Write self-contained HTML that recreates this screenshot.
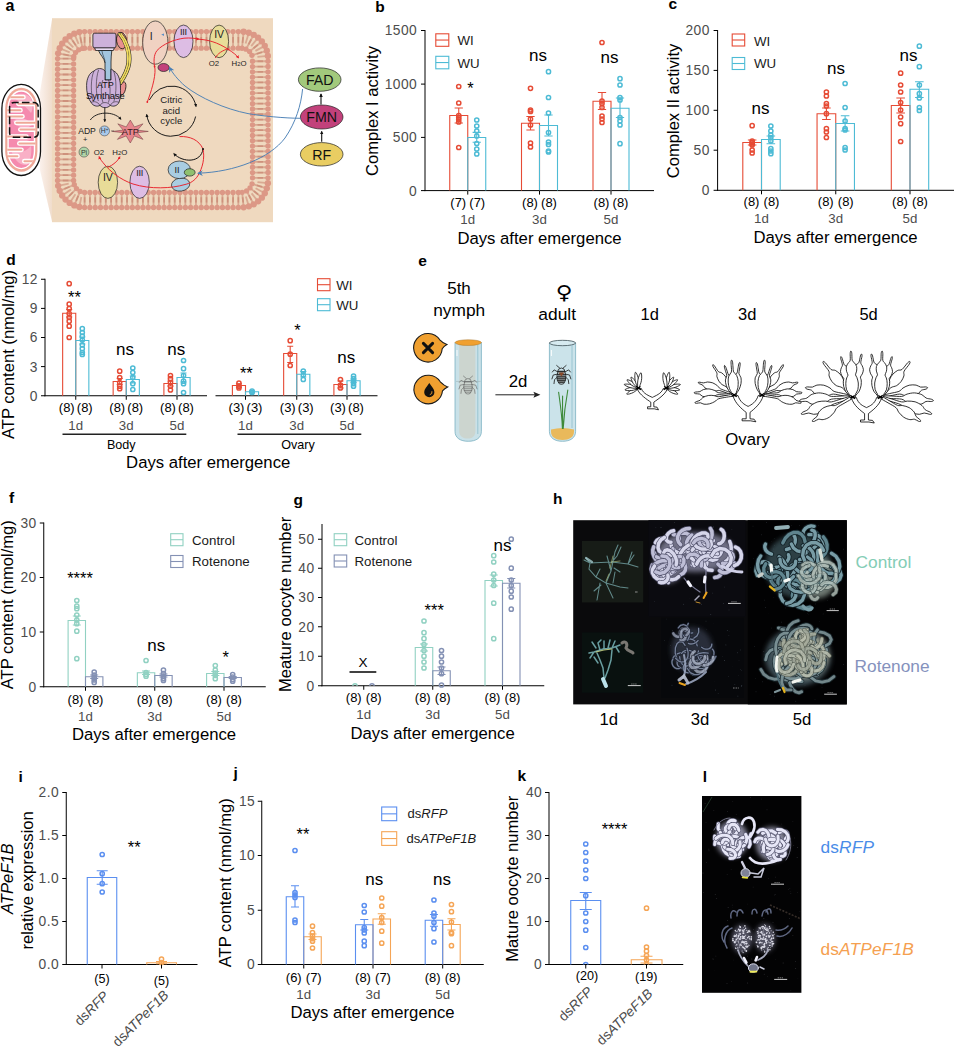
<!DOCTYPE html>
<html lang="en"><head><meta charset="utf-8"><title>Figure</title>
<style>
html,body{margin:0;padding:0;background:#fff;overflow:hidden;}
svg{display:block;font-family:"Liberation Sans",Arial,sans-serif;}
</style></head><body>
<svg width="954" height="1046" viewBox="0 0 954 1046">
<rect width="954" height="1046" fill="#fff"/>
<text x="375.3" y="12" font-size="15.5" text-anchor="start" fill="#000" font-weight="bold">b</text>
<line x1="425" y1="30" x2="425" y2="191.1" stroke="#000" stroke-width="1" />
<line x1="424.5" y1="190.6" x2="654" y2="190.6" stroke="#000" stroke-width="1" />
<line x1="421" y1="30.5" x2="425" y2="30.5" stroke="#000" stroke-width="1" />
<text x="417.2" y="35.47" font-size="13.8" text-anchor="end" fill="#4d4d4d" letter-spacing="0.45">1500</text>
<line x1="421" y1="84.1" x2="425" y2="84.1" stroke="#000" stroke-width="1" />
<text x="417.2" y="89.07" font-size="13.8" text-anchor="end" fill="#4d4d4d" letter-spacing="0.45">1000</text>
<line x1="421" y1="137.4" x2="425" y2="137.4" stroke="#000" stroke-width="1" />
<text x="417.2" y="142.37" font-size="13.8" text-anchor="end" fill="#4d4d4d" letter-spacing="0.45">500</text>
<line x1="421" y1="190.6" x2="425" y2="190.6" stroke="#000" stroke-width="1" />
<text x="417.2" y="195.57" font-size="13.8" text-anchor="end" fill="#4d4d4d" letter-spacing="0.45">0</text>
<text transform="translate(377.5,111) rotate(-90)" font-size="16.6" text-anchor="middle" fill="#000" >Complex I activity</text>
<path d="M449.75 190.6V115.5H467.75V190.6" fill="#fff" fill-opacity="0.0" stroke="#E64B35" stroke-width="1.1"/>
<path d="M467.75 190.6V137.5H485.75V190.6" fill="#fff" fill-opacity="0.0" stroke="#4DBBD5" stroke-width="1.1"/>
<path d="M458.75 108V123M454.61 108H462.89M454.61 123H462.89" fill="none" stroke="#E64B35" stroke-width="1.1"/>
<circle cx="458.75" cy="86.5" r="2.1" fill="none" stroke="#E64B35" stroke-width="1.5"/><circle cx="458.75" cy="103" r="2.1" fill="none" stroke="#E64B35" stroke-width="1.5"/><circle cx="458.75" cy="115.5" r="2.1" fill="none" stroke="#E64B35" stroke-width="1.5"/><circle cx="458.75" cy="117.5" r="2.1" fill="none" stroke="#E64B35" stroke-width="1.5"/><circle cx="458.75" cy="119.5" r="2.1" fill="none" stroke="#E64B35" stroke-width="1.5"/><circle cx="458.75" cy="122" r="2.1" fill="none" stroke="#E64B35" stroke-width="1.5"/><circle cx="458.75" cy="147.5" r="2.1" fill="none" stroke="#E64B35" stroke-width="1.5"/>
<path d="M476.75 132.4V142.2M472.61 132.4H480.89M472.61 142.2H480.89" fill="none" stroke="#4DBBD5" stroke-width="1.1"/>
<circle cx="476.75" cy="120" r="2.1" fill="none" stroke="#4DBBD5" stroke-width="1.5"/><circle cx="476.75" cy="126" r="2.1" fill="none" stroke="#4DBBD5" stroke-width="1.5"/><circle cx="476.75" cy="131" r="2.1" fill="none" stroke="#4DBBD5" stroke-width="1.5"/><circle cx="476.75" cy="136" r="2.1" fill="none" stroke="#4DBBD5" stroke-width="1.5"/><circle cx="476.75" cy="143.5" r="2.1" fill="none" stroke="#4DBBD5" stroke-width="1.5"/><circle cx="476.75" cy="149" r="2.1" fill="none" stroke="#4DBBD5" stroke-width="1.5"/><circle cx="476.75" cy="154" r="2.1" fill="none" stroke="#4DBBD5" stroke-width="1.5"/>
<line x1="467.75" y1="190.6" x2="467.75" y2="194.6" stroke="#000" stroke-width="1" />
<path d="M521.5 190.6V123.2H539.5V190.6" fill="#fff" fill-opacity="0.0" stroke="#E64B35" stroke-width="1.1"/>
<path d="M539.5 190.6V125.5H557.5V190.6" fill="#fff" fill-opacity="0.0" stroke="#4DBBD5" stroke-width="1.1"/>
<path d="M530.5 116.5V130M526.36 116.5H534.64M526.36 130H534.64" fill="none" stroke="#E64B35" stroke-width="1.1"/>
<circle cx="530.5" cy="88.3" r="2.1" fill="none" stroke="#E64B35" stroke-width="1.5"/><circle cx="530.5" cy="110" r="2.1" fill="none" stroke="#E64B35" stroke-width="1.5"/><circle cx="530.5" cy="111.5" r="2.1" fill="none" stroke="#E64B35" stroke-width="1.5"/><circle cx="530.5" cy="119" r="2.1" fill="none" stroke="#E64B35" stroke-width="1.5"/><circle cx="530.5" cy="125" r="2.1" fill="none" stroke="#E64B35" stroke-width="1.5"/><circle cx="530.5" cy="143" r="2.1" fill="none" stroke="#E64B35" stroke-width="1.5"/><circle cx="530.5" cy="147" r="2.1" fill="none" stroke="#E64B35" stroke-width="1.5"/>
<path d="M548.5 115V136M544.36 115H552.64M544.36 136H552.64" fill="none" stroke="#4DBBD5" stroke-width="1.1"/>
<circle cx="548.5" cy="71.7" r="2.1" fill="none" stroke="#4DBBD5" stroke-width="1.5"/><circle cx="548.5" cy="97.5" r="2.1" fill="none" stroke="#4DBBD5" stroke-width="1.5"/><circle cx="548.5" cy="113" r="2.1" fill="none" stroke="#4DBBD5" stroke-width="1.5"/><circle cx="548.5" cy="132.5" r="2.1" fill="none" stroke="#4DBBD5" stroke-width="1.5"/><circle cx="548.5" cy="142" r="2.1" fill="none" stroke="#4DBBD5" stroke-width="1.5"/><circle cx="548.5" cy="144.5" r="2.1" fill="none" stroke="#4DBBD5" stroke-width="1.5"/><circle cx="548.5" cy="151" r="2.1" fill="none" stroke="#4DBBD5" stroke-width="1.5"/><circle cx="548.5" cy="152" r="2.1" fill="none" stroke="#4DBBD5" stroke-width="1.5"/>
<line x1="539.5" y1="190.6" x2="539.5" y2="194.6" stroke="#000" stroke-width="1" />
<path d="M593 190.6V101.3H611V190.6" fill="#fff" fill-opacity="0.0" stroke="#E64B35" stroke-width="1.1"/>
<path d="M611 190.6V108.3H629V190.6" fill="#fff" fill-opacity="0.0" stroke="#4DBBD5" stroke-width="1.1"/>
<path d="M602 92.5V109.5M597.86 92.5H606.14M597.86 109.5H606.14" fill="none" stroke="#E64B35" stroke-width="1.1"/>
<circle cx="602" cy="42.5" r="2.1" fill="none" stroke="#E64B35" stroke-width="1.5"/><circle cx="602" cy="101" r="2.1" fill="none" stroke="#E64B35" stroke-width="1.5"/><circle cx="602" cy="103.5" r="2.1" fill="none" stroke="#E64B35" stroke-width="1.5"/><circle cx="602" cy="107.5" r="2.1" fill="none" stroke="#E64B35" stroke-width="1.5"/><circle cx="602" cy="116" r="2.1" fill="none" stroke="#E64B35" stroke-width="1.5"/><circle cx="602" cy="119" r="2.1" fill="none" stroke="#E64B35" stroke-width="1.5"/><circle cx="602" cy="122.5" r="2.1" fill="none" stroke="#E64B35" stroke-width="1.5"/>
<path d="M620 98V117.5M615.86 98H624.14M615.86 117.5H624.14" fill="none" stroke="#4DBBD5" stroke-width="1.1"/>
<circle cx="620" cy="78.7" r="2.1" fill="none" stroke="#4DBBD5" stroke-width="1.5"/><circle cx="620" cy="85" r="2.1" fill="none" stroke="#4DBBD5" stroke-width="1.5"/><circle cx="620" cy="97.5" r="2.1" fill="none" stroke="#4DBBD5" stroke-width="1.5"/><circle cx="620" cy="100" r="2.1" fill="none" stroke="#4DBBD5" stroke-width="1.5"/><circle cx="620" cy="117.5" r="2.1" fill="none" stroke="#4DBBD5" stroke-width="1.5"/><circle cx="620" cy="121" r="2.1" fill="none" stroke="#4DBBD5" stroke-width="1.5"/><circle cx="620" cy="125" r="2.1" fill="none" stroke="#4DBBD5" stroke-width="1.5"/><circle cx="620" cy="143.7" r="2.1" fill="none" stroke="#4DBBD5" stroke-width="1.5"/>
<line x1="611" y1="190.6" x2="611" y2="194.6" stroke="#000" stroke-width="1" />
<text x="458.25" y="206.8" font-size="13" text-anchor="middle" fill="#000" >(7)</text><text x="477.25" y="206.8" font-size="13" text-anchor="middle" fill="#000" >(7)</text><text x="467.75" y="224" font-size="13.3" text-anchor="middle" fill="#4d4d4d" >1d</text>
<text x="530" y="206.8" font-size="13" text-anchor="middle" fill="#000" >(8)</text><text x="549" y="206.8" font-size="13" text-anchor="middle" fill="#000" >(8)</text><text x="539.5" y="224" font-size="13.3" text-anchor="middle" fill="#4d4d4d" >3d</text>
<text x="601.5" y="206.8" font-size="13" text-anchor="middle" fill="#000" >(8)</text><text x="620.5" y="206.8" font-size="13" text-anchor="middle" fill="#000" >(8)</text><text x="611" y="224" font-size="13.3" text-anchor="middle" fill="#4d4d4d" >5d</text>
<text x="539.5" y="243.6" font-size="16.7" text-anchor="middle" fill="#000" >Days after emergence</text>
<rect x="435.8" y="33.8" width="13" height="12.5" fill="none" stroke="#E64B35" stroke-width="1.1"/><line x1="435.8" y1="40.05" x2="448.8" y2="40.05" stroke="#E64B35" stroke-width="1.1" /><text x="457.5" y="45" font-size="13.3" fill="#1a1a1a" >WI</text>
<rect x="435.8" y="56.3" width="13" height="12.5" fill="none" stroke="#4DBBD5" stroke-width="1.1"/><line x1="435.8" y1="62.55" x2="448.8" y2="62.55" stroke="#4DBBD5" stroke-width="1.1" /><text x="457.5" y="67.5" font-size="13.3" fill="#1a1a1a" >WU</text>
<text x="470.5" y="94.1" font-size="16.5" text-anchor="middle" fill="#000" >*</text>
<text x="538" y="61" font-size="17" text-anchor="middle" fill="#000" >ns</text>
<text x="609.5" y="62.5" font-size="17" text-anchor="middle" fill="#000" >ns</text>
<text x="668.6" y="8.8" font-size="15.5" text-anchor="start" fill="#000" font-weight="bold">c</text>
<line x1="717.6" y1="30" x2="717.6" y2="190.8" stroke="#000" stroke-width="1" />
<line x1="717.1" y1="190.3" x2="954" y2="190.3" stroke="#000" stroke-width="1" />
<line x1="713.6" y1="30.5" x2="717.6" y2="30.5" stroke="#000" stroke-width="1" />
<text x="709.8" y="35.47" font-size="13.8" text-anchor="end" fill="#4d4d4d" letter-spacing="0.45">200</text>
<line x1="713.6" y1="70.4" x2="717.6" y2="70.4" stroke="#000" stroke-width="1" />
<text x="709.8" y="75.37" font-size="13.8" text-anchor="end" fill="#4d4d4d" letter-spacing="0.45">150</text>
<line x1="713.6" y1="110.3" x2="717.6" y2="110.3" stroke="#000" stroke-width="1" />
<text x="709.8" y="115.27" font-size="13.8" text-anchor="end" fill="#4d4d4d" letter-spacing="0.45">100</text>
<line x1="713.6" y1="150.2" x2="717.6" y2="150.2" stroke="#000" stroke-width="1" />
<text x="709.8" y="155.17" font-size="13.8" text-anchor="end" fill="#4d4d4d" letter-spacing="0.45">50</text>
<line x1="713.6" y1="190.3" x2="717.6" y2="190.3" stroke="#000" stroke-width="1" />
<text x="709.8" y="195.27" font-size="13.8" text-anchor="end" fill="#4d4d4d" letter-spacing="0.45">0</text>
<text transform="translate(679,111) rotate(-90)" font-size="16.6" text-anchor="middle" fill="#000" >Complex II activity</text>
<path d="M742.8 190.3V142.5H761.5V190.3" fill="#fff" fill-opacity="0.0" stroke="#E64B35" stroke-width="1.1"/>
<path d="M761.5 190.3V139.5H780.2V190.3" fill="#fff" fill-opacity="0.0" stroke="#4DBBD5" stroke-width="1.1"/>
<path d="M752.15 140V145M747.85 140H756.45M747.85 145H756.45" fill="none" stroke="#E64B35" stroke-width="1.1"/>
<circle cx="752.15" cy="125.7" r="2.1" fill="none" stroke="#E64B35" stroke-width="1.5"/><circle cx="752.15" cy="141" r="2.1" fill="none" stroke="#E64B35" stroke-width="1.5"/><circle cx="752.15" cy="142.5" r="2.1" fill="none" stroke="#E64B35" stroke-width="1.5"/><circle cx="752.15" cy="144" r="2.1" fill="none" stroke="#E64B35" stroke-width="1.5"/><circle cx="752.15" cy="145" r="2.1" fill="none" stroke="#E64B35" stroke-width="1.5"/><circle cx="752.15" cy="150" r="2.1" fill="none" stroke="#E64B35" stroke-width="1.5"/><circle cx="752.15" cy="153" r="2.1" fill="none" stroke="#E64B35" stroke-width="1.5"/>
<path d="M770.85 136V143.7M766.55 136H775.15M766.55 143.7H775.15" fill="none" stroke="#4DBBD5" stroke-width="1.1"/>
<circle cx="770.85" cy="126" r="2.1" fill="none" stroke="#4DBBD5" stroke-width="1.5"/><circle cx="770.85" cy="131" r="2.1" fill="none" stroke="#4DBBD5" stroke-width="1.5"/><circle cx="770.85" cy="135" r="2.1" fill="none" stroke="#4DBBD5" stroke-width="1.5"/><circle cx="770.85" cy="137.5" r="2.1" fill="none" stroke="#4DBBD5" stroke-width="1.5"/><circle cx="770.85" cy="141" r="2.1" fill="none" stroke="#4DBBD5" stroke-width="1.5"/><circle cx="770.85" cy="148.7" r="2.1" fill="none" stroke="#4DBBD5" stroke-width="1.5"/><circle cx="770.85" cy="151" r="2.1" fill="none" stroke="#4DBBD5" stroke-width="1.5"/><circle cx="770.85" cy="153.7" r="2.1" fill="none" stroke="#4DBBD5" stroke-width="1.5"/>
<line x1="761.5" y1="190.3" x2="761.5" y2="194.3" stroke="#000" stroke-width="1" />
<path d="M817.05 190.3V113.7H835.75V190.3" fill="#fff" fill-opacity="0.0" stroke="#E64B35" stroke-width="1.1"/>
<path d="M835.75 190.3V123.5H854.45V190.3" fill="#fff" fill-opacity="0.0" stroke="#4DBBD5" stroke-width="1.1"/>
<path d="M826.4 108V119.5M822.1 108H830.7M822.1 119.5H830.7" fill="none" stroke="#E64B35" stroke-width="1.1"/>
<circle cx="826.4" cy="92" r="2.1" fill="none" stroke="#E64B35" stroke-width="1.5"/><circle cx="826.4" cy="96" r="2.1" fill="none" stroke="#E64B35" stroke-width="1.5"/><circle cx="826.4" cy="103.7" r="2.1" fill="none" stroke="#E64B35" stroke-width="1.5"/><circle cx="826.4" cy="106" r="2.1" fill="none" stroke="#E64B35" stroke-width="1.5"/><circle cx="826.4" cy="113.7" r="2.1" fill="none" stroke="#E64B35" stroke-width="1.5"/><circle cx="826.4" cy="128.7" r="2.1" fill="none" stroke="#E64B35" stroke-width="1.5"/><circle cx="826.4" cy="132" r="2.1" fill="none" stroke="#E64B35" stroke-width="1.5"/><circle cx="826.4" cy="137.5" r="2.1" fill="none" stroke="#E64B35" stroke-width="1.5"/>
<path d="M845.1 115.7V131M840.8 115.7H849.4M840.8 131H849.4" fill="none" stroke="#4DBBD5" stroke-width="1.1"/>
<circle cx="845.1" cy="83.5" r="2.1" fill="none" stroke="#4DBBD5" stroke-width="1.5"/><circle cx="845.1" cy="107.5" r="2.1" fill="none" stroke="#4DBBD5" stroke-width="1.5"/><circle cx="845.1" cy="121" r="2.1" fill="none" stroke="#4DBBD5" stroke-width="1.5"/><circle cx="845.1" cy="128.7" r="2.1" fill="none" stroke="#4DBBD5" stroke-width="1.5"/><circle cx="845.1" cy="130" r="2.1" fill="none" stroke="#4DBBD5" stroke-width="1.5"/><circle cx="845.1" cy="147.5" r="2.1" fill="none" stroke="#4DBBD5" stroke-width="1.5"/><circle cx="845.1" cy="150" r="2.1" fill="none" stroke="#4DBBD5" stroke-width="1.5"/>
<line x1="835.75" y1="190.3" x2="835.75" y2="194.3" stroke="#000" stroke-width="1" />
<path d="M891.3 190.3V105.5H910V190.3" fill="#fff" fill-opacity="0.0" stroke="#E64B35" stroke-width="1.1"/>
<path d="M910 190.3V89.2H928.7V190.3" fill="#fff" fill-opacity="0.0" stroke="#4DBBD5" stroke-width="1.1"/>
<path d="M900.65 98V113M896.35 98H904.95M896.35 113H904.95" fill="none" stroke="#E64B35" stroke-width="1.1"/>
<circle cx="900.65" cy="73.2" r="2.1" fill="none" stroke="#E64B35" stroke-width="1.5"/><circle cx="900.65" cy="85" r="2.1" fill="none" stroke="#E64B35" stroke-width="1.5"/><circle cx="900.65" cy="92" r="2.1" fill="none" stroke="#E64B35" stroke-width="1.5"/><circle cx="900.65" cy="102.5" r="2.1" fill="none" stroke="#E64B35" stroke-width="1.5"/><circle cx="900.65" cy="110" r="2.1" fill="none" stroke="#E64B35" stroke-width="1.5"/><circle cx="900.65" cy="117" r="2.1" fill="none" stroke="#E64B35" stroke-width="1.5"/><circle cx="900.65" cy="123.7" r="2.1" fill="none" stroke="#E64B35" stroke-width="1.5"/><circle cx="900.65" cy="141.5" r="2.1" fill="none" stroke="#E64B35" stroke-width="1.5"/>
<path d="M919.35 81.7V97.5M915.05 81.7H923.65M915.05 97.5H923.65" fill="none" stroke="#4DBBD5" stroke-width="1.1"/>
<circle cx="919.35" cy="46.2" r="2.1" fill="none" stroke="#4DBBD5" stroke-width="1.5"/><circle cx="919.35" cy="66.7" r="2.1" fill="none" stroke="#4DBBD5" stroke-width="1.5"/><circle cx="919.35" cy="85" r="2.1" fill="none" stroke="#4DBBD5" stroke-width="1.5"/><circle cx="919.35" cy="93.7" r="2.1" fill="none" stroke="#4DBBD5" stroke-width="1.5"/><circle cx="919.35" cy="98" r="2.1" fill="none" stroke="#4DBBD5" stroke-width="1.5"/><circle cx="919.35" cy="107.5" r="2.1" fill="none" stroke="#4DBBD5" stroke-width="1.5"/><circle cx="919.35" cy="110.5" r="2.1" fill="none" stroke="#4DBBD5" stroke-width="1.5"/>
<line x1="910" y1="190.3" x2="910" y2="194.3" stroke="#000" stroke-width="1" />
<text x="751.5" y="205.6" font-size="13" text-anchor="middle" fill="#000" >(8)</text><text x="771.5" y="205.6" font-size="13" text-anchor="middle" fill="#000" >(8)</text><text x="761.5" y="223.2" font-size="13.3" text-anchor="middle" fill="#4d4d4d" >1d</text>
<text x="825.75" y="205.6" font-size="13" text-anchor="middle" fill="#000" >(8)</text><text x="845.75" y="205.6" font-size="13" text-anchor="middle" fill="#000" >(8)</text><text x="835.75" y="223.2" font-size="13.3" text-anchor="middle" fill="#4d4d4d" >3d</text>
<text x="900" y="205.6" font-size="13" text-anchor="middle" fill="#000" >(8)</text><text x="920" y="205.6" font-size="13" text-anchor="middle" fill="#000" >(8)</text><text x="910" y="223.2" font-size="13.3" text-anchor="middle" fill="#4d4d4d" >5d</text>
<text x="835.5" y="242.6" font-size="16.7" text-anchor="middle" fill="#000" >Days after emergence</text>
<rect x="732.2" y="34" width="12.5" height="12" fill="none" stroke="#E64B35" stroke-width="1.1"/><line x1="732.2" y1="40" x2="744.7" y2="40" stroke="#E64B35" stroke-width="1.1" /><text x="754" y="45.5" font-size="13.3" fill="#1a1a1a" >WI</text>
<rect x="732.2" y="57.5" width="12.5" height="12" fill="none" stroke="#4DBBD5" stroke-width="1.1"/><line x1="732.2" y1="63.5" x2="744.7" y2="63.5" stroke="#4DBBD5" stroke-width="1.1" /><text x="754" y="68" font-size="13.3" fill="#1a1a1a" >WU</text>
<text x="760.5" y="113.7" font-size="17" text-anchor="middle" fill="#000" >ns</text>
<text x="836" y="74" font-size="17" text-anchor="middle" fill="#000" >ns</text>
<text x="908.5" y="61" font-size="17" text-anchor="middle" fill="#000" >ns</text>
<text x="6.2" y="264.5" font-size="15.5" text-anchor="start" fill="#000" font-weight="bold">d</text>
<line x1="45" y1="278.75" x2="45" y2="396.25" stroke="#000" stroke-width="1" />
<line x1="44.5" y1="395.75" x2="207" y2="395.75" stroke="#000" stroke-width="1" />
<line x1="41" y1="279.25" x2="45" y2="279.25" stroke="#000" stroke-width="1" />
<text x="37.9" y="284.22" font-size="13.8" text-anchor="end" fill="#4d4d4d" letter-spacing="0.45">12</text>
<line x1="41" y1="308.4" x2="45" y2="308.4" stroke="#000" stroke-width="1" />
<text x="37.9" y="313.37" font-size="13.8" text-anchor="end" fill="#4d4d4d" letter-spacing="0.45">9</text>
<line x1="41" y1="337.5" x2="45" y2="337.5" stroke="#000" stroke-width="1" />
<text x="37.9" y="342.47" font-size="13.8" text-anchor="end" fill="#4d4d4d" letter-spacing="0.45">6</text>
<line x1="41" y1="366.6" x2="45" y2="366.6" stroke="#000" stroke-width="1" />
<text x="37.9" y="371.57" font-size="13.8" text-anchor="end" fill="#4d4d4d" letter-spacing="0.45">3</text>
<line x1="41" y1="395.75" x2="45" y2="395.75" stroke="#000" stroke-width="1" />
<text x="37.9" y="400.72" font-size="13.8" text-anchor="end" fill="#4d4d4d" letter-spacing="0.45">0</text>
<line x1="215.5" y1="395.75" x2="377.5" y2="395.75" stroke="#000" stroke-width="1" />
<text transform="translate(14.3,354.5) rotate(-90)" font-size="16.6" text-anchor="middle" fill="#000" >ATP content (nmol/mg)</text>
<path d="M62.65 395.75V313.2H75.75V395.75" fill="#fff" fill-opacity="0.0" stroke="#E64B35" stroke-width="1.1"/>
<path d="M75.75 395.75V340.5H88.85V395.75" fill="#fff" fill-opacity="0.0" stroke="#4DBBD5" stroke-width="1.1"/>
<path d="M69.2 309.5V317M66.19 309.5H72.21M66.19 317H72.21" fill="none" stroke="#E64B35" stroke-width="1.1"/>
<circle cx="69.2" cy="283.7" r="2.1" fill="none" stroke="#E64B35" stroke-width="1.5"/><circle cx="69.2" cy="304.2" r="2.1" fill="none" stroke="#E64B35" stroke-width="1.5"/><circle cx="69.2" cy="308.7" r="2.1" fill="none" stroke="#E64B35" stroke-width="1.5"/><circle cx="69.2" cy="313.7" r="2.1" fill="none" stroke="#E64B35" stroke-width="1.5"/><circle cx="69.2" cy="317.5" r="2.1" fill="none" stroke="#E64B35" stroke-width="1.5"/><circle cx="69.2" cy="321.2" r="2.1" fill="none" stroke="#E64B35" stroke-width="1.5"/><circle cx="69.2" cy="326.2" r="2.1" fill="none" stroke="#E64B35" stroke-width="1.5"/><circle cx="69.2" cy="337.5" r="2.1" fill="none" stroke="#E64B35" stroke-width="1.5"/>
<path d="M82.3 337V344M79.29 337H85.31M79.29 344H85.31" fill="none" stroke="#4DBBD5" stroke-width="1.1"/>
<circle cx="82.3" cy="328.7" r="2.1" fill="none" stroke="#4DBBD5" stroke-width="1.5"/><circle cx="82.3" cy="332.5" r="2.1" fill="none" stroke="#4DBBD5" stroke-width="1.5"/><circle cx="82.3" cy="336.2" r="2.1" fill="none" stroke="#4DBBD5" stroke-width="1.5"/><circle cx="82.3" cy="340" r="2.1" fill="none" stroke="#4DBBD5" stroke-width="1.5"/><circle cx="82.3" cy="345" r="2.1" fill="none" stroke="#4DBBD5" stroke-width="1.5"/><circle cx="82.3" cy="348.7" r="2.1" fill="none" stroke="#4DBBD5" stroke-width="1.5"/><circle cx="82.3" cy="352.5" r="2.1" fill="none" stroke="#4DBBD5" stroke-width="1.5"/><circle cx="82.3" cy="354.5" r="2.1" fill="none" stroke="#4DBBD5" stroke-width="1.5"/>
<line x1="75.75" y1="395.75" x2="75.75" y2="399.75" stroke="#000" stroke-width="1" />
<path d="M113.15 395.75V381.5H126.25V395.75" fill="#fff" fill-opacity="0.0" stroke="#E64B35" stroke-width="1.1"/>
<path d="M126.25 395.75V379.5H139.35V395.75" fill="#fff" fill-opacity="0.0" stroke="#4DBBD5" stroke-width="1.1"/>
<path d="M119.7 378.5V384.5M116.69 378.5H122.71M116.69 384.5H122.71" fill="none" stroke="#E64B35" stroke-width="1.1"/>
<circle cx="119.7" cy="371.2" r="2.1" fill="none" stroke="#E64B35" stroke-width="1.5"/><circle cx="119.7" cy="377.5" r="2.1" fill="none" stroke="#E64B35" stroke-width="1.5"/><circle cx="119.7" cy="382.5" r="2.1" fill="none" stroke="#E64B35" stroke-width="1.5"/><circle cx="119.7" cy="386.2" r="2.1" fill="none" stroke="#E64B35" stroke-width="1.5"/><circle cx="119.7" cy="388.7" r="2.1" fill="none" stroke="#E64B35" stroke-width="1.5"/>
<path d="M132.8 376V383M129.79 376H135.81M129.79 383H135.81" fill="none" stroke="#4DBBD5" stroke-width="1.1"/>
<circle cx="132.8" cy="368" r="2.1" fill="none" stroke="#4DBBD5" stroke-width="1.5"/><circle cx="132.8" cy="372.5" r="2.1" fill="none" stroke="#4DBBD5" stroke-width="1.5"/><circle cx="132.8" cy="377.5" r="2.1" fill="none" stroke="#4DBBD5" stroke-width="1.5"/><circle cx="132.8" cy="383.7" r="2.1" fill="none" stroke="#4DBBD5" stroke-width="1.5"/><circle cx="132.8" cy="389.5" r="2.1" fill="none" stroke="#4DBBD5" stroke-width="1.5"/>
<line x1="126.25" y1="395.75" x2="126.25" y2="399.75" stroke="#000" stroke-width="1" />
<path d="M163.9 395.75V383.5H177V395.75" fill="#fff" fill-opacity="0.0" stroke="#E64B35" stroke-width="1.1"/>
<path d="M177 395.75V377.5H190.1V395.75" fill="#fff" fill-opacity="0.0" stroke="#4DBBD5" stroke-width="1.1"/>
<path d="M170.45 381V386M167.44 381H173.46M167.44 386H173.46" fill="none" stroke="#E64B35" stroke-width="1.1"/>
<circle cx="170.45" cy="375.7" r="2.1" fill="none" stroke="#E64B35" stroke-width="1.5"/><circle cx="170.45" cy="378.7" r="2.1" fill="none" stroke="#E64B35" stroke-width="1.5"/><circle cx="170.45" cy="382.5" r="2.1" fill="none" stroke="#E64B35" stroke-width="1.5"/><circle cx="170.45" cy="386.2" r="2.1" fill="none" stroke="#E64B35" stroke-width="1.5"/><circle cx="170.45" cy="390" r="2.1" fill="none" stroke="#E64B35" stroke-width="1.5"/>
<path d="M183.55 373V382M180.54 373H186.56M180.54 382H186.56" fill="none" stroke="#4DBBD5" stroke-width="1.1"/>
<circle cx="183.55" cy="360.5" r="2.1" fill="none" stroke="#4DBBD5" stroke-width="1.5"/><circle cx="183.55" cy="368.7" r="2.1" fill="none" stroke="#4DBBD5" stroke-width="1.5"/><circle cx="183.55" cy="375.5" r="2.1" fill="none" stroke="#4DBBD5" stroke-width="1.5"/><circle cx="183.55" cy="381.2" r="2.1" fill="none" stroke="#4DBBD5" stroke-width="1.5"/><circle cx="183.55" cy="383.7" r="2.1" fill="none" stroke="#4DBBD5" stroke-width="1.5"/><circle cx="183.55" cy="392.5" r="2.1" fill="none" stroke="#4DBBD5" stroke-width="1.5"/>
<line x1="177" y1="395.75" x2="177" y2="399.75" stroke="#000" stroke-width="1" />
<path d="M232.4 395.75V385.5H245.5V395.75" fill="#fff" fill-opacity="0.0" stroke="#E64B35" stroke-width="1.1"/>
<path d="M245.5 395.75V391.7H258.6V395.75" fill="#fff" fill-opacity="0.0" stroke="#4DBBD5" stroke-width="1.1"/>
<path d="M238.95 383.7V387.2M235.94 383.7H241.96M235.94 387.2H241.96" fill="none" stroke="#E64B35" stroke-width="1.1"/>
<circle cx="238.95" cy="383.2" r="2.1" fill="none" stroke="#E64B35" stroke-width="1.5"/><circle cx="238.95" cy="386.2" r="2.1" fill="none" stroke="#E64B35" stroke-width="1.5"/><circle cx="238.95" cy="388" r="2.1" fill="none" stroke="#E64B35" stroke-width="1.5"/>
<path d="M252.05 390.7V392.7M249.04 390.7H255.06M249.04 392.7H255.06" fill="none" stroke="#4DBBD5" stroke-width="1.1"/>
<circle cx="252.05" cy="391.2" r="2.1" fill="none" stroke="#4DBBD5" stroke-width="1.5"/><circle cx="252.05" cy="392.5" r="2.1" fill="none" stroke="#4DBBD5" stroke-width="1.5"/>
<line x1="245.5" y1="395.75" x2="245.5" y2="399.75" stroke="#000" stroke-width="1" />
<path d="M283.65 395.75V353.5H296.75V395.75" fill="#fff" fill-opacity="0.0" stroke="#E64B35" stroke-width="1.1"/>
<path d="M296.75 395.75V374.2H309.85V395.75" fill="#fff" fill-opacity="0.0" stroke="#4DBBD5" stroke-width="1.1"/>
<path d="M290.2 346.2V362.5M287.19 346.2H293.21M287.19 362.5H293.21" fill="none" stroke="#E64B35" stroke-width="1.1"/>
<circle cx="290.2" cy="340.7" r="2.1" fill="none" stroke="#E64B35" stroke-width="1.5"/><circle cx="290.2" cy="354.2" r="2.1" fill="none" stroke="#E64B35" stroke-width="1.5"/><circle cx="290.2" cy="365.5" r="2.1" fill="none" stroke="#E64B35" stroke-width="1.5"/>
<path d="M303.3 371.5V377M300.29 371.5H306.31M300.29 377H306.31" fill="none" stroke="#4DBBD5" stroke-width="1.1"/>
<circle cx="303.3" cy="371.2" r="2.1" fill="none" stroke="#4DBBD5" stroke-width="1.5"/><circle cx="303.3" cy="375" r="2.1" fill="none" stroke="#4DBBD5" stroke-width="1.5"/><circle cx="303.3" cy="379.5" r="2.1" fill="none" stroke="#4DBBD5" stroke-width="1.5"/>
<line x1="296.75" y1="395.75" x2="296.75" y2="399.75" stroke="#000" stroke-width="1" />
<path d="M333.9 395.75V384.5H347V395.75" fill="#fff" fill-opacity="0.0" stroke="#E64B35" stroke-width="1.1"/>
<path d="M347 395.75V380.7H360.1V395.75" fill="#fff" fill-opacity="0.0" stroke="#4DBBD5" stroke-width="1.1"/>
<path d="M340.45 381V388M337.44 381H343.46M337.44 388H343.46" fill="none" stroke="#E64B35" stroke-width="1.1"/>
<circle cx="340.45" cy="379.5" r="2.1" fill="none" stroke="#E64B35" stroke-width="1.5"/><circle cx="340.45" cy="385" r="2.1" fill="none" stroke="#E64B35" stroke-width="1.5"/><circle cx="340.45" cy="388" r="2.1" fill="none" stroke="#E64B35" stroke-width="1.5"/>
<path d="M353.55 379V382.5M350.54 379H356.56M350.54 382.5H356.56" fill="none" stroke="#4DBBD5" stroke-width="1.1"/>
<circle cx="353.55" cy="376.2" r="2.1" fill="none" stroke="#4DBBD5" stroke-width="1.5"/><circle cx="353.55" cy="378.7" r="2.1" fill="none" stroke="#4DBBD5" stroke-width="1.5"/><circle cx="353.55" cy="381.2" r="2.1" fill="none" stroke="#4DBBD5" stroke-width="1.5"/><circle cx="353.55" cy="383.7" r="2.1" fill="none" stroke="#4DBBD5" stroke-width="1.5"/><circle cx="353.55" cy="386.2" r="2.1" fill="none" stroke="#4DBBD5" stroke-width="1.5"/>
<line x1="347" y1="395.75" x2="347" y2="399.75" stroke="#000" stroke-width="1" />
<text x="66.75" y="412.3" font-size="13" text-anchor="middle" fill="#000" >(8)</text><text x="84.75" y="412.3" font-size="13" text-anchor="middle" fill="#000" >(8)</text><text x="75.75" y="430" font-size="13.3" text-anchor="middle" fill="#4d4d4d" >1d</text>
<text x="117.25" y="412.3" font-size="13" text-anchor="middle" fill="#000" >(8)</text><text x="135.25" y="412.3" font-size="13" text-anchor="middle" fill="#000" >(8)</text><text x="126.25" y="430" font-size="13.3" text-anchor="middle" fill="#4d4d4d" >3d</text>
<text x="168" y="412.3" font-size="13" text-anchor="middle" fill="#000" >(8)</text><text x="186" y="412.3" font-size="13" text-anchor="middle" fill="#000" >(8)</text><text x="177" y="430" font-size="13.3" text-anchor="middle" fill="#4d4d4d" >5d</text>
<text x="236.5" y="412.3" font-size="13" text-anchor="middle" fill="#000" >(3)</text><text x="254.5" y="412.3" font-size="13" text-anchor="middle" fill="#000" >(3)</text><text x="245.5" y="430" font-size="13.3" text-anchor="middle" fill="#4d4d4d" >1d</text>
<text x="287.75" y="412.3" font-size="13" text-anchor="middle" fill="#000" >(3)</text><text x="305.75" y="412.3" font-size="13" text-anchor="middle" fill="#000" >(3)</text><text x="296.75" y="430" font-size="13.3" text-anchor="middle" fill="#4d4d4d" >3d</text>
<text x="338" y="412.3" font-size="13" text-anchor="middle" fill="#000" >(3)</text><text x="356" y="412.3" font-size="13" text-anchor="middle" fill="#000" >(8)</text><text x="347" y="430" font-size="13.3" text-anchor="middle" fill="#4d4d4d" >5d</text>
<line x1="62.5" y1="434.3" x2="186.3" y2="434.3" stroke="#222" stroke-width="1.6" />
<line x1="237.5" y1="434.3" x2="361.3" y2="434.3" stroke="#222" stroke-width="1.6" />
<text x="121.3" y="449.3" font-size="12.6" text-anchor="middle" fill="#000" >Body</text>
<text x="298" y="449.3" font-size="12.6" text-anchor="middle" fill="#000" >Ovary</text>
<text x="208.2" y="467.5" font-size="16.7" text-anchor="middle" fill="#000" >Days after emergence</text>
<rect x="317.5" y="278.7" width="12.5" height="12" fill="none" stroke="#E64B35" stroke-width="1.1"/><line x1="317.5" y1="284.7" x2="330" y2="284.7" stroke="#E64B35" stroke-width="1.1" /><text x="336.2" y="290" font-size="13.3" fill="#1a1a1a" >WI</text>
<rect x="317.5" y="298.7" width="12.5" height="12" fill="none" stroke="#4DBBD5" stroke-width="1.1"/><line x1="317.5" y1="304.7" x2="330" y2="304.7" stroke="#4DBBD5" stroke-width="1.1" /><text x="336.2" y="309.6" font-size="13.3" fill="#1a1a1a" >WU</text>
<text x="74.5" y="302.9" font-size="16.5" text-anchor="middle" fill="#000" >**</text>
<text x="125" y="355" font-size="17" text-anchor="middle" fill="#000" >ns</text>
<text x="176.3" y="355" font-size="17" text-anchor="middle" fill="#000" >ns</text>
<text x="246.3" y="378.9" font-size="16.5" text-anchor="middle" fill="#000" >**</text>
<text x="297.5" y="335.9" font-size="16.5" text-anchor="middle" fill="#000" >*</text>
<text x="346.3" y="362.5" font-size="17" text-anchor="middle" fill="#000" >ns</text>
<text x="9" y="503.3" font-size="15.5" text-anchor="start" fill="#000" font-weight="bold">f</text>
<line x1="43.75" y1="522.5" x2="43.75" y2="687.25" stroke="#000" stroke-width="1" />
<line x1="43.25" y1="686.75" x2="265.75" y2="686.75" stroke="#000" stroke-width="1" />
<line x1="39.75" y1="523" x2="43.75" y2="523" stroke="#000" stroke-width="1" />
<text x="36.65" y="527.97" font-size="13.8" text-anchor="end" fill="#4d4d4d" letter-spacing="0.45">30</text>
<line x1="39.75" y1="577.5" x2="43.75" y2="577.5" stroke="#000" stroke-width="1" />
<text x="36.65" y="582.47" font-size="13.8" text-anchor="end" fill="#4d4d4d" letter-spacing="0.45">20</text>
<line x1="39.75" y1="632" x2="43.75" y2="632" stroke="#000" stroke-width="1" />
<text x="36.65" y="636.97" font-size="13.8" text-anchor="end" fill="#4d4d4d" letter-spacing="0.45">10</text>
<line x1="39.75" y1="686.75" x2="43.75" y2="686.75" stroke="#000" stroke-width="1" />
<text x="36.65" y="691.72" font-size="13.8" text-anchor="end" fill="#4d4d4d" letter-spacing="0.45">0</text>
<text transform="translate(13.4,604.7) rotate(-90)" font-size="16.6" text-anchor="middle" fill="#000" >ATP content (nmol/mg)</text>
<path d="M68.1 686.75V620.5H85.5V686.75" fill="#fff" fill-opacity="0.0" stroke="#91D1C2" stroke-width="1.1"/>
<path d="M85.5 686.75V676.7H102.9V686.75" fill="#fff" fill-opacity="0.0" stroke="#8491B4" stroke-width="1.1"/>
<path d="M76.8 616V625M72.8 616H80.8M72.8 625H80.8" fill="none" stroke="#91D1C2" stroke-width="1.1"/>
<circle cx="76.8" cy="600.5" r="2.1" fill="none" stroke="#91D1C2" stroke-width="1.5"/><circle cx="76.8" cy="606.2" r="2.1" fill="none" stroke="#91D1C2" stroke-width="1.5"/><circle cx="76.8" cy="608.7" r="2.1" fill="none" stroke="#91D1C2" stroke-width="1.5"/><circle cx="76.8" cy="615" r="2.1" fill="none" stroke="#91D1C2" stroke-width="1.5"/><circle cx="76.8" cy="620" r="2.1" fill="none" stroke="#91D1C2" stroke-width="1.5"/><circle cx="76.8" cy="623.7" r="2.1" fill="none" stroke="#91D1C2" stroke-width="1.5"/><circle cx="76.8" cy="631.2" r="2.1" fill="none" stroke="#91D1C2" stroke-width="1.5"/><circle cx="76.8" cy="658.7" r="2.1" fill="none" stroke="#91D1C2" stroke-width="1.5"/>
<path d="M94.2 675V678.5M90.2 675H98.2M90.2 678.5H98.2" fill="none" stroke="#8491B4" stroke-width="1.1"/>
<circle cx="94.2" cy="672" r="2.1" fill="none" stroke="#8491B4" stroke-width="1.5"/><circle cx="94.2" cy="675" r="2.1" fill="none" stroke="#8491B4" stroke-width="1.5"/><circle cx="94.2" cy="677.5" r="2.1" fill="none" stroke="#8491B4" stroke-width="1.5"/><circle cx="94.2" cy="680" r="2.1" fill="none" stroke="#8491B4" stroke-width="1.5"/><circle cx="94.2" cy="682.5" r="2.1" fill="none" stroke="#8491B4" stroke-width="1.5"/>
<line x1="85.5" y1="686.75" x2="85.5" y2="690.75" stroke="#000" stroke-width="1" />
<path d="M137.35 686.75V672.7H154.75V686.75" fill="#fff" fill-opacity="0.0" stroke="#91D1C2" stroke-width="1.1"/>
<path d="M154.75 686.75V675.5H172.15V686.75" fill="#fff" fill-opacity="0.0" stroke="#8491B4" stroke-width="1.1"/>
<path d="M146.05 671V674.5M142.05 671H150.05M142.05 674.5H150.05" fill="none" stroke="#91D1C2" stroke-width="1.1"/>
<circle cx="146.05" cy="660.5" r="2.1" fill="none" stroke="#91D1C2" stroke-width="1.5"/><circle cx="146.05" cy="672.5" r="2.1" fill="none" stroke="#91D1C2" stroke-width="1.5"/><circle cx="146.05" cy="674.5" r="2.1" fill="none" stroke="#91D1C2" stroke-width="1.5"/><circle cx="146.05" cy="676.2" r="2.1" fill="none" stroke="#91D1C2" stroke-width="1.5"/>
<path d="M163.45 674V677M159.45 674H167.45M159.45 677H167.45" fill="none" stroke="#8491B4" stroke-width="1.1"/>
<circle cx="163.45" cy="670" r="2.1" fill="none" stroke="#8491B4" stroke-width="1.5"/><circle cx="163.45" cy="673.7" r="2.1" fill="none" stroke="#8491B4" stroke-width="1.5"/><circle cx="163.45" cy="676.2" r="2.1" fill="none" stroke="#8491B4" stroke-width="1.5"/><circle cx="163.45" cy="678.7" r="2.1" fill="none" stroke="#8491B4" stroke-width="1.5"/><circle cx="163.45" cy="680.5" r="2.1" fill="none" stroke="#8491B4" stroke-width="1.5"/>
<line x1="154.75" y1="686.75" x2="154.75" y2="690.75" stroke="#000" stroke-width="1" />
<path d="M206.6 686.75V673.5H224V686.75" fill="#fff" fill-opacity="0.0" stroke="#91D1C2" stroke-width="1.1"/>
<path d="M224 686.75V677.5H241.4V686.75" fill="#fff" fill-opacity="0.0" stroke="#8491B4" stroke-width="1.1"/>
<path d="M215.3 671.5V675.5M211.3 671.5H219.3M211.3 675.5H219.3" fill="none" stroke="#91D1C2" stroke-width="1.1"/>
<circle cx="215.3" cy="665.5" r="2.1" fill="none" stroke="#91D1C2" stroke-width="1.5"/><circle cx="215.3" cy="670" r="2.1" fill="none" stroke="#91D1C2" stroke-width="1.5"/><circle cx="215.3" cy="673" r="2.1" fill="none" stroke="#91D1C2" stroke-width="1.5"/><circle cx="215.3" cy="675.5" r="2.1" fill="none" stroke="#91D1C2" stroke-width="1.5"/><circle cx="215.3" cy="678.7" r="2.1" fill="none" stroke="#91D1C2" stroke-width="1.5"/>
<path d="M232.7 676.5V678.5M228.7 676.5H236.7M228.7 678.5H236.7" fill="none" stroke="#8491B4" stroke-width="1.1"/>
<circle cx="232.7" cy="674.5" r="2.1" fill="none" stroke="#8491B4" stroke-width="1.5"/><circle cx="232.7" cy="677" r="2.1" fill="none" stroke="#8491B4" stroke-width="1.5"/><circle cx="232.7" cy="679.5" r="2.1" fill="none" stroke="#8491B4" stroke-width="1.5"/><circle cx="232.7" cy="681.2" r="2.1" fill="none" stroke="#8491B4" stroke-width="1.5"/>
<line x1="224" y1="686.75" x2="224" y2="690.75" stroke="#000" stroke-width="1" />
<text x="75.5" y="703.7" font-size="13" text-anchor="middle" fill="#000" >(8)</text><text x="95.5" y="703.7" font-size="13" text-anchor="middle" fill="#000" >(8)</text><text x="85.5" y="720.8" font-size="13.3" text-anchor="middle" fill="#4d4d4d" >1d</text>
<text x="144.75" y="703.7" font-size="13" text-anchor="middle" fill="#000" >(8)</text><text x="164.75" y="703.7" font-size="13" text-anchor="middle" fill="#000" >(8)</text><text x="154.75" y="720.8" font-size="13.3" text-anchor="middle" fill="#4d4d4d" >3d</text>
<text x="214" y="703.7" font-size="13" text-anchor="middle" fill="#000" >(8)</text><text x="234" y="703.7" font-size="13" text-anchor="middle" fill="#000" >(8)</text><text x="224" y="720.8" font-size="13.3" text-anchor="middle" fill="#4d4d4d" >5d</text>
<text x="154" y="739.5" font-size="16.7" text-anchor="middle" fill="#000" >Days after emergence</text>
<rect x="170.7" y="533.7" width="12.3" height="12" fill="none" stroke="#91D1C2" stroke-width="1.1"/><line x1="170.7" y1="539.7" x2="183" y2="539.7" stroke="#91D1C2" stroke-width="1.1" /><text x="192" y="544.5" font-size="13.3" fill="#1a1a1a" >Control</text>
<rect x="170.7" y="555.5" width="12.3" height="12" fill="none" stroke="#8491B4" stroke-width="1.1"/><line x1="170.7" y1="561.5" x2="183" y2="561.5" stroke="#8491B4" stroke-width="1.1" /><text x="192" y="565.8" font-size="13.3" fill="#1a1a1a" >Rotenone</text>
<text x="80" y="583.9" font-size="16.5" text-anchor="middle" fill="#000" >****</text>
<text x="156.3" y="651.3" font-size="17" text-anchor="middle" fill="#000" >ns</text>
<text x="225.7" y="662.6" font-size="16.5" text-anchor="middle" fill="#000" >*</text>
<text x="293.5" y="504.5" font-size="15.5" text-anchor="start" fill="#000" font-weight="bold">g</text>
<line x1="322" y1="524" x2="322" y2="686.25" stroke="#000" stroke-width="1" />
<line x1="321.5" y1="685.75" x2="544.25" y2="685.75" stroke="#000" stroke-width="1" />
<line x1="318" y1="539.25" x2="322" y2="539.25" stroke="#000" stroke-width="1" />
<text x="314.6" y="544.22" font-size="13.8" text-anchor="end" fill="#4d4d4d" letter-spacing="0.45">50</text>
<line x1="318" y1="568.25" x2="322" y2="568.25" stroke="#000" stroke-width="1" />
<text x="314.6" y="573.22" font-size="13.8" text-anchor="end" fill="#4d4d4d" letter-spacing="0.45">40</text>
<line x1="318" y1="597.5" x2="322" y2="597.5" stroke="#000" stroke-width="1" />
<text x="314.6" y="602.47" font-size="13.8" text-anchor="end" fill="#4d4d4d" letter-spacing="0.45">30</text>
<line x1="318" y1="626.75" x2="322" y2="626.75" stroke="#000" stroke-width="1" />
<text x="314.6" y="631.72" font-size="13.8" text-anchor="end" fill="#4d4d4d" letter-spacing="0.45">20</text>
<line x1="318" y1="656.25" x2="322" y2="656.25" stroke="#000" stroke-width="1" />
<text x="314.6" y="661.22" font-size="13.8" text-anchor="end" fill="#4d4d4d" letter-spacing="0.45">10</text>
<line x1="318" y1="685.75" x2="322" y2="685.75" stroke="#000" stroke-width="1" />
<text x="314.6" y="690.72" font-size="13.8" text-anchor="end" fill="#4d4d4d" letter-spacing="0.45">0</text>
<text transform="translate(291,604.4) rotate(-90)" font-size="16.6" text-anchor="middle" fill="#000" >Meature oocyte number</text>
<clipPath id="cg"><rect x="322" y="500" width="230" height="185.75"/></clipPath>
<g clip-path="url(#cg)"><circle cx="355" cy="685.75" r="2.1" fill="none" stroke="#91D1C2" stroke-width="1.5"/><circle cx="372" cy="685.75" r="2.1" fill="none" stroke="#8491B4" stroke-width="1.5"/></g>
<line x1="363.75" y1="685.75" x2="363.75" y2="689.75" stroke="#000" stroke-width="1" />
<path d="M415.25 685.75V647.5H432.75V685.75" fill="#fff" fill-opacity="0.0" stroke="#91D1C2" stroke-width="1.1"/>
<path d="M432.75 685.75V670.7H450.25V685.75" fill="#fff" fill-opacity="0.0" stroke="#8491B4" stroke-width="1.1"/>
<path d="M424 644V651M419.98 644H428.02M419.98 651H428.02" fill="none" stroke="#91D1C2" stroke-width="1.1"/>
<circle cx="424" cy="621" r="2.1" fill="none" stroke="#91D1C2" stroke-width="1.5"/><circle cx="424" cy="632.7" r="2.1" fill="none" stroke="#91D1C2" stroke-width="1.5"/><circle cx="424" cy="638.7" r="2.1" fill="none" stroke="#91D1C2" stroke-width="1.5"/><circle cx="424" cy="644.5" r="2.1" fill="none" stroke="#91D1C2" stroke-width="1.5"/><circle cx="424" cy="650.5" r="2.1" fill="none" stroke="#91D1C2" stroke-width="1.5"/><circle cx="424" cy="656.2" r="2.1" fill="none" stroke="#91D1C2" stroke-width="1.5"/><circle cx="424" cy="662" r="2.1" fill="none" stroke="#91D1C2" stroke-width="1.5"/><circle cx="424" cy="668" r="2.1" fill="none" stroke="#91D1C2" stroke-width="1.5"/>
<path d="M441.5 667V674.5M437.48 667H445.52M437.48 674.5H445.52" fill="none" stroke="#8491B4" stroke-width="1.1"/>
<circle cx="441.5" cy="650.5" r="2.1" fill="none" stroke="#8491B4" stroke-width="1.5"/><circle cx="441.5" cy="656.2" r="2.1" fill="none" stroke="#8491B4" stroke-width="1.5"/><circle cx="441.5" cy="662" r="2.1" fill="none" stroke="#8491B4" stroke-width="1.5"/><circle cx="441.5" cy="668" r="2.1" fill="none" stroke="#8491B4" stroke-width="1.5"/><circle cx="441.5" cy="673.7" r="2.1" fill="none" stroke="#8491B4" stroke-width="1.5"/><circle cx="441.5" cy="685" r="2.1" fill="none" stroke="#8491B4" stroke-width="1.5"/>
<line x1="432.75" y1="685.75" x2="432.75" y2="689.75" stroke="#000" stroke-width="1" />
<path d="M485 685.75V580.5H502.5V685.75" fill="#fff" fill-opacity="0.0" stroke="#91D1C2" stroke-width="1.1"/>
<path d="M502.5 685.75V583.2H520V685.75" fill="#fff" fill-opacity="0.0" stroke="#8491B4" stroke-width="1.1"/>
<path d="M493.75 575V586M489.73 575H497.77M489.73 586H497.77" fill="none" stroke="#91D1C2" stroke-width="1.1"/>
<circle cx="493.75" cy="555.7" r="2.1" fill="none" stroke="#91D1C2" stroke-width="1.5"/><circle cx="493.75" cy="562" r="2.1" fill="none" stroke="#91D1C2" stroke-width="1.5"/><circle cx="493.75" cy="574.2" r="2.1" fill="none" stroke="#91D1C2" stroke-width="1.5"/><circle cx="493.75" cy="580" r="2.1" fill="none" stroke="#91D1C2" stroke-width="1.5"/><circle cx="493.75" cy="585.5" r="2.1" fill="none" stroke="#91D1C2" stroke-width="1.5"/><circle cx="493.75" cy="603.2" r="2.1" fill="none" stroke="#91D1C2" stroke-width="1.5"/><circle cx="493.75" cy="638.7" r="2.1" fill="none" stroke="#91D1C2" stroke-width="1.5"/>
<path d="M511.25 578.5V588M507.23 578.5H515.27M507.23 588H515.27" fill="none" stroke="#8491B4" stroke-width="1.1"/>
<circle cx="511.25" cy="539.2" r="2.1" fill="none" stroke="#8491B4" stroke-width="1.5"/><circle cx="511.25" cy="568.2" r="2.1" fill="none" stroke="#8491B4" stroke-width="1.5"/><circle cx="511.25" cy="580" r="2.1" fill="none" stroke="#8491B4" stroke-width="1.5"/><circle cx="511.25" cy="585.5" r="2.1" fill="none" stroke="#8491B4" stroke-width="1.5"/><circle cx="511.25" cy="591.2" r="2.1" fill="none" stroke="#8491B4" stroke-width="1.5"/><circle cx="511.25" cy="597" r="2.1" fill="none" stroke="#8491B4" stroke-width="1.5"/><circle cx="511.25" cy="609.2" r="2.1" fill="none" stroke="#8491B4" stroke-width="1.5"/>
<line x1="502.5" y1="685.75" x2="502.5" y2="689.75" stroke="#000" stroke-width="1" />
<text x="353.75" y="702" font-size="13" text-anchor="middle" fill="#000" >(8)</text><text x="373.75" y="702" font-size="13" text-anchor="middle" fill="#000" >(8)</text><text x="363.75" y="719.3" font-size="13.3" text-anchor="middle" fill="#4d4d4d" >1d</text>
<text x="422.75" y="702" font-size="13" text-anchor="middle" fill="#000" >(8)</text><text x="442.75" y="702" font-size="13" text-anchor="middle" fill="#000" >(8)</text><text x="432.75" y="719.3" font-size="13.3" text-anchor="middle" fill="#4d4d4d" >3d</text>
<text x="492.5" y="702" font-size="13" text-anchor="middle" fill="#000" >(8)</text><text x="512.5" y="702" font-size="13" text-anchor="middle" fill="#000" >(8)</text><text x="502.5" y="719.3" font-size="13.3" text-anchor="middle" fill="#4d4d4d" >5d</text>
<text x="432.6" y="738.8" font-size="16.7" text-anchor="middle" fill="#000" >Days after emergence</text>
<rect x="334.2" y="533.7" width="12.5" height="12" fill="none" stroke="#91D1C2" stroke-width="1.1"/><line x1="334.2" y1="539.7" x2="346.7" y2="539.7" stroke="#91D1C2" stroke-width="1.1" /><text x="354.5" y="544.5" font-size="13.3" fill="#1a1a1a" >Control</text>
<rect x="334.2" y="555" width="12.5" height="12" fill="none" stroke="#8491B4" stroke-width="1.1"/><line x1="334.2" y1="561" x2="346.7" y2="561" stroke="#8491B4" stroke-width="1.1" /><text x="354.5" y="565.8" font-size="13.3" fill="#1a1a1a" >Rotenone</text>
<text x="363" y="666.7" font-size="13.5" text-anchor="middle" fill="#000" >X</text>
<line x1="349.5" y1="672" x2="376.3" y2="672" stroke="#111" stroke-width="1.6" />
<text x="434.2" y="616.4" font-size="16.5" text-anchor="middle" fill="#000" >***</text>
<text x="502.5" y="550.5" font-size="17" text-anchor="middle" fill="#000" >ns</text>
<text x="18.6" y="781.8" font-size="15.5" text-anchor="start" fill="#000" font-weight="bold">i</text>
<line x1="66.25" y1="792" x2="66.25" y2="965" stroke="#000" stroke-width="1" />
<line x1="65.75" y1="964.5" x2="197.5" y2="964.5" stroke="#000" stroke-width="1" />
<line x1="62.25" y1="792.5" x2="66.25" y2="792.5" stroke="#000" stroke-width="1" />
<text x="59.15" y="797.47" font-size="13.8" text-anchor="end" fill="#4d4d4d" letter-spacing="0.45">2.0</text>
<line x1="62.25" y1="835.5" x2="66.25" y2="835.5" stroke="#000" stroke-width="1" />
<text x="59.15" y="840.47" font-size="13.8" text-anchor="end" fill="#4d4d4d" letter-spacing="0.45">1.5</text>
<line x1="62.25" y1="878.5" x2="66.25" y2="878.5" stroke="#000" stroke-width="1" />
<text x="59.15" y="883.47" font-size="13.8" text-anchor="end" fill="#4d4d4d" letter-spacing="0.45">1.0</text>
<line x1="62.25" y1="921.5" x2="66.25" y2="921.5" stroke="#000" stroke-width="1" />
<text x="59.15" y="926.47" font-size="13.8" text-anchor="end" fill="#4d4d4d" letter-spacing="0.45">0.5</text>
<line x1="62.25" y1="964.5" x2="66.25" y2="964.5" stroke="#000" stroke-width="1" />
<text x="59.15" y="969.47" font-size="13.8" text-anchor="end" fill="#4d4d4d" letter-spacing="0.45">0.0</text>
<text transform="translate(12.5,878.7) rotate(-90)" font-size="16.6" text-anchor="middle" fill="#000" font-style="italic">ATPeF1B</text>
<text transform="translate(33.4,880.4) rotate(-90)" font-size="16.6" text-anchor="middle" fill="#000" >relative expression</text>
<path d="M87.25 964.5V877.5H116.75V964.5" fill="#fff" fill-opacity="0.0" stroke="#5B8FF0" stroke-width="1.1"/>
<path d="M102.2 870.7V884.2M96.7 870.7H107.7M96.7 884.2H107.7" fill="none" stroke="#5B8FF0" stroke-width="1.1"/>
<circle cx="102.2" cy="854.5" r="2.1" fill="none" stroke="#5B8FF0" stroke-width="1.5"/><circle cx="102.2" cy="873.7" r="2.1" fill="none" stroke="#5B8FF0" stroke-width="1.5"/><circle cx="102.2" cy="883.7" r="2.1" fill="none" stroke="#5B8FF0" stroke-width="1.5"/><circle cx="102.2" cy="892" r="2.1" fill="none" stroke="#5B8FF0" stroke-width="1.5"/>
<path d="M146.75 964.5V962.7H176.5V964.5" fill="#fff" fill-opacity="0.0" stroke="#F5A556" stroke-width="1.1"/>
<path d="M161.5 961.5V963.7M156 961.5H167M156 963.7H167" fill="none" stroke="#F5A556" stroke-width="1.1"/>
<circle cx="161.5" cy="959.2" r="2.1" fill="none" stroke="#F5A556" stroke-width="1.5"/><circle cx="161.5" cy="962.5" r="2.1" fill="none" stroke="#F5A556" stroke-width="1.5"/>
<line x1="102" y1="964.5" x2="102" y2="968.5" stroke="#000" stroke-width="1" />
<line x1="161.5" y1="964.5" x2="161.5" y2="968.5" stroke="#000" stroke-width="1" />
<text x="102" y="982.5" font-size="12.6" text-anchor="middle" fill="#000" >(5)</text>
<text x="161.5" y="985" font-size="12.6" text-anchor="middle" fill="#000" >(5)</text>
<text transform="translate(109.5,997) rotate(-45)" font-size="13.7" text-anchor="end" fill="#4d4d4d">ds<tspan font-style="italic">RFP</tspan></text>
<text transform="translate(169.5,996) rotate(-45)" font-size="13.7" text-anchor="end" fill="#4d4d4d">ds<tspan font-style="italic">ATPeF1B</tspan></text>
<text x="134.2" y="852.6" font-size="16.5" text-anchor="middle" fill="#000" >**</text>
<text x="233.5" y="777.5" font-size="15.5" text-anchor="start" fill="#000" font-weight="bold">j</text>
<line x1="261.75" y1="800.75" x2="261.75" y2="965" stroke="#000" stroke-width="1" />
<line x1="261.25" y1="964.5" x2="483.75" y2="964.5" stroke="#000" stroke-width="1" />
<line x1="257.75" y1="801.25" x2="261.75" y2="801.25" stroke="#000" stroke-width="1" />
<text x="255.15" y="806.22" font-size="13.8" text-anchor="end" fill="#4d4d4d" letter-spacing="0.45">15</text>
<line x1="257.75" y1="855.5" x2="261.75" y2="855.5" stroke="#000" stroke-width="1" />
<text x="255.15" y="860.47" font-size="13.8" text-anchor="end" fill="#4d4d4d" letter-spacing="0.45">10</text>
<line x1="257.75" y1="910.25" x2="261.75" y2="910.25" stroke="#000" stroke-width="1" />
<text x="255.15" y="915.22" font-size="13.8" text-anchor="end" fill="#4d4d4d" letter-spacing="0.45">5</text>
<line x1="257.75" y1="964.5" x2="261.75" y2="964.5" stroke="#000" stroke-width="1" />
<text x="255.15" y="969.47" font-size="13.8" text-anchor="end" fill="#4d4d4d" letter-spacing="0.45">0</text>
<text transform="translate(230.8,882.7) rotate(-90)" font-size="16.6" text-anchor="middle" fill="#000" >ATP content (nmol/mg)</text>
<path d="M303.75 964.5V936.7H321.25V964.5" fill="#fff" fill-opacity="0.0" stroke="#F5A556" stroke-width="1.1"/>
<path d="M286.25 964.5V896.7H303.75V964.5" fill="#fff" fill-opacity="0.0" stroke="#5B8FF0" stroke-width="1.1"/>
<path d="M295 885.7V907M290.98 885.7H299.02M290.98 907H299.02" fill="none" stroke="#5B8FF0" stroke-width="1.1"/>
<circle cx="295" cy="850.5" r="2.1" fill="none" stroke="#5B8FF0" stroke-width="1.5"/><circle cx="295" cy="892.5" r="2.1" fill="none" stroke="#5B8FF0" stroke-width="1.5"/><circle cx="295" cy="895" r="2.1" fill="none" stroke="#5B8FF0" stroke-width="1.5"/><circle cx="295" cy="897.5" r="2.1" fill="none" stroke="#5B8FF0" stroke-width="1.5"/><circle cx="295" cy="920" r="2.1" fill="none" stroke="#5B8FF0" stroke-width="1.5"/><circle cx="295" cy="922.5" r="2.1" fill="none" stroke="#5B8FF0" stroke-width="1.5"/>
<path d="M312.5 934V939.5M308.48 934H316.52M308.48 939.5H316.52" fill="none" stroke="#F5A556" stroke-width="1.1"/>
<circle cx="312.5" cy="926.2" r="2.1" fill="none" stroke="#F5A556" stroke-width="1.5"/><circle cx="312.5" cy="932.5" r="2.1" fill="none" stroke="#F5A556" stroke-width="1.5"/><circle cx="312.5" cy="936.2" r="2.1" fill="none" stroke="#F5A556" stroke-width="1.5"/><circle cx="312.5" cy="938.7" r="2.1" fill="none" stroke="#F5A556" stroke-width="1.5"/><circle cx="312.5" cy="941.2" r="2.1" fill="none" stroke="#F5A556" stroke-width="1.5"/><circle cx="312.5" cy="948" r="2.1" fill="none" stroke="#F5A556" stroke-width="1.5"/>
<line x1="303.75" y1="964.5" x2="303.75" y2="968.5" stroke="#000" stroke-width="1" />
<path d="M373 964.5V919H390.5V964.5" fill="#fff" fill-opacity="0.0" stroke="#F5A556" stroke-width="1.1"/>
<path d="M355.5 964.5V924.7H373V964.5" fill="#fff" fill-opacity="0.0" stroke="#5B8FF0" stroke-width="1.1"/>
<path d="M364.25 919.5V930M360.23 919.5H368.27M360.23 930H368.27" fill="none" stroke="#5B8FF0" stroke-width="1.1"/>
<circle cx="364.25" cy="905.5" r="2.1" fill="none" stroke="#5B8FF0" stroke-width="1.5"/><circle cx="364.25" cy="912" r="2.1" fill="none" stroke="#5B8FF0" stroke-width="1.5"/><circle cx="364.25" cy="927.5" r="2.1" fill="none" stroke="#5B8FF0" stroke-width="1.5"/><circle cx="364.25" cy="930" r="2.1" fill="none" stroke="#5B8FF0" stroke-width="1.5"/><circle cx="364.25" cy="933" r="2.1" fill="none" stroke="#5B8FF0" stroke-width="1.5"/><circle cx="364.25" cy="941.2" r="2.1" fill="none" stroke="#5B8FF0" stroke-width="1.5"/><circle cx="364.25" cy="945.7" r="2.1" fill="none" stroke="#5B8FF0" stroke-width="1.5"/>
<path d="M381.75 913.7V924.2M377.73 913.7H385.77M377.73 924.2H385.77" fill="none" stroke="#F5A556" stroke-width="1.1"/>
<circle cx="381.75" cy="898" r="2.1" fill="none" stroke="#F5A556" stroke-width="1.5"/><circle cx="381.75" cy="906.2" r="2.1" fill="none" stroke="#F5A556" stroke-width="1.5"/><circle cx="381.75" cy="917.5" r="2.1" fill="none" stroke="#F5A556" stroke-width="1.5"/><circle cx="381.75" cy="922.5" r="2.1" fill="none" stroke="#F5A556" stroke-width="1.5"/><circle cx="381.75" cy="931.2" r="2.1" fill="none" stroke="#F5A556" stroke-width="1.5"/><circle cx="381.75" cy="943.2" r="2.1" fill="none" stroke="#F5A556" stroke-width="1.5"/>
<line x1="373" y1="964.5" x2="373" y2="968.5" stroke="#000" stroke-width="1" />
<path d="M442.7 964.5V924.5H460.2V964.5" fill="#fff" fill-opacity="0.0" stroke="#F5A556" stroke-width="1.1"/>
<path d="M425.2 964.5V920.2H442.7V964.5" fill="#fff" fill-opacity="0.0" stroke="#5B8FF0" stroke-width="1.1"/>
<path d="M433.95 914.5V926.2M429.93 914.5H437.97M429.93 926.2H437.97" fill="none" stroke="#5B8FF0" stroke-width="1.1"/>
<circle cx="433.95" cy="900" r="2.1" fill="none" stroke="#5B8FF0" stroke-width="1.5"/><circle cx="433.95" cy="913" r="2.1" fill="none" stroke="#5B8FF0" stroke-width="1.5"/><circle cx="433.95" cy="916.2" r="2.1" fill="none" stroke="#5B8FF0" stroke-width="1.5"/><circle cx="433.95" cy="922.5" r="2.1" fill="none" stroke="#5B8FF0" stroke-width="1.5"/><circle cx="433.95" cy="928.7" r="2.1" fill="none" stroke="#5B8FF0" stroke-width="1.5"/><circle cx="433.95" cy="942" r="2.1" fill="none" stroke="#5B8FF0" stroke-width="1.5"/>
<path d="M451.45 918.7V930M447.43 918.7H455.47M447.43 930H455.47" fill="none" stroke="#F5A556" stroke-width="1.1"/>
<circle cx="451.45" cy="904.5" r="2.1" fill="none" stroke="#F5A556" stroke-width="1.5"/><circle cx="451.45" cy="911.7" r="2.1" fill="none" stroke="#F5A556" stroke-width="1.5"/><circle cx="451.45" cy="922" r="2.1" fill="none" stroke="#F5A556" stroke-width="1.5"/><circle cx="451.45" cy="932.5" r="2.1" fill="none" stroke="#F5A556" stroke-width="1.5"/><circle cx="451.45" cy="933.7" r="2.1" fill="none" stroke="#F5A556" stroke-width="1.5"/><circle cx="451.45" cy="945.7" r="2.1" fill="none" stroke="#F5A556" stroke-width="1.5"/>
<line x1="442.7" y1="964.5" x2="442.7" y2="968.5" stroke="#000" stroke-width="1" />
<text x="293.75" y="981.7" font-size="13" text-anchor="middle" fill="#000" >(6)</text><text x="313.75" y="981.7" font-size="13" text-anchor="middle" fill="#000" >(7)</text><text x="303.75" y="998.8" font-size="13.3" text-anchor="middle" fill="#4d4d4d" >1d</text>
<text x="363" y="981.7" font-size="13" text-anchor="middle" fill="#000" >(8)</text><text x="383" y="981.7" font-size="13" text-anchor="middle" fill="#000" >(7)</text><text x="373" y="998.8" font-size="13.3" text-anchor="middle" fill="#4d4d4d" >3d</text>
<text x="432.7" y="981.7" font-size="13" text-anchor="middle" fill="#000" >(8)</text><text x="452.7" y="981.7" font-size="13" text-anchor="middle" fill="#000" >(8)</text><text x="442.7" y="998.8" font-size="13.3" text-anchor="middle" fill="#4d4d4d" >5d</text>
<text x="372.5" y="1017.5" font-size="16.7" text-anchor="middle" fill="#000" >Days after emergence</text>
<rect x="381.7" y="807" width="15" height="13.7" fill="none" stroke="#5B8FF0" stroke-width="1.1"/><line x1="381.7" y1="813.85" x2="396.7" y2="813.85" stroke="#5B8FF0" stroke-width="1.1" /><text x="407.4" y="818.2" font-size="13" fill="#1a1a1a" letter-spacing="0.05">ds<tspan font-style="italic">RFP</tspan></text>
<rect x="381.7" y="831.7" width="15" height="13.7" fill="none" stroke="#F5A556" stroke-width="1.1"/><line x1="381.7" y1="838.55" x2="396.7" y2="838.55" stroke="#F5A556" stroke-width="1.1" /><text x="406.6" y="843.2" font-size="13" fill="#1a1a1a" letter-spacing="0.05">ds<tspan font-style="italic">ATPeF1B</tspan></text>
<text x="303" y="839.6" font-size="16.5" text-anchor="middle" fill="#000" >**</text>
<text x="374.2" y="885" font-size="17" text-anchor="middle" fill="#000" >ns</text>
<text x="442" y="885" font-size="17" text-anchor="middle" fill="#000" >ns</text>
<text x="517.5" y="781.2" font-size="15.5" text-anchor="start" fill="#000" font-weight="bold">k</text>
<line x1="549" y1="792" x2="549" y2="965" stroke="#000" stroke-width="1" />
<line x1="548.5" y1="964.5" x2="683.25" y2="964.5" stroke="#000" stroke-width="1" />
<line x1="545" y1="792.5" x2="549" y2="792.5" stroke="#000" stroke-width="1" />
<text x="542.2" y="797.47" font-size="13.8" text-anchor="end" fill="#4d4d4d" letter-spacing="0.45">40</text>
<line x1="545" y1="835.5" x2="549" y2="835.5" stroke="#000" stroke-width="1" />
<text x="542.2" y="840.47" font-size="13.8" text-anchor="end" fill="#4d4d4d" letter-spacing="0.45">30</text>
<line x1="545" y1="878.5" x2="549" y2="878.5" stroke="#000" stroke-width="1" />
<text x="542.2" y="883.47" font-size="13.8" text-anchor="end" fill="#4d4d4d" letter-spacing="0.45">20</text>
<line x1="545" y1="921.5" x2="549" y2="921.5" stroke="#000" stroke-width="1" />
<text x="542.2" y="926.47" font-size="13.8" text-anchor="end" fill="#4d4d4d" letter-spacing="0.45">10</text>
<line x1="545" y1="964.5" x2="549" y2="964.5" stroke="#000" stroke-width="1" />
<text x="542.2" y="969.47" font-size="13.8" text-anchor="end" fill="#4d4d4d" letter-spacing="0.45">0</text>
<text transform="translate(518.3,878.7) rotate(-90)" font-size="16.6" text-anchor="middle" fill="#000" >Mature oocyte number</text>
<path d="M570.75 964.5V900.5H600.75V964.5" fill="#fff" fill-opacity="0.0" stroke="#5B8FF0" stroke-width="1.1"/>
<path d="M585.75 892.5V909.5M579.75 892.5H591.75M579.75 909.5H591.75" fill="none" stroke="#5B8FF0" stroke-width="1.1"/>
<clipPath id="ck"><rect x="549" y="780" width="140" height="184.5"/></clipPath>
<g clip-path="url(#ck)"><circle cx="585.75" cy="844" r="2.1" fill="none" stroke="#5B8FF0" stroke-width="1.5"/><circle cx="585.75" cy="852.5" r="2.1" fill="none" stroke="#5B8FF0" stroke-width="1.5"/><circle cx="585.75" cy="861.2" r="2.1" fill="none" stroke="#5B8FF0" stroke-width="1.5"/><circle cx="585.75" cy="870" r="2.1" fill="none" stroke="#5B8FF0" stroke-width="1.5"/><circle cx="585.75" cy="878.5" r="2.1" fill="none" stroke="#5B8FF0" stroke-width="1.5"/><circle cx="585.75" cy="895.7" r="2.1" fill="none" stroke="#5B8FF0" stroke-width="1.5"/><circle cx="585.75" cy="913" r="2.1" fill="none" stroke="#5B8FF0" stroke-width="1.5"/><circle cx="585.75" cy="921.5" r="2.1" fill="none" stroke="#5B8FF0" stroke-width="1.5"/><circle cx="585.75" cy="930.2" r="2.1" fill="none" stroke="#5B8FF0" stroke-width="1.5"/><circle cx="585.75" cy="947.5" r="2.1" fill="none" stroke="#5B8FF0" stroke-width="1.5"/><circle cx="585.75" cy="964.5" r="2.1" fill="none" stroke="#5B8FF0" stroke-width="1.5"/></g>
<path d="M631.25 964.5V959.7H662V964.5" fill="#fff" fill-opacity="0.0" stroke="#F5A556" stroke-width="1.1"/>
<path d="M646.5 956.2V963M640.5 956.2H652.5M640.5 963H652.5" fill="none" stroke="#F5A556" stroke-width="1.1"/>
<g clip-path="url(#ck)"><circle cx="646.5" cy="908.2" r="2.1" fill="none" stroke="#F5A556" stroke-width="1.5"/><circle cx="646.5" cy="947" r="2.1" fill="none" stroke="#F5A556" stroke-width="1.5"/><circle cx="646.5" cy="951.2" r="2.1" fill="none" stroke="#F5A556" stroke-width="1.5"/><circle cx="646.5" cy="955.5" r="2.1" fill="none" stroke="#F5A556" stroke-width="1.5"/><circle cx="646.5" cy="960" r="2.1" fill="none" stroke="#F5A556" stroke-width="1.5"/><circle cx="646.5" cy="964.5" r="2.1" fill="none" stroke="#F5A556" stroke-width="1.5"/></g>
<line x1="585.75" y1="964.5" x2="585.75" y2="968.5" stroke="#000" stroke-width="1" />
<line x1="646.5" y1="964.5" x2="646.5" y2="968.5" stroke="#000" stroke-width="1" />
<text x="587" y="979.5" font-size="12.6" text-anchor="middle" fill="#000" >(20)</text>
<text x="646.3" y="981.3" font-size="12.6" text-anchor="middle" fill="#000" >(19)</text>
<text transform="translate(593.5,992.5) rotate(-45)" font-size="13.7" text-anchor="end" fill="#4d4d4d">ds<tspan font-style="italic">RFP</tspan></text>
<text transform="translate(653.5,994.5) rotate(-45)" font-size="13.7" text-anchor="end" fill="#4d4d4d">ds<tspan font-style="italic">ATPeF1B</tspan></text>
<text x="614.5" y="835.1" font-size="16.5" text-anchor="middle" fill="#000" >****</text>
<defs><linearGradient id="trap" x1="0" x2="1"><stop offset="0" stop-color="#FBF1EC"/><stop offset="1" stop-color="#F0DCCB"/></linearGradient><marker id="ahk" viewBox="0 0 10 10" refX="8" refY="5" markerWidth="3.3" markerHeight="3.3" orient="auto-start-reverse"><path d="M0 0L10 5L0 10Z" fill="#111"/></marker><marker id="ahr" viewBox="0 0 10 10" refX="8" refY="5" markerWidth="3.4" markerHeight="3.4" orient="auto-start-reverse"><path d="M0 0L10 5L0 10Z" fill="#E8202A"/></marker><marker id="ahb" viewBox="0 0 10 10" refX="8" refY="5" markerWidth="6" markerHeight="6" orient="auto-start-reverse"><path d="M0 0L10 5L0 10L3 5Z" fill="#4A7FB5"/></marker></defs>
<text x="5.5" y="10.5" font-size="16" text-anchor="start" fill="#000" font-weight="bold">a</text>
<polygon points="40,92 52.2,18.2 52.2,222.2 40,170" fill="url(#trap)"/>
<rect x="52" y="18.2" width="221" height="204" fill="#EFD9BF"/>
<path d="M84.6 31.6L84.6 42.81M89.9 31.6L89.9 42.81M95.2 31.6L95.2 42.81M100.5 31.6L100.5 42.81M105.8 31.6L105.8 42.81M111.11 31.6L111.11 42.81M116.41 31.6L116.41 42.81M121.71 31.6L121.71 42.81M127.01 31.6L127.01 42.81M132.31 31.6L132.31 42.81M137.61 31.6L137.61 42.81M142.91 31.6L142.91 42.81M148.21 31.6L148.21 42.81M153.51 31.6L153.51 42.81M158.81 31.6L158.81 42.81M164.12 31.6L164.12 42.81M169.42 31.6L169.42 42.81M174.72 31.6L174.72 42.81M180.02 31.6L180.02 42.81M185.32 31.6L185.32 42.81M190.62 31.6L190.62 42.81M195.92 31.6L195.92 42.81M201.22 31.6L201.22 42.81M206.52 31.6L206.52 42.81M211.83 31.6L211.83 42.81M217.13 31.6L217.13 42.81M222.43 31.6L222.43 42.81M227.73 31.6L227.73 42.81M233.03 31.6L233.03 42.81M238.33 31.6L238.33 42.81M243.63 31.73L242.54 42.87M248.82 32.76L245.59 43.42M253.71 34.78L248.51 44.52M258.11 37.72L251.2 46.15M261.86 41.46L253.54 48.29M264.8 45.85L255.43 50.87M266.83 50.74L256.76 53.81M267.87 55.93L257.45 56.97M268 61.23L257.54 61.23M268 66.53L257.54 66.53M268 71.83L257.54 71.83M268 77.13L257.54 77.13M268 82.43L257.54 82.43M268 87.73L257.54 87.73M268 93.04L257.54 93.04M268 98.34L257.54 98.34M268 103.64L257.54 103.64M268 108.94L257.54 108.94M268 114.24L257.54 114.24M268 119.54L257.54 119.54M268 124.84L257.54 124.84M268 130.14L257.54 130.14M268 135.44L257.54 135.44M268 140.74L257.54 140.74M268 146.05L257.54 146.05M268 151.35L257.54 151.35M268 156.65L257.54 156.65M268 161.95L257.54 161.95M268 167.25L257.54 167.25M268 172.55L257.54 172.55M268 177.85L257.54 177.85M267.87 183.15L257.46 182.12M266.84 188.34L256.85 185.31M264.81 193.23L255.64 188.33M261.87 197.63L253.87 191.06M258.13 201.37L251.59 193.41M253.73 204.31L248.89 195.27M248.84 206.34L245.87 196.56M243.65 207.37L242.65 197.22M238.35 207.5L238.35 197.31M233.05 207.5L233.05 197.31M227.75 207.5L227.75 197.31M222.45 207.5L222.45 197.31M217.15 207.5L217.15 197.31M211.84 207.5L211.84 197.31M206.54 207.5L206.54 197.31M201.24 207.5L201.24 197.31M195.94 207.5L195.94 197.31M190.64 207.5L190.64 197.31M185.34 207.5L185.34 197.31M180.04 207.5L180.04 197.31M174.74 207.5L174.74 197.31M169.44 207.5L169.44 197.31M164.13 207.5L164.13 197.31M158.83 207.5L158.83 197.31M153.53 207.5L153.53 197.31M148.23 207.5L148.23 197.31M142.93 207.5L142.93 197.31M137.63 207.5L137.63 197.31M132.33 207.5L132.33 197.31M127.03 207.5L127.03 197.31M121.73 207.5L121.73 197.31M116.42 207.5L116.42 197.31M111.12 207.5L111.12 197.31M105.82 207.5L105.82 197.31M100.52 207.5L100.52 197.31M95.22 207.5L95.22 197.31M89.92 207.5L89.92 197.31M84.62 207.5L84.62 197.31M79.35 206.98L81.34 196.96M74.29 205.45L78.21 195.95M69.62 202.96L75.38 194.33M65.52 199.61L72.94 192.18M62.16 195.52L70.98 189.61M59.66 190.85L69.56 186.75M58.12 185.79L68.69 183.68M57.6 180.52L68.4 180.51M57.6 175.22L68.4 175.22M57.6 169.92L68.4 169.92M57.6 164.62L68.4 164.62M57.6 159.32L68.4 159.32M57.6 154.02L68.4 154.02M57.6 148.72L68.4 148.72M57.6 143.41L68.4 143.41M57.6 138.11L68.4 138.11M57.6 132.81L68.4 132.81M57.6 127.51L68.4 127.51M57.6 122.21L68.4 122.21M57.6 116.91L68.4 116.91M57.6 111.61L68.4 111.61M57.6 106.31L68.4 106.31M57.6 101.01L68.4 101.01M57.6 95.7L68.4 95.7M57.6 90.4L68.4 90.4M57.6 85.1L68.4 85.1M57.6 79.8L68.4 79.8M57.6 74.5L68.4 74.5M57.6 69.2L68.4 69.2M57.6 63.9L68.4 63.9M57.6 58.6L68.4 58.6M58.12 53.33L68.73 55.44M59.66 48.27L69.69 52.42M62.15 43.6L71.23 49.67M65.51 39.51L73.29 47.29M69.6 36.15L75.76 45.36M74.27 33.65L78.53 43.95M79.33 32.12L81.52 43.09" stroke="#C47966" stroke-opacity="0.5" stroke-width="1.8" fill="none"/>
<path d="M84.6 48.2L84.6 37M89.9 48.2L89.9 37M95.2 48.2L95.2 37M100.5 48.2L100.5 37M105.8 48.2L105.8 37M111.11 48.2L111.11 37M116.41 48.2L116.41 37M121.71 48.2L121.71 37M127.01 48.2L127.01 37M132.31 48.2L132.31 37M137.61 48.2L137.61 37M142.91 48.2L142.91 37M148.21 48.2L148.21 37M153.51 48.2L153.51 37M158.81 48.2L158.81 37M164.12 48.2L164.12 37M169.42 48.2L169.42 37M174.72 48.2L174.72 37M180.02 48.2L180.02 37M185.32 48.2L185.32 37M190.62 48.2L190.62 37M195.92 48.2L195.92 37M201.22 48.2L201.22 37M206.52 48.2L206.52 37M211.83 48.2L211.83 37M217.13 48.2L217.13 37M222.43 48.2L222.43 37M227.73 48.2L227.73 37M233.03 48.2L233.03 37M238.33 48.2L238.33 37M242.01 48.24L243.1 37.09M246.01 49.21L251.21 39.47M249.54 51.58L257.86 44.75M251.91 55.28L261.98 52.22M252.5 61.23L262.96 61.23M252.5 66.53L262.96 66.53M252.5 71.83L262.96 71.83M252.5 77.13L262.96 77.13M252.5 82.43L262.96 82.43M252.5 87.73L262.96 87.73M252.5 93.04L262.96 93.04M252.5 98.34L262.96 98.34M252.5 103.64L262.96 103.64M252.5 108.94L262.96 108.94M252.5 114.24L262.96 114.24M252.5 119.54L262.96 119.54M252.5 124.84L262.96 124.84M252.5 130.14L262.96 130.14M252.5 135.44L262.96 135.44M252.5 140.74L262.96 140.74M252.5 146.05L262.96 146.05M252.5 151.35L262.96 151.35M252.5 156.65L262.96 156.65M252.5 161.95L262.96 161.95M252.5 167.25L262.96 167.25M252.5 172.55L262.96 172.55M252.5 177.85L262.96 177.85M252.04 183.85L262.03 186.88M250.01 187.9L258.02 194.47M246.57 190.92L251.4 199.96M242.17 192.34L243.17 202.48M238.35 192.4L238.35 202.59M233.05 192.4L233.05 202.59M227.75 192.4L227.75 202.59M222.45 192.4L222.45 202.59M217.15 192.4L217.15 202.59M211.84 192.4L211.84 202.59M206.54 192.4L206.54 202.59M201.24 192.4L201.24 202.59M195.94 192.4L195.94 202.59M190.64 192.4L190.64 202.59M185.34 192.4L185.34 202.59M180.04 192.4L180.04 202.59M174.74 192.4L174.74 202.59M169.44 192.4L169.44 202.59M164.13 192.4L164.13 202.59M158.83 192.4L158.83 202.59M153.53 192.4L153.53 202.59M148.23 192.4L148.23 202.59M142.93 192.4L142.93 202.59M137.63 192.4L137.63 202.59M132.33 192.4L132.33 202.59M127.03 192.4L127.03 202.59M121.73 192.4L121.73 202.59M116.42 192.4L116.42 202.59M111.12 192.4L111.12 202.59M105.82 192.4L105.82 202.59M100.52 192.4L100.52 202.59M95.22 192.4L95.22 202.59M89.92 192.4L89.92 202.59M84.62 192.4L84.62 202.59M80.1 191.38L76.18 200.88M76.51 188.6L69.09 196.03M74.32 184.77L64.43 188.87M73.6 180.51L62.8 180.52M73.6 175.22L62.8 175.22M73.6 169.92L62.8 169.92M73.6 164.62L62.8 164.62M73.6 159.32L62.8 159.32M73.6 154.02L62.8 154.02M73.6 148.72L62.8 148.72M73.6 143.41L62.8 143.41M73.6 138.11L62.8 138.11M73.6 132.81L62.8 132.81M73.6 127.51L62.8 127.51M73.6 122.21L62.8 122.21M73.6 116.91L62.8 116.91M73.6 111.61L62.8 111.61M73.6 106.31L62.8 106.31M73.6 101.01L62.8 101.01M73.6 95.7L62.8 95.7M73.6 90.4L62.8 90.4M73.6 85.1L62.8 85.1M73.6 79.8L62.8 79.8M73.6 74.5L62.8 74.5M73.6 69.2L62.8 69.2M73.6 63.9L62.8 63.9M73.6 58.6L62.8 58.6M73.83 56.46L63.23 54.35M75.61 52.59L66.52 46.52M78.72 49.8L72.56 40.59M82.57 48.38L80.38 37.4" stroke="#C47966" stroke-opacity="0.5" stroke-width="1.8" fill="none"/>
<g fill="#DC9886"><circle cx="84.6" cy="31.6" r="2.7"/><circle cx="89.9" cy="31.6" r="2.7"/><circle cx="95.2" cy="31.6" r="2.7"/><circle cx="100.5" cy="31.6" r="2.7"/><circle cx="105.8" cy="31.6" r="2.7"/><circle cx="111.11" cy="31.6" r="2.7"/><circle cx="116.41" cy="31.6" r="2.7"/><circle cx="121.71" cy="31.6" r="2.7"/><circle cx="127.01" cy="31.6" r="2.7"/><circle cx="132.31" cy="31.6" r="2.7"/><circle cx="137.61" cy="31.6" r="2.7"/><circle cx="142.91" cy="31.6" r="2.7"/><circle cx="148.21" cy="31.6" r="2.7"/><circle cx="153.51" cy="31.6" r="2.7"/><circle cx="158.81" cy="31.6" r="2.7"/><circle cx="164.12" cy="31.6" r="2.7"/><circle cx="169.42" cy="31.6" r="2.7"/><circle cx="174.72" cy="31.6" r="2.7"/><circle cx="180.02" cy="31.6" r="2.7"/><circle cx="185.32" cy="31.6" r="2.7"/><circle cx="190.62" cy="31.6" r="2.7"/><circle cx="195.92" cy="31.6" r="2.7"/><circle cx="201.22" cy="31.6" r="2.7"/><circle cx="206.52" cy="31.6" r="2.7"/><circle cx="211.83" cy="31.6" r="2.7"/><circle cx="217.13" cy="31.6" r="2.7"/><circle cx="222.43" cy="31.6" r="2.7"/><circle cx="227.73" cy="31.6" r="2.7"/><circle cx="233.03" cy="31.6" r="2.7"/><circle cx="238.33" cy="31.6" r="2.7"/><circle cx="243.63" cy="31.73" r="3.15"/><circle cx="248.82" cy="32.76" r="3.15"/><circle cx="253.71" cy="34.78" r="3.15"/><circle cx="258.11" cy="37.72" r="3.15"/><circle cx="261.86" cy="41.46" r="3.15"/><circle cx="264.8" cy="45.85" r="3.15"/><circle cx="266.83" cy="50.74" r="3.15"/><circle cx="267.87" cy="55.93" r="3.15"/><circle cx="268" cy="61.23" r="2.7"/><circle cx="268" cy="66.53" r="2.7"/><circle cx="268" cy="71.83" r="2.7"/><circle cx="268" cy="77.13" r="2.7"/><circle cx="268" cy="82.43" r="2.7"/><circle cx="268" cy="87.73" r="2.7"/><circle cx="268" cy="93.04" r="2.7"/><circle cx="268" cy="98.34" r="2.7"/><circle cx="268" cy="103.64" r="2.7"/><circle cx="268" cy="108.94" r="2.7"/><circle cx="268" cy="114.24" r="2.7"/><circle cx="268" cy="119.54" r="2.7"/><circle cx="268" cy="124.84" r="2.7"/><circle cx="268" cy="130.14" r="2.7"/><circle cx="268" cy="135.44" r="2.7"/><circle cx="268" cy="140.74" r="2.7"/><circle cx="268" cy="146.05" r="2.7"/><circle cx="268" cy="151.35" r="2.7"/><circle cx="268" cy="156.65" r="2.7"/><circle cx="268" cy="161.95" r="2.7"/><circle cx="268" cy="167.25" r="2.7"/><circle cx="268" cy="172.55" r="2.7"/><circle cx="268" cy="177.85" r="2.7"/><circle cx="267.87" cy="183.15" r="3.15"/><circle cx="266.84" cy="188.34" r="3.15"/><circle cx="264.81" cy="193.23" r="3.15"/><circle cx="261.87" cy="197.63" r="3.15"/><circle cx="258.13" cy="201.37" r="3.15"/><circle cx="253.73" cy="204.31" r="3.15"/><circle cx="248.84" cy="206.34" r="3.15"/><circle cx="243.65" cy="207.37" r="3.15"/><circle cx="238.35" cy="207.5" r="2.7"/><circle cx="233.05" cy="207.5" r="2.7"/><circle cx="227.75" cy="207.5" r="2.7"/><circle cx="222.45" cy="207.5" r="2.7"/><circle cx="217.15" cy="207.5" r="2.7"/><circle cx="211.84" cy="207.5" r="2.7"/><circle cx="206.54" cy="207.5" r="2.7"/><circle cx="201.24" cy="207.5" r="2.7"/><circle cx="195.94" cy="207.5" r="2.7"/><circle cx="190.64" cy="207.5" r="2.7"/><circle cx="185.34" cy="207.5" r="2.7"/><circle cx="180.04" cy="207.5" r="2.7"/><circle cx="174.74" cy="207.5" r="2.7"/><circle cx="169.44" cy="207.5" r="2.7"/><circle cx="164.13" cy="207.5" r="2.7"/><circle cx="158.83" cy="207.5" r="2.7"/><circle cx="153.53" cy="207.5" r="2.7"/><circle cx="148.23" cy="207.5" r="2.7"/><circle cx="142.93" cy="207.5" r="2.7"/><circle cx="137.63" cy="207.5" r="2.7"/><circle cx="132.33" cy="207.5" r="2.7"/><circle cx="127.03" cy="207.5" r="2.7"/><circle cx="121.73" cy="207.5" r="2.7"/><circle cx="116.42" cy="207.5" r="2.7"/><circle cx="111.12" cy="207.5" r="2.7"/><circle cx="105.82" cy="207.5" r="2.7"/><circle cx="100.52" cy="207.5" r="2.7"/><circle cx="95.22" cy="207.5" r="2.7"/><circle cx="89.92" cy="207.5" r="2.7"/><circle cx="84.62" cy="207.5" r="2.7"/><circle cx="79.35" cy="206.98" r="3.15"/><circle cx="74.29" cy="205.45" r="3.15"/><circle cx="69.62" cy="202.96" r="3.15"/><circle cx="65.52" cy="199.61" r="3.15"/><circle cx="62.16" cy="195.52" r="3.15"/><circle cx="59.66" cy="190.85" r="3.15"/><circle cx="58.12" cy="185.79" r="3.15"/><circle cx="57.6" cy="180.52" r="2.7"/><circle cx="57.6" cy="175.22" r="2.7"/><circle cx="57.6" cy="169.92" r="2.7"/><circle cx="57.6" cy="164.62" r="2.7"/><circle cx="57.6" cy="159.32" r="2.7"/><circle cx="57.6" cy="154.02" r="2.7"/><circle cx="57.6" cy="148.72" r="2.7"/><circle cx="57.6" cy="143.41" r="2.7"/><circle cx="57.6" cy="138.11" r="2.7"/><circle cx="57.6" cy="132.81" r="2.7"/><circle cx="57.6" cy="127.51" r="2.7"/><circle cx="57.6" cy="122.21" r="2.7"/><circle cx="57.6" cy="116.91" r="2.7"/><circle cx="57.6" cy="111.61" r="2.7"/><circle cx="57.6" cy="106.31" r="2.7"/><circle cx="57.6" cy="101.01" r="2.7"/><circle cx="57.6" cy="95.7" r="2.7"/><circle cx="57.6" cy="90.4" r="2.7"/><circle cx="57.6" cy="85.1" r="2.7"/><circle cx="57.6" cy="79.8" r="2.7"/><circle cx="57.6" cy="74.5" r="2.7"/><circle cx="57.6" cy="69.2" r="2.7"/><circle cx="57.6" cy="63.9" r="2.7"/><circle cx="57.6" cy="58.6" r="2.7"/><circle cx="58.12" cy="53.33" r="3.15"/><circle cx="59.66" cy="48.27" r="3.15"/><circle cx="62.15" cy="43.6" r="3.15"/><circle cx="65.51" cy="39.51" r="3.15"/><circle cx="69.6" cy="36.15" r="3.15"/><circle cx="74.27" cy="33.65" r="3.15"/><circle cx="79.33" cy="32.12" r="3.15"/><circle cx="84.6" cy="48.2" r="2.65"/><circle cx="89.9" cy="48.2" r="2.65"/><circle cx="95.2" cy="48.2" r="2.65"/><circle cx="100.5" cy="48.2" r="2.65"/><circle cx="105.8" cy="48.2" r="2.65"/><circle cx="111.11" cy="48.2" r="2.65"/><circle cx="116.41" cy="48.2" r="2.65"/><circle cx="121.71" cy="48.2" r="2.65"/><circle cx="127.01" cy="48.2" r="2.65"/><circle cx="132.31" cy="48.2" r="2.65"/><circle cx="137.61" cy="48.2" r="2.65"/><circle cx="142.91" cy="48.2" r="2.65"/><circle cx="148.21" cy="48.2" r="2.65"/><circle cx="153.51" cy="48.2" r="2.65"/><circle cx="158.81" cy="48.2" r="2.65"/><circle cx="164.12" cy="48.2" r="2.65"/><circle cx="169.42" cy="48.2" r="2.65"/><circle cx="174.72" cy="48.2" r="2.65"/><circle cx="180.02" cy="48.2" r="2.65"/><circle cx="185.32" cy="48.2" r="2.65"/><circle cx="190.62" cy="48.2" r="2.65"/><circle cx="195.92" cy="48.2" r="2.65"/><circle cx="201.22" cy="48.2" r="2.65"/><circle cx="206.52" cy="48.2" r="2.65"/><circle cx="211.83" cy="48.2" r="2.65"/><circle cx="217.13" cy="48.2" r="2.65"/><circle cx="222.43" cy="48.2" r="2.65"/><circle cx="227.73" cy="48.2" r="2.65"/><circle cx="233.03" cy="48.2" r="2.65"/><circle cx="238.33" cy="48.2" r="2.65"/><circle cx="242.01" cy="48.24" r="2.65"/><circle cx="246.01" cy="49.21" r="2.65"/><circle cx="249.54" cy="51.58" r="2.65"/><circle cx="251.91" cy="55.28" r="2.65"/><circle cx="252.5" cy="61.23" r="2.65"/><circle cx="252.5" cy="66.53" r="2.65"/><circle cx="252.5" cy="71.83" r="2.65"/><circle cx="252.5" cy="77.13" r="2.65"/><circle cx="252.5" cy="82.43" r="2.65"/><circle cx="252.5" cy="87.73" r="2.65"/><circle cx="252.5" cy="93.04" r="2.65"/><circle cx="252.5" cy="98.34" r="2.65"/><circle cx="252.5" cy="103.64" r="2.65"/><circle cx="252.5" cy="108.94" r="2.65"/><circle cx="252.5" cy="114.24" r="2.65"/><circle cx="252.5" cy="119.54" r="2.65"/><circle cx="252.5" cy="124.84" r="2.65"/><circle cx="252.5" cy="130.14" r="2.65"/><circle cx="252.5" cy="135.44" r="2.65"/><circle cx="252.5" cy="140.74" r="2.65"/><circle cx="252.5" cy="146.05" r="2.65"/><circle cx="252.5" cy="151.35" r="2.65"/><circle cx="252.5" cy="156.65" r="2.65"/><circle cx="252.5" cy="161.95" r="2.65"/><circle cx="252.5" cy="167.25" r="2.65"/><circle cx="252.5" cy="172.55" r="2.65"/><circle cx="252.5" cy="177.85" r="2.65"/><circle cx="252.04" cy="183.85" r="2.65"/><circle cx="250.01" cy="187.9" r="2.65"/><circle cx="246.57" cy="190.92" r="2.65"/><circle cx="242.17" cy="192.34" r="2.65"/><circle cx="238.35" cy="192.4" r="2.65"/><circle cx="233.05" cy="192.4" r="2.65"/><circle cx="227.75" cy="192.4" r="2.65"/><circle cx="222.45" cy="192.4" r="2.65"/><circle cx="217.15" cy="192.4" r="2.65"/><circle cx="211.84" cy="192.4" r="2.65"/><circle cx="206.54" cy="192.4" r="2.65"/><circle cx="201.24" cy="192.4" r="2.65"/><circle cx="195.94" cy="192.4" r="2.65"/><circle cx="190.64" cy="192.4" r="2.65"/><circle cx="185.34" cy="192.4" r="2.65"/><circle cx="180.04" cy="192.4" r="2.65"/><circle cx="174.74" cy="192.4" r="2.65"/><circle cx="169.44" cy="192.4" r="2.65"/><circle cx="164.13" cy="192.4" r="2.65"/><circle cx="158.83" cy="192.4" r="2.65"/><circle cx="153.53" cy="192.4" r="2.65"/><circle cx="148.23" cy="192.4" r="2.65"/><circle cx="142.93" cy="192.4" r="2.65"/><circle cx="137.63" cy="192.4" r="2.65"/><circle cx="132.33" cy="192.4" r="2.65"/><circle cx="127.03" cy="192.4" r="2.65"/><circle cx="121.73" cy="192.4" r="2.65"/><circle cx="116.42" cy="192.4" r="2.65"/><circle cx="111.12" cy="192.4" r="2.65"/><circle cx="105.82" cy="192.4" r="2.65"/><circle cx="100.52" cy="192.4" r="2.65"/><circle cx="95.22" cy="192.4" r="2.65"/><circle cx="89.92" cy="192.4" r="2.65"/><circle cx="84.62" cy="192.4" r="2.65"/><circle cx="80.1" cy="191.38" r="2.65"/><circle cx="76.51" cy="188.6" r="2.65"/><circle cx="74.32" cy="184.77" r="2.65"/><circle cx="73.6" cy="180.51" r="2.65"/><circle cx="73.6" cy="175.22" r="2.65"/><circle cx="73.6" cy="169.92" r="2.65"/><circle cx="73.6" cy="164.62" r="2.65"/><circle cx="73.6" cy="159.32" r="2.65"/><circle cx="73.6" cy="154.02" r="2.65"/><circle cx="73.6" cy="148.72" r="2.65"/><circle cx="73.6" cy="143.41" r="2.65"/><circle cx="73.6" cy="138.11" r="2.65"/><circle cx="73.6" cy="132.81" r="2.65"/><circle cx="73.6" cy="127.51" r="2.65"/><circle cx="73.6" cy="122.21" r="2.65"/><circle cx="73.6" cy="116.91" r="2.65"/><circle cx="73.6" cy="111.61" r="2.65"/><circle cx="73.6" cy="106.31" r="2.65"/><circle cx="73.6" cy="101.01" r="2.65"/><circle cx="73.6" cy="95.7" r="2.65"/><circle cx="73.6" cy="90.4" r="2.65"/><circle cx="73.6" cy="85.1" r="2.65"/><circle cx="73.6" cy="79.8" r="2.65"/><circle cx="73.6" cy="74.5" r="2.65"/><circle cx="73.6" cy="69.2" r="2.65"/><circle cx="73.6" cy="63.9" r="2.65"/><circle cx="73.6" cy="58.6" r="2.65"/><circle cx="73.83" cy="56.46" r="2.65"/><circle cx="75.61" cy="52.59" r="2.65"/><circle cx="78.72" cy="49.8" r="2.65"/><circle cx="82.57" cy="48.38" r="2.65"/></g>
<rect x="1.9" y="84.3" width="38.6" height="91.2" rx="19.3" ry="24" fill="#fff" stroke="#111" stroke-width="1.3"/>
<rect x="5.2" y="87.8" width="32.2" height="84" rx="16.1" ry="20.5" fill="#EFA898"/>
<rect x="8.1" y="91" width="26.4" height="77.6" rx="13.2" ry="17.6" fill="#F58AAE" stroke="#fff" stroke-width="1.4"/>
<path d="M12 97C16 92.5 27 92.5 31 98C33 103 33 110 31 113C27 108 20 101 12 97ZM11 150C14 160 20 166 27 165C31 160 32 152 31 146C26 152 18 154 11 150ZM13 121C19 116 28 118 32 125C28 129 18 129 13 121ZM12 136C18 133 27 134 31 139C26 143 17 142 12 136Z" fill="#F9B0C6"/>
<clipPath id="mclip"><rect x="7.4" y="90.3" width="27.8" height="79" rx="13.9" ry="18.3"/></clipPath>
<g clip-path="url(#mclip)" fill="#EFA898" stroke="#fff" stroke-width="1.4"><path d="M5 95.5H23.4A1.7 1.7 0 0 1 23.4 98.9H5" /><path d="M38 102.1H18.4A1.7 1.7 0 0 0 18.4 105.5H38" /><path d="M5 108.5H20.4A1.7 1.7 0 0 1 20.4 111.9H5" /><path d="M5 114.7H22.4A1.7 1.7 0 0 1 22.4 118.10000000000001H5" /><path d="M38 121.1H16.4A1.7 1.7 0 0 0 16.4 124.5H38" /><path d="M38 127.89999999999999H20.4A1.7 1.7 0 0 0 20.4 131.29999999999998H38" /><path d="M5 134.9H26.4A1.7 1.7 0 0 1 26.4 138.29999999999998H5" /><path d="M38 141.70000000000002H19.4A1.7 1.7 0 0 0 19.4 145.1H38" /><path d="M5 148.10000000000002H21.4A1.7 1.7 0 0 1 21.4 151.5H5" /><path d="M5 154.5H17.4A1.7 1.7 0 0 1 17.4 157.89999999999998H5" /><path d="M38 159.5H24.4A1.7 1.7 0 0 0 24.4 162.89999999999998H38" /></g>
<rect x="9.6" y="102.4" width="28.6" height="34.8" rx="4.5" fill="none" stroke="#111" stroke-width="1.5" stroke-dasharray="7.6 3.2" stroke-dashoffset="3"/>
<g stroke="#111" stroke-width="0.75" stroke-linejoin="round">
<ellipse cx="121.6" cy="40.6" rx="5" ry="8.2" fill="#E8908F" transform="rotate(-8 121.6 40.6)"/>
<ellipse cx="122.6" cy="88.6" rx="3" ry="6.9" fill="#E8908F" transform="rotate(14 122.6 88.6)"/>
<path d="M118.95 33.8C124.95 41 129.14999999999998 52 127.75000000000001 63C126.55 72 122.35000000000001 78 118.55 83.6" fill="none" stroke="#1a1a1a" stroke-width="2.7" stroke-linecap="round"/>
<path d="M121.05 33.8C127.05 41 131.25 52 129.85000000000002 63C128.65 72 124.45 78 120.64999999999999 83.6" fill="none" stroke="#1a1a1a" stroke-width="2.7" stroke-linecap="round"/>
<path d="M118.95 33.8C124.95 41 129.14999999999998 52 127.75000000000001 63C126.55 72 122.35000000000001 78 118.55 83.6" fill="none" stroke="#F1DC60" stroke-width="1.7" stroke-linecap="round"/>
<path d="M121.05 33.8C127.05 41 131.25 52 129.85000000000002 63C128.65 72 124.45 78 120.64999999999999 83.6" fill="none" stroke="#F1DC60" stroke-width="1.7" stroke-linecap="round"/>
<path d="M94.6 47.6H114.4L113.4 50.5H95.6Z" fill="#EBDDF3"/>
<rect x="92.9" y="33.2" width="23.1" height="14.6" rx="1.8" fill="#CDB1DA"/>
<path d="M98.5 50.5H111.8C111.4 54 111 58 111 62V80H105V63C104.4 58 100 55 98.5 50.5Z" fill="#A2C5DE"/>
<path d="M101.8 50.6C102.8 56 105.2 59 105.2 63" fill="none" stroke-width="0.5"/>
<path d="M105 71C102 67.5 97 68 94 71C89.5 72.5 86.6 78.6 86.6 85.4C86.4 92 88 98.6 91 102.4C93 106 97 107 100 105.4C102.6 108.4 107.6 108.4 110.2 105.4C113.4 107 117.2 106 119 102.4C120.8 98.6 120.6 92 120.4 85.4C120.2 78.6 117.6 72.5 113.6 71C112.6 69.6 111.6 69 111 69.2V80H105Z" fill="#CDB1DA"/>
<path d="M94 71C90.6 78 90.4 94 93.6 101.6M113.6 71C116.6 78 116.8 94 113.8 101.6M98.6 70C95.6 78 95.6 94 98.4 101M102.8 80C100.8 86 100.8 96 103 102.6M108.6 80C110.6 86 110.6 96 108.4 102.6M91 102.4C94 101 97.6 101.6 100 105.4M100 105.4C102 101.6 108 101.6 110.2 105.4M110.2 105.4C112.4 101.6 116 101 119 102.4" fill="none" stroke-width="0.5"/>
</g>
<text x="105.4" y="87.8" font-size="9" text-anchor="middle" fill="#111" >ATP</text>
<text x="105.4" y="99" font-size="9.3" text-anchor="middle" fill="#111" >Synthase</text>
<path d="M90.3 120C96 111.5 113 110.5 121 119.2" fill="none" stroke="#111" stroke-width="0.9" marker-end="url(#ahk)"/>
<path d="M104.8 107.5V121.6" fill="none" stroke="#111" stroke-width="0.9" marker-end="url(#ahk)"/>
<text x="87" y="133.6" font-size="8.6" text-anchor="middle" fill="#222" >ADP</text>
<text x="85.3" y="142.2" font-size="7.5" text-anchor="middle" fill="#222" >+</text>
<circle cx="104.5" cy="130.9" r="5" fill="#A9C9EA" stroke="#333" stroke-width="0.5"/>
<text x="104.5" y="133.4" font-size="6.8" text-anchor="middle" fill="#333" >H<tspan font-size="4.5" dy="-2.2">+</tspan></text>
<path d="M111 131H114" stroke="#333" stroke-width="0.6"/>
<polygon points="148.3,131.4 137.48,130.1 143,123.8 134.43,126.92 130.3,120.1 126.22,126.9 117.8,123.8 123.12,130.09 112.3,131.4 123.14,132.75 117.4,139.4 126.23,135.91 130.3,143 134.32,135.93 143,139.4 137.46,132.76" fill="#E6858C" stroke="#5a2a30" stroke-width="0.45"/>
<text x="130.3" y="134.8" font-size="9.2" text-anchor="middle" fill="#3a1a1e" >ATP</text>
<circle cx="84" cy="152.1" r="5" fill="#B1D5A9" stroke="#333" stroke-width="0.5"/>
<text x="84" y="154.6" font-size="7" text-anchor="middle" fill="#333" >Pi</text>
<text x="98.9" y="155.2" font-size="7.8" text-anchor="middle" fill="#222" >O2</text>
<text x="119.8" y="155.2" font-size="7.8" text-anchor="middle" fill="#222" >H<tspan font-size="5.8">2</tspan>O</text>
<g stroke="#222" stroke-width="0.7">
<ellipse cx="155.3" cy="42.6" rx="12.6" ry="21.6" fill="#F0D2C2"/>
<ellipse cx="183.5" cy="41.3" rx="9.5" ry="16.3" fill="#DDBDE4"/>
<ellipse cx="219.1" cy="41.4" rx="9.5" ry="16.3" fill="#E8DC98"/>
<ellipse cx="107.9" cy="182.3" rx="9.7" ry="16.1" fill="#E8DC98"/>
<ellipse cx="139.6" cy="182.3" rx="9.7" ry="16.1" fill="#DDBDE4"/>
<ellipse cx="180.6" cy="184.6" rx="9.2" ry="6.5" fill="#A9CDE2" transform="rotate(-8 180.6 184.6)"/>
<ellipse cx="179.3" cy="169.8" rx="11.2" ry="8.8" fill="#A9CDE2"/>
<ellipse cx="189.7" cy="172.4" rx="5.4" ry="3.7" fill="#8FC06F"/>
<ellipse cx="163.6" cy="67.5" rx="5.6" ry="4" fill="#C2417B"/>
</g>
<text x="151.3" y="40.3" font-size="10.5" text-anchor="middle" fill="#222" >I</text>
<text x="183.5" y="35.4" font-size="9.2" text-anchor="middle" fill="#222" letter-spacing="-0.3">III</text>
<text x="219.1" y="38.4" font-size="10.5" text-anchor="middle" fill="#222" >IV</text>
<text x="107.9" y="180.6" font-size="10.5" text-anchor="middle" fill="#222" >IV</text>
<text x="139.6" y="176.2" font-size="9.2" text-anchor="middle" fill="#222" letter-spacing="-0.3">III</text>
<text x="177" y="173" font-size="9.2" text-anchor="middle" fill="#222" >II</text>
<text x="213.9" y="66.4" font-size="7.8" text-anchor="middle" fill="#222" >O2</text>
<text x="239" y="66.4" font-size="7.8" text-anchor="middle" fill="#222" >H<tspan font-size="5.8">2</tspan>O</text>
<path d="M161.2 34.5L164 33.4V36Z" fill="#5B8FC8"/>
<path d="M149.3 100A24.8 24.8 0 0 1 196 106.5" fill="none" stroke="#111" stroke-width="0.95" marker-end="url(#ahk)"/>
<path d="M195.6 116.5A24.8 24.8 0 0 1 146.7 114.5" fill="none" stroke="#111" stroke-width="0.95" marker-end="url(#ahk)"/>
<text x="171.3" y="103.4" font-size="9.6" text-anchor="middle" fill="#222" >Citric</text>
<text x="171.3" y="113.8" font-size="9.6" text-anchor="middle" fill="#222" >acid</text>
<text x="171.3" y="124.2" font-size="9.6" text-anchor="middle" fill="#222" >cycle</text>
<path d="M203 149C201 163 183 163 173.8 153.6" fill="none" stroke="#111" stroke-width="1" marker-end="url(#ahk)"/>
<path d="M147.3 102C151 92 155.5 78 155 69C153.5 62 153.5 55 157 50.5C163 44 174 39.5 184 38.2C190 37.6 196 38.4 200 39.3C208 40 217 42 228 49.2C233 52.5 236.5 55 238.6 58" fill="none" stroke="#E8202A" stroke-width="0.95" marker-end="url(#ahr)"/>
<path d="M215.3 58C217.5 53.5 222.5 50.4 228.6 48.6" fill="none" stroke="#E8202A" stroke-width="0.95"/>
<circle cx="147.3" cy="102" r="0.9" fill="#E8202A"/><circle cx="154.6" cy="66.5" r="0.9" fill="#E8202A"/><path d="M196.5 37.2L199.6 39.2L196.2 40.6Z" fill="#E8202A"/>
<path d="M179.5 136.6C190 136 199 140 203 149C205 158 202.5 168 198 175.5C195 180.5 190 183.5 185 184.5C172 188.5 150 189.5 133 184C120 179.6 110 171 105 165C102 161.5 100 159 99.1 156.6" fill="none" stroke="#E8202A" stroke-width="0.95" marker-end="url(#ahr)"/>
<path d="M108 167.2C113 165 117.5 161.5 119.9 156.8" fill="none" stroke="#E8202A" stroke-width="0.95" marker-end="url(#ahr)"/>
<circle cx="203" cy="149" r="1" fill="#111"/>
<g stroke="#222" stroke-width="0.7">
<ellipse cx="319.7" cy="79.6" rx="21.3" ry="11.7" fill="#A2C97C"/>
<ellipse cx="321.7" cy="117" rx="21.3" ry="12" fill="#C2417B"/>
<ellipse cx="321.7" cy="154.3" rx="21.3" ry="11.7" fill="#E9CD62"/>
</g>
<text x="319.7" y="84.8" font-size="14.2" text-anchor="middle" fill="#111" >FAD</text>
<text x="321.7" y="122.3" font-size="14.2" text-anchor="middle" fill="#111" >FMN</text>
<text x="321.7" y="159.5" font-size="14.2" text-anchor="middle" fill="#111" >RF</text>
<path d="M321 104.6V94" stroke="#111" stroke-width="1.1" marker-end="url(#ahk)"/>
<path d="M321.7 141.8V131.5" stroke="#111" stroke-width="1.1" marker-end="url(#ahk)"/>
<path d="M301 118.3C285 118.3 262 116 248 113.6C225 109 200 98 185 86C178 80 172.5 73 169.6 67.6" fill="none" stroke="#4A7FB5" stroke-width="0.95" marker-end="url(#ahb)"/>
<path d="M302.6 89C301 105 296 122 285 138C270 158 235 172 198.2 173.2" fill="none" stroke="#4A7FB5" stroke-width="0.95" marker-end="url(#ahb)"/>
<text x="418.3" y="265.6" font-size="15.5" text-anchor="start" fill="#000" font-weight="bold">e</text>
<text x="459" y="294.4" font-size="17" text-anchor="middle" fill="#000" >5th</text>
<text x="459.2" y="315.8" font-size="17.3" text-anchor="middle" fill="#000" >nymph</text>
<text transform="translate(564.2,298.9) scale(1.22,1)" font-size="19" text-anchor="middle" font-weight="bold" font-family="DejaVu Sans, sans-serif">♀</text>
<text x="557.2" y="319.6" font-size="17.4" text-anchor="middle" fill="#000" >adult</text>
<g fill="#F0A030" stroke="#1a1a1a" stroke-width="1.1">
<path d="M439.8 339.8A14.3 14.3 0 1 0 442.2 348.8Q443.9 346.3 446.9 344.6Q443.1 343.2 439.8 339.8Z"/>
<path d="M440.3 381.8A14.3 14.3 0 1 0 442.5 390.8Q444.5 388.5 447.7 386.9Q443.8 385.4 440.3 381.8Z"/>
</g>
<path d="M423.4 343.4L432.6 352.6M432.6 343.4L423.4 352.6" stroke="#111" stroke-width="3" stroke-linecap="round"/>
<path d="M429.3 383C432 386.8 434.4 389.4 434.4 392.2A5.1 5.1 0 0 1 424.2 392.2C424.2 389.4 426.6 386.8 429.3 383Z" fill="#111"/>
<path d="M432 391.6A2.4 2.4 0 0 1 430.2 394.6" fill="none" stroke="#F0A030" stroke-width="0.9" stroke-linecap="round"/>
<path d="M455 342.6V431.4C455 438 460.5 441.3 468.2 441.3C475.9 441.3 481.4 438 481.4 431.4V342.6Z" fill="#C9E1E8" stroke="#6FA9BC" stroke-width="0.7"/>
<path d="M459.2 344.5V432C459.6 436.6 463.4 438.6 467.6 438.6C471.8 438.6 475 436.6 475.4 432V344.5Z" fill="#CCD5CF"/>
<path d="M477.8 344.5V434" stroke="#8DBCCB" stroke-width="0.8"/><path d="M457 350V356" stroke="#fff" stroke-width="0.9"/>
<ellipse cx="468.2" cy="342.6" rx="13.2" ry="2.9" fill="#F0A030" stroke="#9a6a20" stroke-width="0.4"/>
<path d="M456 381.4H480.6" stroke="#9aa" stroke-width="0.5"/>
<g transform="translate(468,384.8) scale(0.82)" fill="none" stroke="#5a5a5a" stroke-width="0.7" stroke-linecap="round" stroke-linejoin="round"><path d="M-3 -6.5Q0 -9 3 -6.5L4 -3.5H-4Z"/><path d="M-4 -3.5L-5.2 1.5Q-5.6 7 -2.6 10.6Q0 12 2.6 10.6Q5.6 7 5.2 1.5L4 -3.5Z"/><path d="M-4.8 2.5H4.8M-4.9 4.8H4.9M-4.4 7H4.4M-3.2 9H3.2M-4.6 0H4.6"/><path d="M-4 -3L-8.5 -5.5L-10.5 -3M4 -3L8.5 -5.5L10.5 -3M-4.8 -0.5L-9.5 0.5L-11 5M4.8 -0.5L9.5 0.5L11 5M-5 3L-8 6L-8.6 10.5M5 3L8 6L8.6 10.5"/><path d="M-2 -7.6L-5.5 -10.6M2 -7.6L5.5 -10.6"/></g>
<text x="518" y="386.6" font-size="16.8" text-anchor="middle" fill="#000" >2d</text>
<path d="M495.4 394.8H536" stroke="#222" stroke-width="1"/><path d="M540.4 394.8L533.4 391.8L534.8 394.8L533.4 397.8Z" fill="#222"/>
<path d="M549.4 343V431.4C549.4 438 554.9 441.3 562.5 441.3C570.1 441.3 575.6 438 575.6 431.4V343Z" fill="#CBE3EA" stroke="#6FA9BC" stroke-width="0.7"/>
<path d="M551 429.6Q562.5 426.6 574 429.6V431.4C574 437 569.4 439.9 562.5 439.9C555.6 439.9 551 437 551 431.4Z" fill="#E9B95B"/>
<ellipse cx="562.5" cy="343" rx="13.1" ry="2.7" fill="#D6EAF0" stroke="#3d4f55" stroke-width="0.8"/>
<path d="M572 345V428" stroke="#8DBCCB" stroke-width="0.8"/><path d="M551.4 350V356" stroke="#fff" stroke-width="0.9"/>
<path d="M562.4 428.4C562 415 560 402 558.6 392.2M562.8 428.4C562.6 415 562.4 405 562.6 396M563.2 428.4C564 414 566 400 567.8 390" fill="none" stroke="#3E8A3A" stroke-width="1.1" stroke-linecap="round"/>
<ellipse cx="561.4" cy="377.4" rx="3.9" ry="6" fill="#8a8f8f"/>
<g transform="translate(561.4,374.6) scale(0.86)" fill="none" stroke="#1a1a1a" stroke-width="0.95" stroke-linecap="round" stroke-linejoin="round"><path d="M-3 -6.5Q0 -9 3 -6.5L4 -3.5H-4Z"/><path d="M-4 -3.5L-5.2 1.5Q-5.6 7 -2.6 10.6Q0 12 2.6 10.6Q5.6 7 5.2 1.5L4 -3.5Z"/><path d="M-4.8 2.5H4.8M-4.9 4.8H4.9M-4.4 7H4.4M-3.2 9H3.2M-4.6 0H4.6"/><path d="M-4 -3L-8.5 -5.5L-10.5 -3M4 -3L8.5 -5.5L10.5 -3M-4.8 -0.5L-9.5 0.5L-11 5M4.8 -0.5L9.5 0.5L11 5M-5 3L-8 6L-8.6 10.5M5 3L8 6L8.6 10.5"/><path d="M-2 -7.6L-5.5 -10.6M2 -7.6L5.5 -10.6"/></g>
<path d="M558.6 372.5L561.4 376.4L564.2 372.5Z" fill="#8a4a2a" stroke="none"/>
<text x="649.7" y="319.7" font-size="16.5" text-anchor="middle" fill="#000" >1d</text>
<text x="747.3" y="319.7" font-size="16.5" text-anchor="middle" fill="#000" >3d</text>
<text x="868.6" y="319.7" font-size="16.5" text-anchor="middle" fill="#000" >5d</text>
<text x="747.6" y="444.9" font-size="16.7" text-anchor="middle" fill="#000" >Ovary</text>
<g fill="#fff" stroke="#000" stroke-width="0.8" stroke-linejoin="round"><path d="M666.5 387.6C667.1 387.6 668.7 388.1 669.7 388.5C670.8 388.8 671.7 389.1 672.8 389.6C673.8 390.2 675.2 391.1 676 391.9C676.8 392.6 678 393.8 677.8 394.1C677.6 394.4 676 394.1 675 393.9C673.9 393.6 672.3 393 671.3 392.5C670.2 391.9 669.5 391.3 668.6 390.6C667.7 389.9 666.4 388.9 666.1 388.4C665.7 387.9 665.9 387.6 666.5 387.6Z"/><path d="M638.5 388.4C638.2 388.9 636.9 389.9 636 390.6C635.1 391.3 634.4 391.9 633.3 392.5C632.3 393 630.7 393.6 629.6 393.9C628.6 394.1 627 394.4 626.8 394.1C626.6 393.8 627.8 392.6 628.6 391.9C629.4 391.1 630.8 390.2 631.8 389.6C632.9 389.1 633.8 388.8 634.9 388.5C635.9 388.1 637.5 387.6 638.1 387.6C638.7 387.6 638.9 387.9 638.5 388.4Z"/><path d="M666.4 387.5C667 387.3 668.7 387.3 669.8 387.3C670.9 387.3 672 387.2 673.2 387.4C674.4 387.5 676.1 388 677.2 388.4C678.2 388.8 679.7 389.5 679.7 389.9C679.6 390.2 678 390.5 676.8 390.6C675.7 390.7 674 390.7 672.8 390.5C671.5 390.4 670.6 390 669.5 389.7C668.4 389.3 666.8 388.8 666.2 388.5C665.7 388.1 665.8 387.7 666.4 387.5Z"/><path d="M638.4 388.5C637.8 388.8 636.2 389.3 635.1 389.7C634 390 633.1 390.4 631.8 390.5C630.6 390.7 628.9 390.7 627.8 390.6C626.6 390.5 625 390.2 624.9 389.9C624.9 389.5 626.4 388.8 627.4 388.4C628.5 388 630.2 387.5 631.4 387.4C632.6 387.2 633.7 387.3 634.8 387.3C635.9 387.3 637.6 387.3 638.2 387.5C638.8 387.7 638.9 388.1 638.4 388.5Z"/><path d="M666.2 387.5C666.7 387.1 668.4 386.4 669.5 386C670.7 385.5 671.7 385 672.9 384.7C674.2 384.4 676 384.1 677.3 384.1C678.5 384.1 680.3 384.1 680.4 384.5C680.5 384.9 678.9 385.7 677.8 386.3C676.7 386.8 675 387.5 673.7 387.8C672.4 388.1 671.3 388.2 670.1 388.3C668.9 388.4 667.1 388.6 666.4 388.5C665.8 388.3 665.7 388 666.2 387.5Z"/><path d="M638.2 388.5C637.5 388.6 635.7 388.4 634.5 388.3C633.3 388.2 632.2 388.1 630.9 387.8C629.6 387.5 627.9 386.8 626.8 386.3C625.7 385.7 624.1 384.9 624.2 384.5C624.3 384.1 626.1 384.1 627.3 384.1C628.6 384.1 630.4 384.4 631.7 384.7C632.9 385 633.9 385.5 635.1 386C636.2 386.4 637.9 387.1 638.4 387.5C638.9 388 638.8 388.3 638.2 388.5Z"/><path d="M666 387.6C666.3 387 667.6 385.8 668.4 385C669.3 384.1 670 383.3 671 382.6C672.1 381.8 673.6 381 674.7 380.5C675.8 380 677.4 379.5 677.6 379.8C677.8 380.1 676.8 381.4 676 382.3C675.2 383.2 673.9 384.4 672.9 385.2C671.9 385.9 670.9 386.4 669.8 386.9C668.8 387.4 667.2 388.3 666.6 388.4C665.9 388.5 665.7 388.2 666 387.6Z"/><path d="M638 388.4C637.4 388.3 635.8 387.4 634.8 386.9C633.7 386.4 632.7 385.9 631.7 385.2C630.7 384.4 629.4 383.2 628.6 382.3C627.8 381.4 626.8 380.1 627 379.8C627.2 379.5 628.8 380 629.9 380.5C631 381 632.5 381.8 633.6 382.6C634.6 383.3 635.3 384.1 636.2 385C637 385.8 638.3 387 638.6 387.6C638.9 388.2 638.7 388.5 638 388.4Z"/><path d="M665.9 387.7C666 387.1 666.7 385.6 667.1 384.6C667.6 383.6 667.9 382.7 668.6 381.7C669.3 380.7 670.4 379.5 671.2 378.8C672 378 673.3 377 673.6 377.2C673.9 377.4 673.4 379 673 380C672.7 381.1 671.9 382.5 671.3 383.5C670.6 384.5 669.9 385.2 669.1 386C668.4 386.8 667.2 388 666.7 388.3C666.2 388.6 665.8 388.3 665.9 387.7Z"/><path d="M637.9 388.3C637.4 388 636.2 386.8 635.5 386C634.7 385.2 634 384.5 633.3 383.5C632.7 382.5 631.9 381.1 631.6 380C631.2 379 630.7 377.4 631 377.2C631.3 377 632.6 378 633.4 378.8C634.2 379.5 635.3 380.7 636 381.7C636.7 382.7 637 383.6 637.5 384.6C637.9 385.6 638.6 387.1 638.7 387.7C638.8 388.3 638.4 388.6 637.9 388.3Z"/><path d="M665.8 387.9C665.6 387.2 665.6 385.2 665.7 383.8C665.7 382.5 665.6 381.3 665.9 379.8C666.2 378.4 666.8 376.4 667.3 375.2C667.8 373.9 668.7 372.2 669.1 372.2C669.5 372.3 669.7 374.2 669.8 375.6C669.8 377 669.7 379 669.5 380.4C669.2 381.9 668.8 383 668.3 384.3C667.9 385.6 667.3 387.5 666.8 388.1C666.4 388.7 666 388.6 665.8 387.9Z"/><path d="M637.8 388.1C637.3 387.5 636.7 385.6 636.3 384.3C635.8 383 635.4 381.9 635.1 380.4C634.9 379 634.8 377 634.8 375.6C634.9 374.2 635.1 372.3 635.5 372.2C635.9 372.2 636.8 373.9 637.3 375.2C637.8 376.4 638.4 378.4 638.7 379.8C639 381.3 638.9 382.5 638.9 383.8C639 385.2 639 387.2 638.8 387.9C638.6 388.6 638.2 388.7 637.8 388.1Z"/><path d="M665.8 388.1C665.3 387.5 664.7 385.7 664.3 384.4C663.9 383.2 663.4 382.1 663.2 380.7C662.9 379.3 662.8 377.3 662.9 376C663 374.7 663.2 372.8 663.6 372.7C664 372.7 664.9 374.3 665.4 375.6C665.9 376.8 666.5 378.7 666.7 380.1C667 381.5 666.9 382.6 667 383.9C667 385.3 667 387.2 666.8 387.9C666.6 388.6 666.2 388.7 665.8 388.1Z"/><path d="M637.8 387.9C637.6 387.2 637.6 385.3 637.6 383.9C637.7 382.6 637.6 381.5 637.9 380.1C638.1 378.7 638.7 376.8 639.2 375.6C639.7 374.3 640.6 372.7 641 372.7C641.4 372.8 641.6 374.7 641.7 376C641.8 377.3 641.7 379.3 641.4 380.7C641.2 382.1 640.7 383.2 640.3 384.4C639.9 385.7 639.3 387.5 638.8 388.1C638.4 388.7 638 388.6 637.8 387.9Z"/></g>
<path d="M637.3 389C639.3 394.65 647.55 399.82 650.78 402.15V406.8H647.55V408.8H654.2L658.47 409.8L657.05 407.2L653.82 406.8V402.15C657.05 399.82 665.3 394.65 667.3 389L663.26 388.5C661.55 393.7 655.15 395.97 652.3 397.4C649.45 395.97 643.05 393.7 641.34 388.5Z" fill="#fff" stroke="#000" stroke-width="0.8" stroke-linejoin="round"/>
<path d="M636.1 386.2L640.9 389.8M635.9 389.2L640.5 386.6M663.7 389.8L668.5 386.2M664.1 386.6L668.7 389.2" stroke="#000" stroke-width="1.2" fill="none"/>
<g fill="#fff" stroke="#000" stroke-width="0.8" stroke-linejoin="round"><path d="M761.3 394.4C761.6 393.4 763.6 391.5 764.7 390C765.8 388.5 767.2 387 767.9 385.4C768.5 383.8 768.2 382 768.7 380.5C769.3 378.9 770.1 377.4 771 376.2C772 374.9 773.4 373.6 774.6 372.8C775.7 372 776.6 372.7 777.8 371.6C779 370.4 780.9 366.9 781.8 365.8C782.7 364.6 783.2 364.5 783.4 364.7C783.6 364.9 783.7 365.4 783.1 366.8C782.4 368.1 780 371.2 779.4 372.8C778.7 374.4 779.6 375.1 779.3 376.5C778.9 377.9 778.2 379.7 777.3 381.1C776.5 382.4 775.4 383.7 774.1 384.6C772.8 385.6 771.1 385.8 769.7 386.9C768.4 388 767.4 389.8 766.3 391.2C765.1 392.7 763.7 395.1 762.9 395.6C762.1 396.1 761 395.3 761.3 394.4Z"/><path d="M733.3 395.6C732.5 395.1 731.1 392.7 729.9 391.2C728.8 389.8 727.8 388 726.5 386.9C725.1 385.8 723.4 385.6 722.1 384.6C720.8 383.7 719.7 382.4 718.9 381.1C718 379.7 717.3 377.9 716.9 376.5C716.6 375.1 717.5 374.4 716.8 372.8C716.2 371.2 713.8 368.1 713.1 366.8C712.5 365.4 712.6 364.9 712.8 364.7C713 364.5 713.5 364.6 714.4 365.8C715.3 366.9 717.2 370.4 718.4 371.6C719.6 372.7 720.5 372 721.6 372.8C722.8 373.6 724.2 374.9 725.2 376.2C726.1 377.4 726.9 378.9 727.5 380.5C728 382 727.7 383.8 728.3 385.4C729 387 730.4 388.5 731.5 390C732.6 391.5 734.6 393.4 734.9 394.4C735.2 395.3 734.1 396.1 733.3 395.6Z"/><path d="M761.8 394.3C762.9 393.5 766.5 392.3 768.8 391.4C771.2 390.5 774.3 389.6 775.9 388.7C777.6 387.7 777.6 386.7 778.8 385.7C780.1 384.8 781.8 383.5 783.4 382.9C785.1 382.3 787.3 382 788.8 382C790.3 382 791.2 382.9 792.5 382.9C793.7 383 795.4 382.3 796.3 382.2C797.2 382.1 797.9 382.3 798 382.5C798.1 382.8 797.7 383.3 796.9 383.7C796.1 384.1 794.3 384.5 793.4 385.2C792.4 385.9 792.4 387.1 791.2 387.9C790.1 388.8 788.2 389.8 786.4 390.3C784.7 390.8 782.6 390.9 780.9 390.9C779.3 391 778.6 390.2 776.7 390.5C774.8 390.9 771.9 392.2 769.5 393C767.1 393.9 763.7 395.5 762.4 395.7C761.1 395.9 760.7 395 761.8 394.3Z"/><path d="M733.8 395.7C732.5 395.5 729.1 393.9 726.7 393C724.3 392.2 721.4 390.9 719.5 390.5C717.6 390.2 716.9 391 715.3 390.9C713.6 390.9 711.5 390.8 709.8 390.3C708 389.8 706.1 388.8 705 387.9C703.8 387.1 703.8 385.9 702.8 385.2C701.9 384.5 700.1 384.1 699.3 383.7C698.5 383.3 698.1 382.8 698.2 382.5C698.3 382.3 699 382.1 699.9 382.2C700.8 382.3 702.5 383 703.7 382.9C705 382.9 705.9 382 707.4 382C708.9 382 711.1 382.3 712.8 382.9C714.4 383.5 716.1 384.8 717.4 385.7C718.6 386.7 718.6 387.7 720.3 388.7C721.9 389.6 725 390.5 727.4 391.4C729.7 392.3 733.3 393.5 734.4 394.3C735.5 395 735.1 395.9 733.8 395.7Z"/><path d="M762 394.2C763.3 393.7 767.3 393.6 770 393.3C772.6 393.1 776 393.1 777.9 392.6C779.9 392.1 780.2 391.1 781.7 390.4C783.3 389.8 785.3 389.1 787.2 388.9C789.1 388.8 791.4 389.1 792.9 389.6C794.4 390 795.1 391.2 796.3 391.6C797.6 392 799.4 391.8 800.4 392C801.4 392.2 802.1 392.5 802.1 392.8C802.1 393.1 801.5 393.4 800.6 393.7C799.7 393.9 797.8 393.7 796.6 394.1C795.4 394.6 795 395.8 793.6 396.3C792.2 396.9 790 397.4 788.1 397.4C786.2 397.4 784 396.8 782.4 396.4C780.7 395.9 780.2 394.9 778.2 394.7C776.1 394.5 772.8 395 770.2 395.2C767.5 395.4 763.5 396 762.2 395.8C760.8 395.7 760.7 394.6 762 394.2Z"/><path d="M734 395.8C732.7 396 728.7 395.4 726 395.2C723.4 395 720.1 394.5 718 394.7C716 394.9 715.5 395.9 713.8 396.4C712.2 396.8 710 397.4 708.1 397.4C706.2 397.4 704 396.9 702.6 396.3C701.2 395.8 700.8 394.6 699.6 394.1C698.4 393.7 696.5 393.9 695.6 393.7C694.7 393.4 694.1 393.1 694.1 392.8C694.1 392.5 694.8 392.2 695.8 392C696.8 391.8 698.6 392 699.9 391.6C701.1 391.2 701.8 390 703.3 389.6C704.8 389.1 707.1 388.8 709 388.9C710.9 389.1 712.9 389.8 714.5 390.4C716 391.1 716.3 392.1 718.3 392.6C720.2 393.1 723.6 393.1 726.2 393.3C728.9 393.6 732.9 393.7 734.2 394.2C735.5 394.6 735.4 395.7 734 395.8Z"/><path d="M762.2 394.2C763.6 394.1 767.5 395 770.1 395.4C772.8 395.8 776 396.7 778 396.7C780 396.7 780.6 395.8 782.3 395.6C783.9 395.4 786.1 395.1 787.9 395.5C789.8 395.8 791.9 396.7 793.3 397.5C794.7 398.3 795 399.6 796.1 400.3C797.2 401 799.1 401.2 799.9 401.6C800.8 402 801.4 402.6 801.4 402.8C801.3 403.1 800.6 403.3 799.7 403.3C798.7 403.3 796.9 402.7 795.7 402.8C794.5 403 793.7 404 792.2 404.2C790.7 404.4 788.4 404.3 786.6 403.8C784.8 403.4 782.8 402.3 781.3 401.5C779.8 400.6 779.6 399.5 777.7 398.8C775.8 398.1 772.5 397.7 769.8 397.2C767.2 396.7 763.2 396.4 762 395.8C760.7 395.3 760.9 394.2 762.2 394.2Z"/><path d="M734.2 395.8C733 396.4 729 396.7 726.4 397.2C723.7 397.7 720.4 398.1 718.5 398.8C716.6 399.5 716.4 400.6 714.9 401.5C713.4 402.3 711.4 403.4 709.6 403.8C707.8 404.3 705.5 404.4 704 404.2C702.5 404 701.7 403 700.5 402.8C699.3 402.7 697.5 403.3 696.5 403.3C695.6 403.3 694.9 403.1 694.8 402.8C694.8 402.6 695.4 402 696.3 401.6C697.1 401.2 699 401 700.1 400.3C701.2 399.6 701.5 398.3 702.9 397.5C704.3 396.7 706.4 395.8 708.3 395.5C710.1 395.1 712.3 395.4 713.9 395.6C715.6 395.8 716.2 396.7 718.2 396.7C720.2 396.7 723.4 395.8 726.1 395.4C728.7 395 732.6 394.1 734 394.2C735.3 394.2 735.5 395.3 734.2 395.8Z"/><path d="M760.6 394.5C760.1 393.9 760.8 393 760.7 391.9C760.7 390.8 760.3 389.5 760.4 387.9C760.5 386.3 760.9 384.1 761.5 382.4C762.1 380.7 762.9 378.9 763.9 377.7C764.9 376.5 766.6 376.3 767.5 375.2C768.3 374.2 768.5 372.6 769 371.2C769.5 369.8 770.1 367.7 770.6 366.8C771 365.8 771.5 365.4 771.7 365.5C771.9 365.6 772 366.2 771.8 367.2C771.6 368.2 770.9 370.2 770.5 371.7C770.1 373.1 769.3 374.5 769.4 375.8C769.4 377.2 770.7 378.3 770.8 379.9C770.9 381.5 770.5 383.5 770 385.2C769.5 386.9 768.5 388.9 767.7 390.3C766.8 391.6 765.7 392.5 765 393.3C764.3 394.2 764.3 395.3 763.6 395.5C762.9 395.7 761.1 395.1 760.6 394.5Z"/><path d="M732.6 395.5C731.9 395.3 731.9 394.2 731.2 393.3C730.5 392.5 729.4 391.6 728.5 390.3C727.7 388.9 726.7 386.9 726.2 385.2C725.7 383.5 725.3 381.5 725.4 379.9C725.5 378.3 726.8 377.2 726.8 375.8C726.9 374.5 726.1 373.1 725.7 371.7C725.3 370.2 724.6 368.2 724.4 367.2C724.2 366.2 724.3 365.6 724.5 365.5C724.7 365.4 725.2 365.8 725.6 366.8C726.1 367.7 726.7 369.8 727.2 371.2C727.7 372.6 727.9 374.2 728.7 375.2C729.6 376.3 731.3 376.5 732.3 377.7C733.3 378.9 734.1 380.7 734.7 382.4C735.3 384.1 735.7 386.3 735.8 387.9C735.9 389.5 735.5 390.8 735.5 391.9C735.4 393 736.1 393.9 735.6 394.5C735.1 395.1 733.3 395.7 732.6 395.5Z"/><path d="M760.5 395.3C759.7 395 759.9 393.8 759.3 392.8C758.7 391.8 757.7 390.8 757 389.2C756.3 387.6 755.5 385.4 755.2 383.5C754.9 381.6 754.9 379.4 755.2 377.8C755.5 376.2 757 375.2 757.3 373.7C757.5 372.3 756.9 370.7 756.7 369.1C756.5 367.6 756 365.4 756 364.3C755.9 363.1 756.1 362.5 756.4 362.5C756.6 362.5 757 362.9 757.4 364C757.7 365.1 758 367.3 758.3 368.9C758.6 370.4 758.6 372.1 759.3 373.4C760.1 374.6 761.8 375.1 762.7 376.5C763.6 377.9 764.2 379.9 764.6 381.8C765 383.7 765 386.1 764.9 387.8C764.8 389.5 764.2 390.8 764 392C763.8 393.1 764.3 394.2 763.7 394.7C763.2 395.3 761.2 395.6 760.5 395.3Z"/><path d="M732.5 394.7C731.9 394.2 732.4 393.1 732.2 392C732 390.8 731.4 389.5 731.3 387.8C731.2 386.1 731.2 383.7 731.6 381.8C732 379.9 732.6 377.9 733.5 376.5C734.4 375.1 736.1 374.6 736.9 373.4C737.6 372.1 737.6 370.4 737.9 368.9C738.2 367.3 738.5 365.1 738.8 364C739.2 362.9 739.6 362.5 739.8 362.5C740.1 362.5 740.3 363.1 740.2 364.3C740.2 365.4 739.7 367.6 739.5 369.1C739.3 370.7 738.7 372.3 738.9 373.7C739.2 375.2 740.7 376.2 741 377.8C741.3 379.4 741.3 381.6 741 383.5C740.7 385.4 739.9 387.6 739.2 389.2C738.5 390.8 737.5 391.8 736.9 392.8C736.3 393.8 736.5 395 735.7 395.3C735 395.6 733 395.3 732.5 394.7Z"/><path d="M760.4 394.9C759.7 394.4 760.1 393.2 759.8 392C759.5 390.8 758.6 389.5 758.3 387.7C758.1 385.9 757.9 383.4 758 381.4C758.2 379.3 758.7 377.1 759.5 375.5C760.2 373.9 762 373.3 762.6 371.9C763.2 370.5 763 368.7 763.2 367C763.4 365.3 763.4 362.9 763.7 361.8C763.9 360.6 764.3 360.1 764.5 360.1C764.8 360.1 765.1 360.7 765.2 361.9C765.2 363.1 765 365.4 764.9 367.1C764.8 368.8 764.4 370.5 764.8 372C765.2 373.5 766.9 374.4 767.4 376.1C768 377.8 768.1 380 768 382.1C767.9 384.1 767.4 386.6 766.8 388.3C766.3 390 765.3 391.2 764.8 392.4C764.3 393.5 764.6 394.7 763.8 395.1C763.1 395.5 761 395.4 760.4 394.9Z"/><path d="M732.4 395.1C731.6 394.7 731.9 393.5 731.4 392.4C730.9 391.2 729.9 390 729.4 388.3C728.8 386.6 728.3 384.1 728.2 382.1C728.1 380 728.2 377.8 728.8 376.1C729.3 374.4 731 373.5 731.4 372C731.8 370.5 731.4 368.8 731.3 367.1C731.2 365.4 731 363.1 731 361.9C731.1 360.7 731.4 360.1 731.7 360.1C731.9 360.1 732.3 360.6 732.5 361.8C732.8 362.9 732.8 365.3 733 367C733.2 368.7 733 370.5 733.6 371.9C734.2 373.3 736 373.9 736.7 375.5C737.5 377.1 738 379.3 738.2 381.4C738.3 383.4 738.1 385.9 737.9 387.7C737.6 389.5 736.7 390.8 736.4 392C736.1 393.2 736.5 394.4 735.8 394.9C735.2 395.4 733.1 395.5 732.4 395.1Z"/></g>
<path d="M733.1 396C735.1 403.4 742.1 409.2 746.18 412.4V418.8H742.1V420.8H750.5L755.9 421.8L754.1 419.2L750.02 418.8V412.4C754.1 409.2 761.1 403.4 763.1 396L758.26 395.5C756.1 402.2 751.7 404.6 748.1 406.4C744.5 404.6 740.1 402.2 737.94 395.5Z" fill="#fff" stroke="#000" stroke-width="0.8" stroke-linejoin="round"/>
<path d="M731.9 393.2L736.7 396.8M731.7 396.2L736.3 393.6M759.5 396.8L764.3 393.2M759.9 393.6L764.5 396.2" stroke="#000" stroke-width="1.2" fill="none"/>
<g fill="#fff" stroke="#000" stroke-width="0.8" stroke-linejoin="round"><path d="M879.5 396.1C879.9 394.9 882.6 392.7 884.1 390.9C885.5 389.2 887.4 387.5 888.4 385.5C889.3 383.6 889 381.2 889.7 379.3C890.5 377.4 891.6 375.6 892.9 374.1C894.3 372.7 896.2 371.2 897.7 370.4C899.3 369.6 900.4 370.7 902.1 369.4C903.7 368.1 906.4 364 907.7 362.7C909 361.4 909.6 361.3 909.9 361.6C910.2 361.8 910.3 362.5 909.3 364.1C908.4 365.8 905 369.3 904.1 371.2C903.2 373.2 904.4 374.2 903.9 375.9C903.4 377.7 902.3 379.9 901.1 381.5C899.9 383.1 898.4 384.5 896.7 385.6C894.9 386.6 892.6 386.5 890.8 387.7C889.1 388.9 887.7 391.1 886.1 392.8C884.6 394.5 882.6 397.4 881.5 397.9C880.4 398.5 879.1 397.2 879.5 396.1Z"/><path d="M851.5 397.9C850.4 397.4 848.4 394.5 846.9 392.8C845.3 391.1 843.9 388.9 842.2 387.7C840.4 386.5 838.1 386.6 836.3 385.6C834.6 384.5 833.1 383.1 831.9 381.5C830.7 379.9 829.6 377.7 829.1 375.9C828.6 374.2 829.8 373.2 828.9 371.2C828 369.3 824.6 365.8 823.7 364.1C822.7 362.5 822.8 361.8 823.1 361.6C823.4 361.3 824 361.4 825.3 362.7C826.6 364 829.3 368.1 830.9 369.4C832.6 370.7 833.7 369.6 835.3 370.4C836.8 371.2 838.7 372.7 840.1 374.1C841.4 375.6 842.5 377.4 843.3 379.3C844 381.2 843.7 383.6 844.6 385.5C845.6 387.5 847.5 389.2 848.9 390.9C850.4 392.7 853.1 394.9 853.5 396.1C853.9 397.2 852.6 398.5 851.5 397.9Z"/><path d="M880.2 395.9C881.7 395.2 886.4 394.4 889.5 393.6C892.7 392.8 896.6 392.3 898.9 391.4C901.1 390.5 901.3 389.1 903 388C904.7 387 907 385.7 909.2 385.2C911.4 384.7 914.2 384.8 916.1 385.1C918 385.4 919 386.8 920.6 387.1C922.1 387.4 924.3 386.8 925.5 386.9C926.7 387 927.6 387.4 927.7 387.7C927.7 388.1 927.1 388.6 926 389.1C925 389.5 922.7 389.6 921.4 390.3C920.1 391.1 919.8 392.7 918.2 393.6C916.7 394.5 914.1 395.5 911.9 395.9C909.6 396.2 906.9 395.8 904.9 395.5C902.8 395.2 902 394 899.6 394.1C897.1 394.1 893.3 395.3 890.1 395.9C887 396.6 882.4 398.1 880.8 398.1C879.1 398.1 878.8 396.7 880.2 395.9Z"/><path d="M852.2 398.1C850.6 398.1 846 396.6 842.9 395.9C839.7 395.3 835.9 394.1 833.4 394.1C831 394 830.2 395.2 828.1 395.5C826.1 395.8 823.4 396.2 821.1 395.9C818.9 395.5 816.3 394.5 814.8 393.6C813.2 392.7 812.9 391.1 811.6 390.3C810.3 389.6 808 389.5 807 389.1C805.9 388.6 805.3 388.1 805.3 387.7C805.4 387.4 806.3 387 807.5 386.9C808.7 386.8 810.9 387.4 812.4 387.1C814 386.8 815 385.4 816.9 385.1C818.8 384.8 821.6 384.7 823.8 385.2C826 385.7 828.3 387 830 388C831.7 389.1 831.9 390.5 834.1 391.4C836.4 392.3 840.3 392.8 843.5 393.6C846.6 394.4 851.3 395.2 852.8 395.9C854.2 396.7 853.9 398.1 852.2 398.1Z"/><path d="M880.5 395.9C882.3 395.5 887.6 395.9 891.1 396C894.7 396.1 899.1 396.7 901.7 396.4C904.4 396 904.9 394.7 907.1 394.1C909.2 393.5 912 392.8 914.5 392.9C917 393 920 393.9 921.9 394.7C923.8 395.6 924.5 397.3 926.1 398C927.6 398.8 930.1 398.8 931.3 399.2C932.6 399.6 933.5 400.2 933.4 400.6C933.4 401 932.5 401.3 931.3 401.5C930.1 401.6 927.6 401.1 926 401.5C924.4 401.9 923.7 403.4 921.7 403.9C919.8 404.4 916.8 404.7 914.3 404.4C911.8 404.1 909 403 906.9 402.1C904.8 401.3 904.3 399.8 901.7 399.2C899 398.6 894.6 398.7 891.1 398.6C887.5 398.4 882.2 398.6 880.5 398.1C878.7 397.7 878.7 396.2 880.5 395.9Z"/><path d="M852.5 398.1C850.8 398.6 845.5 398.4 841.9 398.6C838.4 398.7 834 398.6 831.3 399.2C828.7 399.8 828.2 401.3 826.1 402.1C824 403 821.2 404.1 818.7 404.4C816.2 404.7 813.2 404.4 811.3 403.9C809.3 403.4 808.6 401.9 807 401.5C805.4 401.1 802.9 401.6 801.7 401.5C800.5 401.3 799.6 401 799.6 400.6C799.5 400.2 800.4 399.6 801.7 399.2C802.9 398.8 805.4 398.8 806.9 398C808.5 397.3 809.2 395.6 811.1 394.7C813 393.9 816 393 818.5 392.9C821 392.8 823.8 393.5 825.9 394.1C828.1 394.7 828.6 396 831.3 396.4C833.9 396.7 838.3 396.1 841.9 396C845.4 395.9 850.7 395.5 852.5 395.9C854.3 396.2 854.3 397.7 852.5 398.1Z"/><path d="M880.8 395.9C882.7 396 887.7 397.8 891.2 398.8C894.7 399.8 898.9 401.5 901.6 401.9C904.3 402.3 905.2 401.1 907.4 401.1C909.7 401.1 912.6 401.1 915.1 401.8C917.5 402.6 920.2 404.1 921.9 405.5C923.6 406.8 923.8 408.6 925.2 409.7C926.5 410.8 929 411.4 930.1 412.1C931.2 412.8 931.9 413.6 931.8 414C931.7 414.3 930.7 414.5 929.5 414.3C928.2 414.1 925.9 413 924.2 413C922.5 413 921.4 414.3 919.4 414.3C917.3 414.3 914.3 413.8 911.9 412.9C909.5 412 907 410.2 905.2 408.8C903.3 407.5 903.2 405.9 900.8 404.7C898.3 403.4 893.9 402.4 890.5 401.3C887.1 400.2 881.8 399 880.2 398.1C878.6 397.2 879 395.8 880.8 395.9Z"/><path d="M852.8 398.1C851.2 399 845.9 400.2 842.5 401.3C839.1 402.4 834.7 403.4 832.2 404.7C829.8 405.9 829.7 407.5 827.8 408.8C826 410.2 823.5 412 821.1 412.9C818.7 413.8 815.7 414.3 813.6 414.3C811.6 414.3 810.5 413 808.8 413C807.1 413 804.8 414.1 803.5 414.3C802.3 414.5 801.3 414.3 801.2 414C801.1 413.6 801.8 412.8 802.9 412.1C804 411.4 806.5 410.8 807.8 409.7C809.2 408.6 809.4 406.8 811.1 405.5C812.8 404.1 815.5 402.6 817.9 401.8C820.4 401.1 823.3 401.1 825.6 401.1C827.8 401.1 828.7 402.3 831.4 401.9C834.1 401.5 838.3 399.8 841.8 398.8C845.3 397.8 850.3 396 852.2 395.9C854 395.8 854.4 397.2 852.8 398.1Z"/><path d="M881 396C882.6 396.5 886.5 399.1 889.2 400.7C892 402.2 895.2 404.5 897.4 405.3C899.6 406.2 900.7 405.2 902.7 405.6C904.6 406 907.2 406.5 909.1 407.6C911 408.7 913 410.6 914.2 412C915.3 413.5 915.1 415.2 916 416.4C916.9 417.6 918.9 418.5 919.7 419.4C920.5 420.2 920.9 421 920.7 421.3C920.5 421.6 919.7 421.6 918.6 421.3C917.5 420.9 915.8 419.5 914.3 419.2C912.9 419 911.5 420 909.8 419.6C908 419.3 905.4 418.4 903.6 417.1C901.8 415.9 900.1 413.9 898.8 412.3C897.5 410.7 897.8 409.3 896 407.7C894.2 406.1 890.7 404.4 888 402.8C885.3 401.2 881.1 399.1 880 398C878.8 396.8 879.5 395.6 881 396Z"/><path d="M853 398C851.9 399.1 847.7 401.2 845 402.8C842.3 404.4 838.8 406.1 837 407.7C835.2 409.3 835.5 410.7 834.2 412.3C832.9 413.9 831.2 415.9 829.4 417.1C827.6 418.4 825 419.3 823.2 419.6C821.5 420 820.1 419 818.7 419.2C817.2 419.5 815.5 420.9 814.4 421.3C813.3 421.6 812.5 421.6 812.3 421.3C812.1 421 812.5 420.2 813.3 419.4C814.1 418.5 816.1 417.6 817 416.4C817.9 415.2 817.7 413.5 818.8 412C820 410.6 822 408.7 823.9 407.6C825.8 406.5 828.4 406 830.3 405.6C832.3 405.2 833.4 406.2 835.6 405.3C837.8 404.5 841 402.2 843.8 400.7C846.5 399.1 850.4 396.5 852 396C853.5 395.6 854.2 396.8 853 398Z"/><path d="M878.6 396.5C878 395.9 878.7 395 878.6 393.8C878.4 392.6 877.6 390.9 877.6 389.2C877.6 387.4 878.1 385.1 878.7 383.4C879.3 381.6 880.3 379.9 881 378.8C881.7 377.7 882.6 377.6 882.9 376.7C883.2 375.8 882.6 374.4 882.8 373.2C882.9 371.9 883.2 370.2 883.8 369.1C884.4 368 885.6 367.1 886.4 366.4C887.3 365.6 888.2 365.8 888.9 364.5C889.6 363.1 890.3 359.8 890.8 358.4C891.3 357.1 891.8 356.6 892.1 356.6C892.3 356.7 892.4 357.5 892.2 358.8C891.9 360.2 890.7 363.4 890.6 364.9C890.5 366.5 891.4 366.8 891.7 367.9C892 369 892.6 370.3 892.5 371.6C892.4 372.9 891.8 374.4 891.2 375.6C890.7 376.8 889.5 377.6 889.2 378.5C889 379.5 889.7 380 889.7 381.3C889.7 382.6 889.7 384.6 889.3 386.4C888.8 388.2 888 390.4 887.1 391.9C886.2 393.4 884.6 394.4 883.8 395.3C883 396.3 883.2 397.3 882.4 397.5C881.5 397.7 879.3 397.1 878.6 396.5Z"/><path d="M850.6 397.5C849.8 397.3 850 396.3 849.2 395.3C848.4 394.4 846.8 393.4 845.9 391.9C845 390.4 844.2 388.2 843.7 386.4C843.3 384.6 843.3 382.6 843.3 381.3C843.3 380 844 379.5 843.8 378.5C843.5 377.6 842.3 376.8 841.8 375.6C841.2 374.4 840.6 372.9 840.5 371.6C840.4 370.3 841 369 841.3 367.9C841.6 366.8 842.5 366.5 842.4 364.9C842.3 363.4 841.1 360.2 840.8 358.8C840.6 357.5 840.7 356.7 840.9 356.6C841.2 356.6 841.7 357.1 842.2 358.4C842.7 359.8 843.4 363.1 844.1 364.5C844.8 365.8 845.7 365.6 846.6 366.4C847.4 367.1 848.6 368 849.2 369.1C849.8 370.2 850.1 371.9 850.2 373.2C850.4 374.4 849.8 375.8 850.1 376.7C850.4 377.6 851.3 377.7 852 378.8C852.7 379.9 853.7 381.6 854.3 383.4C854.9 385.1 855.4 387.4 855.4 389.2C855.4 390.9 854.6 392.6 854.4 393.8C854.3 395 855 395.9 854.4 396.5C853.7 397.1 851.5 397.7 850.6 397.5Z"/><path d="M878.4 397.4C877.5 397.2 877.8 396.1 877 395C876.2 394 874.6 392.9 873.8 391.2C872.9 389.6 872.2 387.2 871.9 385.3C871.6 383.5 871.7 381.3 871.8 379.9C872 378.6 872.8 378.1 872.6 377.1C872.4 376.1 871.2 375.1 870.7 373.9C870.2 372.7 869.6 371 869.6 369.6C869.7 368.3 870.4 366.9 870.8 365.8C871.2 364.6 872.2 364.4 872.2 362.8C872.3 361.2 871.2 357.7 871 356.3C870.9 354.8 871.1 354 871.4 354C871.6 353.9 872.1 354.5 872.6 356C873 357.4 873.4 360.9 874.1 362.4C874.8 363.8 875.8 363.7 876.7 364.5C877.5 365.4 878.7 366.3 879.3 367.6C879.8 368.8 880 370.6 880.1 371.9C880.1 373.2 879.4 374.6 879.6 375.6C879.9 376.6 880.8 376.7 881.5 377.9C882.1 379.1 883.1 381 883.6 382.8C884.1 384.7 884.4 387.2 884.3 389C884.2 390.8 883.2 392.5 882.9 393.8C882.6 395.1 883.3 396 882.6 396.6C881.8 397.2 879.4 397.7 878.4 397.4Z"/><path d="M850.4 396.6C849.7 396 850.4 395.1 850.1 393.8C849.8 392.5 848.8 390.8 848.7 389C848.6 387.2 848.9 384.7 849.4 382.8C849.9 381 850.9 379.1 851.5 377.9C852.2 376.7 853.1 376.6 853.4 375.6C853.6 374.6 852.9 373.2 852.9 371.9C853 370.6 853.2 368.8 853.7 367.6C854.3 366.3 855.5 365.4 856.3 364.5C857.2 363.7 858.2 363.8 858.9 362.4C859.6 360.9 860 357.4 860.4 356C860.9 354.5 861.4 353.9 861.6 354C861.9 354 862.1 354.8 862 356.3C861.8 357.7 860.7 361.2 860.8 362.8C860.8 364.4 861.8 364.6 862.2 365.8C862.6 366.9 863.3 368.3 863.4 369.6C863.4 371 862.8 372.7 862.3 373.9C861.8 375.1 860.6 376.1 860.4 377.1C860.2 378.1 861 378.6 861.2 379.9C861.3 381.3 861.4 383.5 861.1 385.3C860.8 387.2 860.1 389.6 859.2 391.2C858.4 392.9 856.8 394 856 395C855.2 396.1 855.5 397.2 854.6 397.4C853.6 397.7 851.2 397.2 850.4 396.6Z"/><path d="M878.3 396.9C877.4 396.4 878 395.4 877.5 394.1C876.9 392.9 875.6 391.3 875.1 389.4C874.7 387.6 874.6 385 874.7 383C874.9 381 875.6 378.9 876.1 377.5C876.5 376.1 877.5 375.9 877.5 374.8C877.6 373.7 876.6 372.5 876.4 371.1C876.2 369.7 876.1 367.8 876.4 366.5C876.8 365.1 877.8 363.9 878.6 362.9C879.3 361.8 880.3 361.8 880.8 360.2C881.2 358.6 881 354.8 881.2 353.3C881.4 351.8 881.8 351 882.1 351C882.4 351 882.7 351.8 882.8 353.4C883 354.9 882.5 358.6 882.8 360.3C883.1 361.9 884.2 362 884.8 363.1C885.5 364.2 886.4 365.4 886.7 366.8C886.9 368.2 886.7 370.1 886.4 371.4C886.1 372.8 885 374 885 375.1C885 376.1 885.9 376.5 886.3 377.9C886.7 379.3 887.2 381.4 887.2 383.4C887.2 385.4 887 388 886.4 389.8C885.8 391.7 884.3 393.1 883.7 394.4C883.1 395.6 883.6 396.6 882.7 397.1C881.8 397.5 879.2 397.4 878.3 396.9Z"/><path d="M850.3 397.1C849.4 396.6 849.9 395.6 849.3 394.4C848.7 393.1 847.2 391.7 846.6 389.8C846 388 845.8 385.4 845.8 383.4C845.8 381.4 846.3 379.3 846.7 377.9C847.1 376.5 848 376.1 848 375.1C848 374 846.9 372.8 846.6 371.4C846.3 370.1 846.1 368.2 846.3 366.8C846.6 365.4 847.5 364.2 848.2 363.1C848.8 362 849.9 361.9 850.2 360.3C850.5 358.6 850 354.9 850.2 353.4C850.3 351.8 850.6 351 850.9 351C851.2 351 851.6 351.8 851.8 353.3C852 354.8 851.8 358.6 852.2 360.2C852.7 361.8 853.7 361.8 854.4 362.9C855.2 363.9 856.2 365.1 856.6 366.5C856.9 367.8 856.8 369.7 856.6 371.1C856.4 372.5 855.4 373.7 855.5 374.8C855.5 375.9 856.5 376.1 856.9 377.5C857.4 378.9 858.1 381 858.3 383C858.4 385 858.3 387.6 857.9 389.4C857.4 391.3 856.1 392.9 855.5 394.1C855 395.4 855.6 396.4 854.7 396.9C853.8 397.4 851.2 397.5 850.3 397.1Z"/></g>
<path d="M851.5 398C853.5 405.4 860.5 410.4 864.58 413.6V420H860.5V422H868.9L874.3 423L872.5 420.4L868.42 420V413.6C872.5 410.4 879.5 405.4 881.5 398L876.66 397.5C874.5 404.2 870.1 405.8 866.5 407.6C862.9 405.8 858.5 404.2 856.34 397.5Z" fill="#fff" stroke="#000" stroke-width="0.8" stroke-linejoin="round"/>
<path d="M850.3 395.2L855.1 398.8M850.1 398.2L854.7 395.6M877.9 398.8L882.7 395.2M878.3 395.6L882.9 398.2" stroke="#000" stroke-width="1.2" fill="none"/>
<defs><filter id="b04" x="-20%" y="-20%" width="140%" height="140%"><feGaussianBlur stdDeviation="0.45"/></filter><filter id="b06" x="-20%" y="-20%" width="140%" height="140%"><feGaussianBlur stdDeviation="0.65"/></filter><filter id="b2" x="-30%" y="-30%" width="160%" height="160%"><feGaussianBlur stdDeviation="2.4"/></filter><clipPath id="ch3c"><rect x="648.4" y="520.2" width="97.2" height="96.6"/></clipPath><clipPath id="ch3r"><rect x="661" y="617.8" width="83" height="80.2"/></clipPath><clipPath id="ch5"><rect x="747.8" y="520.2" width="99" height="184.2"/></clipPath><clipPath id="chl"><rect x="702" y="796" width="99.4" height="196.8"/></clipPath></defs>
<text x="553" y="503.8" font-size="15.5" text-anchor="start" fill="#000" font-weight="bold">h</text>
<rect x="573.2" y="520.2" width="273.6" height="184.2" fill="#0A0A0C"/>
<rect x="747.8" y="520.2" width="99" height="184.2" fill="#020203"/>
<rect x="648.4" y="520.2" width="97.2" height="96.6" fill="#0B0B10"/>
<rect x="661" y="617.8" width="83" height="80.2" fill="#07080B"/>
<rect x="582" y="541" width="61.2" height="61.4" fill="#171C17"/>
<rect x="582" y="632.4" width="61.2" height="60.4" fill="#09110F"/>
<g fill="#8899aa" opacity="0.6"><circle cx="680.4" cy="536" r="0.4"/><circle cx="656.8" cy="571.8" r="0.3"/><circle cx="655.5" cy="569.2" r="0.2"/><circle cx="690.8" cy="528.5" r="0.2"/><circle cx="689.9" cy="598.9" r="0.2"/><circle cx="671" cy="580.4" r="0.4"/><circle cx="704.2" cy="558.9" r="0.4"/><circle cx="654.4" cy="601.8" r="0.3"/><circle cx="663.6" cy="533" r="0.3"/><circle cx="726.7" cy="538.8" r="0.3"/><circle cx="710.1" cy="556.6" r="0.3"/><circle cx="655.9" cy="527.5" r="0.3"/><circle cx="714" cy="561.8" r="0.3"/><circle cx="705" cy="564.1" r="0.3"/><circle cx="724.7" cy="587" r="0.3"/><circle cx="704" cy="570.8" r="0.4"/><circle cx="718.6" cy="548.8" r="0.4"/><circle cx="661.1" cy="560.9" r="0.4"/><circle cx="664.3" cy="567.5" r="0.2"/><circle cx="712.8" cy="593.1" r="0.3"/><circle cx="732.3" cy="551.2" r="0.4"/><circle cx="705.9" cy="575.9" r="0.3"/><circle cx="729" cy="609.9" r="0.3"/><circle cx="712.4" cy="527.6" r="0.4"/><circle cx="710.8" cy="614.4" r="0.4"/><circle cx="676.8" cy="557.9" r="0.4"/><circle cx="652.1" cy="564.9" r="0.2"/><circle cx="661" cy="527.5" r="0.4"/><circle cx="662.2" cy="545" r="0.3"/><circle cx="731.9" cy="529.5" r="0.3"/><circle cx="701.6" cy="604.2" r="0.4"/><circle cx="731.2" cy="547.9" r="0.3"/><circle cx="683.7" cy="604.2" r="0.4"/><circle cx="664.2" cy="538.4" r="0.3"/><circle cx="671.9" cy="567.1" r="0.3"/><circle cx="674.7" cy="522.4" r="0.3"/><circle cx="684.7" cy="574.7" r="0.4"/><circle cx="714.9" cy="569.9" r="0.4"/><circle cx="713.6" cy="527" r="0.4"/><circle cx="723.3" cy="603.3" r="0.4"/></g>
<g fill="#8899aa" opacity="0.6"><circle cx="693.8" cy="650.1" r="0.2"/><circle cx="713.4" cy="623.9" r="0.2"/><circle cx="678.9" cy="631.7" r="0.3"/><circle cx="666.3" cy="619" r="0.2"/><circle cx="670.2" cy="647.4" r="0.2"/><circle cx="732.8" cy="666.9" r="0.2"/><circle cx="682.4" cy="646.1" r="0.3"/><circle cx="672" cy="685.2" r="0.4"/><circle cx="699.7" cy="656.7" r="0.2"/><circle cx="670.3" cy="645.7" r="0.3"/><circle cx="729.1" cy="631.6" r="0.2"/><circle cx="739" cy="660.2" r="0.2"/><circle cx="706" cy="621.1" r="0.3"/><circle cx="741.3" cy="686.3" r="0.4"/><circle cx="683.2" cy="647.6" r="0.2"/><circle cx="724.5" cy="660.5" r="0.4"/><circle cx="688.7" cy="636.4" r="0.4"/><circle cx="741.8" cy="685.5" r="0.4"/><circle cx="728.3" cy="676.7" r="0.3"/><circle cx="703.9" cy="646.7" r="0.2"/><circle cx="664.3" cy="640.8" r="0.3"/><circle cx="718.1" cy="693.6" r="0.3"/><circle cx="737.9" cy="696.1" r="0.4"/><circle cx="691.5" cy="636.2" r="0.3"/><circle cx="677.9" cy="634.9" r="0.4"/><circle cx="734.9" cy="684.6" r="0.3"/><circle cx="714.9" cy="681.4" r="0.2"/><circle cx="715.5" cy="690" r="0.4"/><circle cx="722.8" cy="656.3" r="0.2"/><circle cx="725.9" cy="644.9" r="0.4"/><circle cx="740.7" cy="649.9" r="0.3"/><circle cx="738.7" cy="675.5" r="0.2"/><circle cx="672.3" cy="630.8" r="0.4"/><circle cx="727.3" cy="630.4" r="0.4"/><circle cx="741.4" cy="670.3" r="0.3"/><circle cx="706.4" cy="629.2" r="0.2"/><circle cx="740.6" cy="669.7" r="0.3"/><circle cx="737.6" cy="652.8" r="0.4"/><circle cx="728.9" cy="635.5" r="0.3"/><circle cx="685.7" cy="637.8" r="0.3"/></g>
<g fill="#7f8f9f" opacity="0.5"><circle cx="773.9" cy="597.8" r="0.2"/><circle cx="836.4" cy="586" r="0.3"/><circle cx="805" cy="685.7" r="0.3"/><circle cx="837.1" cy="612.8" r="0.3"/><circle cx="799.3" cy="525.4" r="0.3"/><circle cx="766.6" cy="522.7" r="0.4"/><circle cx="765.5" cy="607.7" r="0.4"/><circle cx="802.4" cy="581" r="0.3"/><circle cx="802.3" cy="664" r="0.2"/><circle cx="802.8" cy="567" r="0.3"/><circle cx="823.1" cy="613.9" r="0.3"/><circle cx="822" cy="687.2" r="0.3"/><circle cx="807.8" cy="613.5" r="0.3"/><circle cx="815.5" cy="603.9" r="0.3"/><circle cx="794.9" cy="692.4" r="0.4"/><circle cx="833.1" cy="692.5" r="0.3"/><circle cx="802.7" cy="692.7" r="0.4"/><circle cx="762.2" cy="544" r="0.3"/><circle cx="756" cy="565.6" r="0.2"/><circle cx="813.3" cy="663.9" r="0.4"/><circle cx="763.8" cy="651.6" r="0.4"/><circle cx="762.7" cy="681.8" r="0.4"/><circle cx="770.1" cy="694.4" r="0.3"/><circle cx="795.8" cy="701.2" r="0.4"/><circle cx="764.5" cy="600.1" r="0.3"/><circle cx="781.6" cy="557.4" r="0.3"/><circle cx="818.3" cy="525.5" r="0.3"/><circle cx="791.3" cy="525.3" r="0.3"/><circle cx="808.9" cy="614.7" r="0.2"/><circle cx="843.6" cy="664.7" r="0.4"/><circle cx="759.1" cy="570.1" r="0.2"/><circle cx="823.8" cy="571" r="0.2"/><circle cx="789.5" cy="687" r="0.4"/><circle cx="773.8" cy="549" r="0.4"/><circle cx="803.8" cy="648.8" r="0.2"/><circle cx="754.5" cy="646.6" r="0.3"/><circle cx="756" cy="691.8" r="0.4"/><circle cx="826" cy="537.2" r="0.4"/><circle cx="755.4" cy="678.2" r="0.3"/><circle cx="781.6" cy="622.1" r="0.4"/><circle cx="774.7" cy="545.4" r="0.3"/><circle cx="771.9" cy="541.8" r="0.2"/><circle cx="753.8" cy="558.5" r="0.3"/><circle cx="778.3" cy="659.5" r="0.3"/><circle cx="797" cy="554.2" r="0.3"/><circle cx="750.7" cy="567.3" r="0.2"/><circle cx="819.4" cy="621.7" r="0.2"/><circle cx="794.6" cy="691.2" r="0.2"/><circle cx="827.6" cy="600.2" r="0.3"/><circle cx="829.1" cy="593.1" r="0.3"/><circle cx="815" cy="699.8" r="0.3"/><circle cx="828.9" cy="649.9" r="0.4"/><circle cx="787.9" cy="584.9" r="0.2"/><circle cx="761.5" cy="534.8" r="0.4"/><circle cx="773.5" cy="551.5" r="0.2"/><circle cx="829.8" cy="679.6" r="0.4"/><circle cx="776.1" cy="565.8" r="0.3"/><circle cx="793.1" cy="550.5" r="0.3"/><circle cx="774.3" cy="696.1" r="0.4"/><circle cx="801.5" cy="566.2" r="0.4"/><circle cx="778.7" cy="586.5" r="0.2"/><circle cx="785.6" cy="607.9" r="0.3"/><circle cx="768.3" cy="613.4" r="0.2"/><circle cx="774.4" cy="538.2" r="0.3"/><circle cx="753" cy="526.1" r="0.3"/><circle cx="771.3" cy="628" r="0.3"/><circle cx="821.1" cy="641" r="0.4"/><circle cx="833.4" cy="592.5" r="0.3"/><circle cx="843.5" cy="549.1" r="0.4"/><circle cx="810.7" cy="529.9" r="0.4"/></g>
<g filter="url(#b04)" fill="none" stroke-linecap="round">
<path d="M584 560L590 563L612 562L628 564L638 567M590 563L586 558M590 563L589 569L596 577L606 583L613 598M600 583L597 600M606 583L611 571L615 552L618 545M611 571L607 556M612 562L617 556L621 547M628 564L632 552M628 564L634 555M606 583L620 587L628 588M596 577L600 569M613 583L615 572M594 591L601 585M614 568L620 572" stroke="#6F9C9E" stroke-width="1.05" opacity="0.85"/>
<path d="M612 562L620 561M610 568L613 556M606 581L609 574" stroke="#C8D890" stroke-width="0.8" opacity="0.7"/>
<path d="M586 558L592 562" stroke="#A9D2D6" stroke-width="2.2" opacity="0.75"/>
</g>
<path d="M635 592H637.6" stroke="#ddd" stroke-width="0.6"/>
<g filter="url(#b04)" fill="none" stroke-linecap="round">
<path d="M589 653L594 652L603 649L612 648L620 645M594 652L590 658M596 648L592 642M600 650L598 643L601 640M604 649L604 641M608 648L610 640M612 648L615 641M597 653L600 660L603 668L604 678M612 650L611 660L608 670L605 678M594 657L598 663M616 647L619 652" stroke="#79B6BA" stroke-width="1.5" opacity="0.85"/>
<path d="M596 652L604 650L612 649" stroke="#DCE68C" stroke-width="1" opacity="0.8"/>
<path d="M603 679L606 686" stroke="#C5ECF6" stroke-width="4" opacity="0.95"/>
<path d="M622 643C626 640 628 644 626 648C628 652 632 651 633 653" stroke="#A9A39C" stroke-width="3" opacity="0.7"/>
</g>
<path d="M627.8 685.6H640.8" stroke="#fff" stroke-width="0.8"/><path d="M631.3 684H637.3" stroke="#ddd" stroke-width="0.6" stroke-dasharray="1.2 0.8"/>
<g clip-path="url(#ch3c)">
<g filter="url(#b2)"><ellipse cx="696" cy="552" rx="38" ry="20" fill="#9A9AB6" opacity="0.7"/><ellipse cx="668" cy="567" rx="15" ry="16" fill="#9A9AB6" opacity="0.65"/></g>
<g filter="url(#b06)" fill="none" stroke-linecap="round">
<g opacity="1.0" stroke-linejoin="round"><path d="M655.4 542.7 657 540.3 659.6 538.8 662.8 538.5 666.1 539.5 669 541.6 671 544.4 671.6 547.5" stroke="#50506A" stroke-width="4.8"/><path d="M655.4 542.7 657 540.3 659.6 538.8 662.8 538.5 666.1 539.5 669 541.6 671 544.4 671.6 547.5" stroke="#D6D6EA" stroke-width="3.5"/><path d="M694.9 540 697.3 538.7 699.9 538 702.4 538.1 704.8 539 706.9 540.5 708.3 542.6 709.1 545.1" stroke="#50506A" stroke-width="4.8"/><path d="M694.9 540 697.3 538.7 699.9 538 702.4 538.1 704.8 539 706.9 540.5 708.3 542.6 709.1 545.1" stroke="#D6D6EA" stroke-width="3.5"/><path d="M729.7 541.5 730.7 544.4 731.2 547.8 731 551.4 730.3 554.9 729 557.9 727.3 560.2 725.4 561.5" stroke="#50506A" stroke-width="4.8"/><path d="M729.7 541.5 730.7 544.4 731.2 547.8 731 551.4 730.3 554.9 729 557.9 727.3 560.2 725.4 561.5" stroke="#D6D6EA" stroke-width="3.5"/><path d="M696.3 549.6 698.8 549.7 701.2 550.8 702.9 552.8 703.9 555.3 703.8 558.1 702.8 560.6 701 562.6" stroke="#50506A" stroke-width="4.8"/><path d="M696.3 549.6 698.8 549.7 701.2 550.8 702.9 552.8 703.9 555.3 703.8 558.1 702.8 560.6 701 562.6" stroke="#BEBED6" stroke-width="3.5"/><path d="M680.9 533.3 685.9 533.1 690.2 535.5 692.6 539.8 692.3 544.7 689.5 548.8 684.9 550.8 680.1 550" stroke="#50506A" stroke-width="4.8"/><path d="M680.9 533.3 685.9 533.1 690.2 535.5 692.6 539.8 692.3 544.7 689.5 548.8 684.9 550.8 680.1 550" stroke="#BEBED6" stroke-width="3.5"/><path d="M692.2 564.9 693.3 561.9 695.9 559.3 699.4 557.8 702.9 557.7 705.7 559 707 561.4 706.7 564.4" stroke="#50506A" stroke-width="4.8"/><path d="M692.2 564.9 693.3 561.9 695.9 559.3 699.4 557.8 702.9 557.7 705.7 559 707 561.4 706.7 564.4" stroke="#D6D6EA" stroke-width="3.5"/><path d="M694 544.2 700.1 543.9 705.6 546 708.8 549.9 708.8 554.6 705.8 558.8 700.5 561.2 694.3 561.4" stroke="#50506A" stroke-width="4.8"/><path d="M694 544.2 700.1 543.9 705.6 546 708.8 549.9 708.8 554.6 705.8 558.8 700.5 561.2 694.3 561.4" stroke="#D6D6EA" stroke-width="3.5"/><path d="M673.3 534.7 675.1 534.8 676.7 535.3 678 536.1 679 537.1 679.4 538.3 679.4 539.6 678.8 540.9" stroke="#50506A" stroke-width="4.8"/><path d="M673.3 534.7 675.1 534.8 676.7 535.3 678 536.1 679 537.1 679.4 538.3 679.4 539.6 678.8 540.9" stroke="#BEBED6" stroke-width="3.5"/><path d="M694.6 565.6 693.3 563.4 693 560.3 693.7 557.1 695.2 554.5 697.3 553.2 699.4 553.5 700.9 555.3" stroke="#50506A" stroke-width="4.8"/><path d="M694.6 565.6 693.3 563.4 693 560.3 693.7 557.1 695.2 554.5 697.3 553.2 699.4 553.5 700.9 555.3" stroke="#D6D6EA" stroke-width="3.5"/><path d="M694.5 539.5 696.4 540 698.2 541 699.8 542.3 701 544 701.7 545.7 701.9 547.5 701.5 549" stroke="#50506A" stroke-width="4.8"/><path d="M694.5 539.5 696.4 540 698.2 541 699.8 542.3 701 544 701.7 545.7 701.9 547.5 701.5 549" stroke="#D6D6EA" stroke-width="3.5"/><path d="M697.9 553.2 695.1 552 693.1 550 692.1 547.4 692.3 544.5 693.6 541.6 696 538.9 699 536.7" stroke="#50506A" stroke-width="4.8"/><path d="M697.9 553.2 695.1 552 693.1 550 692.1 547.4 692.3 544.5 693.6 541.6 696 538.9 699 536.7" stroke="#BEBED6" stroke-width="3.5"/><path d="M711.3 554.8 709.9 552 709.9 549.2 711 547.2 713.1 546.4 715.7 547 718.2 548.8 719.9 551.5" stroke="#50506A" stroke-width="4.8"/><path d="M711.3 554.8 709.9 552 709.9 549.2 711 547.2 713.1 546.4 715.7 547 718.2 548.8 719.9 551.5" stroke="#D6D6EA" stroke-width="3.5"/><path d="M685.7 550 684.1 551.4 682 552.4 679.6 552.7 677.3 552.4 675.4 551.4 674.1 550 673.6 548.2" stroke="#50506A" stroke-width="4.8"/><path d="M685.7 550 684.1 551.4 682 552.4 679.6 552.7 677.3 552.4 675.4 551.4 674.1 550 673.6 548.2" stroke="#D6D6EA" stroke-width="3.5"/><path d="M706.3 555.8 701.9 553.6 699.1 549.5 698.6 544.8 700.6 540.6 704.4 538.2 709.1 538.2 713.4 540.6" stroke="#50506A" stroke-width="4.8"/><path d="M706.3 555.8 701.9 553.6 699.1 549.5 698.6 544.8 700.6 540.6 704.4 538.2 709.1 538.2 713.4 540.6" stroke="#D6D6EA" stroke-width="3.5"/><path d="M716.9 559 712.7 560.4 708.3 559 704.8 555.2 703.3 550.1 704 544.9 706.8 541.1 711 539.7" stroke="#50506A" stroke-width="4.8"/><path d="M716.9 559 712.7 560.4 708.3 559 704.8 555.2 703.3 550.1 704 544.9 706.8 541.1 711 539.7" stroke="#D6D6EA" stroke-width="3.5"/><path d="M721.6 550.5 721.2 552.5 720.2 554.3 718.8 555.7 717 556.6 715 556.7 713.2 556.2 711.7 555" stroke="#50506A" stroke-width="4.8"/><path d="M721.6 550.5 721.2 552.5 720.2 554.3 718.8 555.7 717 556.6 715 556.7 713.2 556.2 711.7 555" stroke="#D6D6EA" stroke-width="3.5"/><path d="M688.7 546.2 689.9 543.5 692.1 541.5 694.8 540.6 697.5 541 699.9 542.5 701.4 544.9 701.7 547.8" stroke="#50506A" stroke-width="4.8"/><path d="M688.7 546.2 689.9 543.5 692.1 541.5 694.8 540.6 697.5 541 699.9 542.5 701.4 544.9 701.7 547.8" stroke="#D6D6EA" stroke-width="3.5"/><path d="M693.6 560 690.5 557.1 688.4 553.9 687.9 550.9 689 548.5 691.4 547.1 694.9 546.9 698.9 548" stroke="#50506A" stroke-width="4.8"/><path d="M693.6 560 690.5 557.1 688.4 553.9 687.9 550.9 689 548.5 691.4 547.1 694.9 546.9 698.9 548" stroke="#D6D6EA" stroke-width="3.5"/><path d="M712.1 570.3 707.7 569.7 704.5 566.7 703.6 562.1 705.2 557.3 708.9 553.7 713.4 552.4 717.6 553.8" stroke="#50506A" stroke-width="4.8"/><path d="M712.1 570.3 707.7 569.7 704.5 566.7 703.6 562.1 705.2 557.3 708.9 553.7 713.4 552.4 717.6 553.8" stroke="#D6D6EA" stroke-width="3.5"/><path d="M708.1 550.4 709 553.4 708.3 556.5 706.3 558.9 703.5 560.2 700.3 560.1 697.5 558.6 695.7 556" stroke="#50506A" stroke-width="4.8"/><path d="M708.1 550.4 709 553.4 708.3 556.5 706.3 558.9 703.5 560.2 700.3 560.1 697.5 558.6 695.7 556" stroke="#BEBED6" stroke-width="3.5"/><path d="M688.4 548.7 687.2 547.1 686.6 545.1 686.5 542.9 687.1 540.7 688.2 538.5 689.9 536.7 691.8 535.2" stroke="#50506A" stroke-width="4.8"/><path d="M688.4 548.7 687.2 547.1 686.6 545.1 686.5 542.9 687.1 540.7 688.2 538.5 689.9 536.7 691.8 535.2" stroke="#BEBED6" stroke-width="3.5"/><path d="M680.6 544.6 678.5 542.1 677.5 539 677.9 535.8 679.6 532.7 682.3 530.3 685.7 528.8 689.4 528.5" stroke="#50506A" stroke-width="4.8"/><path d="M680.6 544.6 678.5 542.1 677.5 539 677.9 535.8 679.6 532.7 682.3 530.3 685.7 528.8 689.4 528.5" stroke="#BEBED6" stroke-width="3.5"/><path d="M710.4 528.5 711.9 531.4 712.1 534.9 711.2 538.6 709.2 541.5 706.5 543.3 703.8 543.5 701.4 542" stroke="#50506A" stroke-width="4.8"/><path d="M710.4 528.5 711.9 531.4 712.1 534.9 711.2 538.6 709.2 541.5 706.5 543.3 703.8 543.5 701.4 542" stroke="#BEBED6" stroke-width="3.5"/><path d="M671 542.2 668.6 542 666.8 540.6 666.2 538.3 666.8 535.6 668.6 533.1 671 531.4 673.6 530.8" stroke="#50506A" stroke-width="4.8"/><path d="M671 542.2 668.6 542 666.8 540.6 666.2 538.3 666.8 535.6 668.6 533.1 671 531.4 673.6 530.8" stroke="#D6D6EA" stroke-width="3.5"/><path d="M709.8 547.8 709.7 550 709.1 552.2 708.1 554.1 706.6 555.5 704.9 556.4 703.1 556.8 701.2 556.5" stroke="#50506A" stroke-width="4.8"/><path d="M709.8 547.8 709.7 550 709.1 552.2 708.1 554.1 706.6 555.5 704.9 556.4 703.1 556.8 701.2 556.5" stroke="#D6D6EA" stroke-width="3.5"/><path d="M675.9 558.9 675.2 560.9 673.6 561.9 671.5 562.1 669.1 561.2 666.6 559.5 664.3 557.1 662.5 554.3" stroke="#50506A" stroke-width="4.8"/><path d="M675.9 558.9 675.2 560.9 673.6 561.9 671.5 562.1 669.1 561.2 666.6 559.5 664.3 557.1 662.5 554.3" stroke="#BEBED6" stroke-width="3.5"/><path d="M717.9 564.1 720 565.8 721.4 568.2 721.9 571 721.2 573.6 719.7 575.8 717.4 577.1 714.7 577.5" stroke="#50506A" stroke-width="4.8"/><path d="M717.9 564.1 720 565.8 721.4 568.2 721.9 571 721.2 573.6 719.7 575.8 717.4 577.1 714.7 577.5" stroke="#BEBED6" stroke-width="3.5"/><path d="M666.3 567.5 663.6 567.9 661.3 566.3 660.1 563.3 660.3 559.7 661.8 556.4 664.3 554.3 667 553.9" stroke="#50506A" stroke-width="4.8"/><path d="M666.3 567.5 663.6 567.9 661.3 566.3 660.1 563.3 660.3 559.7 661.8 556.4 664.3 554.3 667 553.9" stroke="#D6D6EA" stroke-width="3.5"/><path d="M667.8 553 667.4 556.1 665.6 558.6 662.8 560 659.7 560 656.9 558.5 655 556 654.4 552.9" stroke="#50506A" stroke-width="4.8"/><path d="M667.8 553 667.4 556.1 665.6 558.6 662.8 560 659.7 560 656.9 558.5 655 556 654.4 552.9" stroke="#D6D6EA" stroke-width="3.5"/><path d="M687.3 557.6 689 555.1 691.7 553.9 694.9 554.2 698 556.1 700.4 559.1 701.6 562.7 701.3 566.1" stroke="#50506A" stroke-width="4.8"/><path d="M687.3 557.6 689 555.1 691.7 553.9 694.9 554.2 698 556.1 700.4 559.1 701.6 562.7 701.3 566.1" stroke="#BEBED6" stroke-width="3.5"/><path d="M679.7 562.8 678.9 558.8 680.4 553.6 683.9 548.6 688.5 545.1 692.9 544.1 695.9 545.8 696.9 549.7" stroke="#50506A" stroke-width="4.8"/><path d="M679.7 562.8 678.9 558.8 680.4 553.6 683.9 548.6 688.5 545.1 692.9 544.1 695.9 545.8 696.9 549.7" stroke="#D6D6EA" stroke-width="3.5"/><path d="M692.2 550.1 694.1 548 696.6 546.2 699.4 545.1 702 544.8 704.1 545.3 705.3 546.6 705.4 548.4" stroke="#50506A" stroke-width="4.8"/><path d="M692.2 550.1 694.1 548 696.6 546.2 699.4 545.1 702 544.8 704.1 545.3 705.3 546.6 705.4 548.4" stroke="#D6D6EA" stroke-width="3.5"/><path d="M731 552.6 732.7 554.5 733.3 557.1 732.5 559.8 730.7 562.1 728.1 563.6 725.2 564 722.6 563.2" stroke="#50506A" stroke-width="4.8"/><path d="M731 552.6 732.7 554.5 733.3 557.1 732.5 559.8 730.7 562.1 728.1 563.6 725.2 564 722.6 563.2" stroke="#BEBED6" stroke-width="3.5"/><path d="M696.7 564.1 697.8 561.8 699.3 559.7 701.2 557.9 703.4 556.7 705.6 555.9 707.9 555.8 709.9 556.4" stroke="#50506A" stroke-width="4.8"/><path d="M696.7 564.1 697.8 561.8 699.3 559.7 701.2 557.9 703.4 556.7 705.6 555.9 707.9 555.8 709.9 556.4" stroke="#D6D6EA" stroke-width="3.5"/><path d="M677.1 559.7 680.2 559.8 682.9 561.4 684.9 564.1 685.7 567.3 685.2 570.5 683.4 573.1 680.8 574.5" stroke="#50506A" stroke-width="4.8"/><path d="M677.1 559.7 680.2 559.8 682.9 561.4 684.9 564.1 685.7 567.3 685.2 570.5 683.4 573.1 680.8 574.5" stroke="#BEBED6" stroke-width="3.5"/><path d="M734.7 563.1 733.4 566.3 731.6 569 729.2 571.1 726.6 572.4 723.9 572.8 721.4 572.1 719.4 570.6" stroke="#50506A" stroke-width="4.8"/><path d="M734.7 563.1 733.4 566.3 731.6 569 729.2 571.1 726.6 572.4 723.9 572.8 721.4 572.1 719.4 570.6" stroke="#BEBED6" stroke-width="3.5"/><path d="M668.9 550 665.6 552.5 662 552.9 659.2 551.1 658 547.6 658.6 543.4 661 539.7 664.4 537.5" stroke="#50506A" stroke-width="4.8"/><path d="M668.9 550 665.6 552.5 662 552.9 659.2 551.1 658 547.6 658.6 543.4 661 539.7 664.4 537.5" stroke="#D6D6EA" stroke-width="3.5"/><path d="M711.8 549.2 708.5 549.6 705.2 548.9 702.4 547.3 700.3 544.9 699 542 698.8 538.9 699.6 535.8" stroke="#50506A" stroke-width="4.8"/><path d="M711.8 549.2 708.5 549.6 705.2 548.9 702.4 547.3 700.3 544.9 699 542 698.8 538.9 699.6 535.8" stroke="#BEBED6" stroke-width="3.5"/><path d="M710.8 541.1 711.3 544.6 709.6 547.4 705.9 549.1 701.4 549 697.1 547.2 694.1 544.3 693.3 540.8" stroke="#50506A" stroke-width="4.8"/><path d="M710.8 541.1 711.3 544.6 709.6 547.4 705.9 549.1 701.4 549 697.1 547.2 694.1 544.3 693.3 540.8" stroke="#D6D6EA" stroke-width="3.5"/><path d="M692 544.4 692.1 541.3 694.2 537.8 697.6 534.8 701.7 533.1 705.3 532.9 707.6 534.4 708 537.3" stroke="#50506A" stroke-width="4.8"/><path d="M692 544.4 692.1 541.3 694.2 537.8 697.6 534.8 701.7 533.1 705.3 532.9 707.6 534.4 708 537.3" stroke="#D6D6EA" stroke-width="3.5"/><path d="M693.5 543 695.5 540.5 698.4 538.9 701.5 538.4 704.5 539.1 706.8 540.9 708 543.5 708 546.5" stroke="#50506A" stroke-width="4.8"/><path d="M693.5 543 695.5 540.5 698.4 538.9 701.5 538.4 704.5 539.1 706.8 540.9 708 543.5 708 546.5" stroke="#BEBED6" stroke-width="3.5"/><path d="M665.3 564.6 662 564 658.8 562.4 656 559.9 654 556.8 652.9 553.3 652.8 549.9 653.7 546.9" stroke="#50506A" stroke-width="4.8"/><path d="M665.3 564.6 662 564 658.8 562.4 656 559.9 654 556.8 652.9 553.3 652.8 549.9 653.7 546.9" stroke="#BEBED6" stroke-width="3.5"/><path d="M673 548.6 672.4 551.3 670.7 553.9 668.2 556.1 665.1 557.6 661.9 558.3 658.9 558 656.4 556.8" stroke="#50506A" stroke-width="4.8"/><path d="M673 548.6 672.4 551.3 670.7 553.9 668.2 556.1 665.1 557.6 661.9 558.3 658.9 558 656.4 556.8" stroke="#BEBED6" stroke-width="3.5"/><path d="M721.1 529.4 722.8 530.7 724 533.1 724.3 536 723.8 539.1 722.5 541.6 720.7 543.3 718.7 543.7" stroke="#50506A" stroke-width="4.8"/><path d="M721.1 529.4 722.8 530.7 724 533.1 724.3 536 723.8 539.1 722.5 541.6 720.7 543.3 718.7 543.7" stroke="#D6D6EA" stroke-width="3.5"/><path d="M735.4 547 738.3 548.6 740.4 551.3 741.4 554.7 741.2 558.3 739.8 561.6 737.4 564.2 734.3 565.6" stroke="#50506A" stroke-width="4.8"/><path d="M735.4 547 738.3 548.6 740.4 551.3 741.4 554.7 741.2 558.3 739.8 561.6 737.4 564.2 734.3 565.6" stroke="#D6D6EA" stroke-width="3.5"/><path d="M711.9 555.3 714.7 550.8 719.5 548.6 724.8 549.2 729.2 552.4 731.3 557.4 730.6 562.7 727.2 566.8" stroke="#50506A" stroke-width="4.8"/><path d="M711.9 555.3 714.7 550.8 719.5 548.6 724.8 549.2 729.2 552.4 731.3 557.4 730.6 562.7 727.2 566.8" stroke="#D6D6EA" stroke-width="3.5"/></g>
<g opacity="1.0" stroke-linejoin="round"><path d="M663.9 573.7 663.9 575.7 662.9 577.2 661.1 578.1 658.9 578.1 656.5 577.3 654.3 575.8 652.7 573.9" stroke="#50506A" stroke-width="4.8"/><path d="M663.9 573.7 663.9 575.7 662.9 577.2 661.1 578.1 658.9 578.1 656.5 577.3 654.3 575.8 652.7 573.9" stroke="#BEBED6" stroke-width="3.5"/><path d="M668.4 582.6 667.2 580.6 666.8 578 667.2 575.1 668.4 572.1 670.2 569.3 672.5 567 675.1 565.4" stroke="#50506A" stroke-width="4.8"/><path d="M668.4 582.6 667.2 580.6 666.8 578 667.2 575.1 668.4 572.1 670.2 569.3 672.5 567 675.1 565.4" stroke="#D6D6EA" stroke-width="3.5"/><path d="M669.7 560.3 671.3 562 672.4 563.9 673 566 673 567.9 672.4 569.7 671.2 571.1 669.7 571.9" stroke="#50506A" stroke-width="4.8"/><path d="M669.7 560.3 671.3 562 672.4 563.9 673 566 673 567.9 672.4 569.7 671.2 571.1 669.7 571.9" stroke="#D6D6EA" stroke-width="3.5"/><path d="M654.8 568.6 655.1 566.2 656.7 564.6 659.2 564 662.3 564.6 665.4 566.3 668 568.7 669.6 571.5" stroke="#50506A" stroke-width="4.8"/><path d="M654.8 568.6 655.1 566.2 656.7 564.6 659.2 564 662.3 564.6 665.4 566.3 668 568.7 669.6 571.5" stroke="#BEBED6" stroke-width="3.5"/><path d="M666.5 563.7 665.2 567.6 662.2 571.2 658.3 573.5 654.6 573.8 652 572.2 651.2 568.9 652.3 565" stroke="#50506A" stroke-width="4.8"/><path d="M666.5 563.7 665.2 567.6 662.2 571.2 658.3 573.5 654.6 573.8 652 572.2 651.2 568.9 652.3 565" stroke="#BEBED6" stroke-width="3.5"/><path d="M659.7 581 657.6 578.4 656.4 575.2 656.3 571.8 657.3 568.6 659.2 565.8 661.9 563.8 665.1 562.8" stroke="#50506A" stroke-width="4.8"/><path d="M659.7 581 657.6 578.4 656.4 575.2 656.3 571.8 657.3 568.6 659.2 565.8 661.9 563.8 665.1 562.8" stroke="#D6D6EA" stroke-width="3.5"/><path d="M661.5 562.7 662.6 559.7 665.1 557.1 668.3 555.6 671.4 555.6 673.7 557.1 674.6 559.7 673.8 562.8" stroke="#50506A" stroke-width="4.8"/><path d="M661.5 562.7 662.6 559.7 665.1 557.1 668.3 555.6 671.4 555.6 673.7 557.1 674.6 559.7 673.8 562.8" stroke="#D6D6EA" stroke-width="3.5"/><path d="M665.2 559.5 668.8 558.8 672.3 559.8 675 562.2 676.3 565.5 675.9 569 674 572 670.8 573.8" stroke="#50506A" stroke-width="4.8"/><path d="M665.2 559.5 668.8 558.8 672.3 559.8 675 562.2 676.3 565.5 675.9 569 674 572 670.8 573.8" stroke="#D6D6EA" stroke-width="3.5"/><path d="M667.8 554.3 670.3 554.8 672.8 555.7 674.9 557.1 676.6 558.7 677.5 560.4 677.6 562 676.9 563.4" stroke="#50506A" stroke-width="4.8"/><path d="M667.8 554.3 670.3 554.8 672.8 555.7 674.9 557.1 676.6 558.7 677.5 560.4 677.6 562 676.9 563.4" stroke="#D6D6EA" stroke-width="3.5"/><path d="M653.5 565.8 655.2 563.9 657.4 562.4 659.9 561.3 662.4 560.7 664.7 560.8 666.6 561.6 667.9 562.8" stroke="#50506A" stroke-width="4.8"/><path d="M653.5 565.8 655.2 563.9 657.4 562.4 659.9 561.3 662.4 560.7 664.7 560.8 666.6 561.6 667.9 562.8" stroke="#BEBED6" stroke-width="3.5"/><path d="M678.7 576.6 675.8 578.9 672.1 579.7 668.3 579 664.8 576.7 662.4 573.4 661.3 569.4 661.7 565.4" stroke="#50506A" stroke-width="4.8"/><path d="M678.7 576.6 675.8 578.9 672.1 579.7 668.3 579 664.8 576.7 662.4 573.4 661.3 569.4 661.7 565.4" stroke="#D6D6EA" stroke-width="3.5"/><path d="M667.6 577 664.7 579.3 660.9 580 657.1 578.9 654.1 576.4 652.5 572.8 652.7 569.1 654.6 565.9" stroke="#50506A" stroke-width="4.8"/><path d="M667.6 577 664.7 579.3 660.9 580 657.1 578.9 654.1 576.4 652.5 572.8 652.7 569.1 654.6 565.9" stroke="#D6D6EA" stroke-width="3.5"/><path d="M658.9 567.9 662.2 566 666 564.9 669.6 564.7 672.5 565.5 674.1 567.2 674.3 569.5 672.9 571.9" stroke="#50506A" stroke-width="4.8"/><path d="M658.9 567.9 662.2 566 666 564.9 669.6 564.7 672.5 565.5 674.1 567.2 674.3 569.5 672.9 571.9" stroke="#BEBED6" stroke-width="3.5"/><path d="M682.2 556.8 683.9 559.6 683.8 562.9 682 565.8 678.8 567.9 674.8 568.8 670.8 568.2 667.4 566.4" stroke="#50506A" stroke-width="4.8"/><path d="M682.2 556.8 683.9 559.6 683.8 562.9 682 565.8 678.8 567.9 674.8 568.8 670.8 568.2 667.4 566.4" stroke="#BEBED6" stroke-width="3.5"/><path d="M678.8 567.5 675.4 567.6 672.6 566.2 671.3 563.9 671.7 561.2 673.8 558.6 677 557 680.5 556.6" stroke="#50506A" stroke-width="4.8"/><path d="M678.8 567.5 675.4 567.6 672.6 566.2 671.3 563.9 671.7 561.2 673.8 558.6 677 557 680.5 556.6" stroke="#BEBED6" stroke-width="3.5"/><path d="M663.6 553 665 550.5 667.5 549.8 670.6 550.9 673.5 553.7 675.7 557.6 676.6 561.7 676.1 565" stroke="#50506A" stroke-width="4.8"/><path d="M663.6 553 665 550.5 667.5 549.8 670.6 550.9 673.5 553.7 675.7 557.6 676.6 561.7 676.1 565" stroke="#D6D6EA" stroke-width="3.5"/><path d="M667.9 575.1 668.1 577 667.7 578.9 666.6 580.6 665.1 581.9 663.3 582.6 661.4 582.7 659.6 582.2" stroke="#50506A" stroke-width="4.8"/><path d="M667.9 575.1 668.1 577 667.7 578.9 666.6 580.6 665.1 581.9 663.3 582.6 661.4 582.7 659.6 582.2" stroke="#D6D6EA" stroke-width="3.5"/><path d="M661.9 555.9 666.2 556.5 669.2 559.6 670 564.2 668.1 568.9 664.4 572.3 659.8 573.4 655.8 571.8" stroke="#50506A" stroke-width="4.8"/><path d="M661.9 555.9 666.2 556.5 669.2 559.6 670 564.2 668.1 568.9 664.4 572.3 659.8 573.4 655.8 571.8" stroke="#BEBED6" stroke-width="3.5"/></g>
<path d="M722 566C728 570 734 572 742 572" stroke="#CFCFE6" stroke-width="2.8"/>
<path d="M684 578C688 584 694 588 700 592M706 570C706 578 705 586 706 594" stroke="#7B7B96" stroke-width="1.3"/>
<path d="M688 582L690.5 585.6" stroke="#F4F4FF" stroke-width="3.2"/><path d="M705 577L704.4 582" stroke="#F4F4FF" stroke-width="3"/>
<path d="M703.6 598L706.6 592.6" stroke="#E9A21C" stroke-width="2"/><path d="M695 600L699 596" stroke="#A9A9BC" stroke-width="1.5"/><path d="M696 602L700 603" stroke="#C69030" stroke-width="1"/>
</g></g>
<path d="M728 603.4H740.8" stroke="#fff" stroke-width="0.8"/><path d="M731.4 601.8H737.4" stroke="#ddd" stroke-width="0.6" stroke-dasharray="1.2 0.8"/>
<g clip-path="url(#ch3r)">
<g filter="url(#b2)"><ellipse cx="692" cy="650" rx="21" ry="23" fill="#4A5468" opacity="0.5"/></g>
<g filter="url(#b06)" fill="none" stroke-linecap="round">
<g opacity="0.9" stroke-linejoin="round"><path d="M698.6 628.3 698.7 632.3 697 635.9 693.7 638.3 689.6 639 685.6 637.7 682.7 634.9 681.5 631" stroke="#1C2230" stroke-width="2.4"/><path d="M698.6 628.3 698.7 632.3 697 635.9 693.7 638.3 689.6 639 685.6 637.7 682.7 634.9 681.5 631" stroke="#7F8BA4" stroke-width="1.3"/><path d="M711.8 644.2 711.5 646.1 710.6 647.6 709.2 648.6 707.5 649.1 705.6 649.1 703.5 648.5 701.6 647.3" stroke="#1C2230" stroke-width="2.4"/><path d="M711.8 644.2 711.5 646.1 710.6 647.6 709.2 648.6 707.5 649.1 705.6 649.1 703.5 648.5 701.6 647.3" stroke="#7F8BA4" stroke-width="1.3"/><path d="M682.7 642.4 684.7 640.4 687.2 639.2 689.9 638.9 692.6 639.5 694.9 641 696.5 643.2 697.2 645.8" stroke="#1C2230" stroke-width="2.4"/><path d="M682.7 642.4 684.7 640.4 687.2 639.2 689.9 638.9 692.6 639.5 694.9 641 696.5 643.2 697.2 645.8" stroke="#7F8BA4" stroke-width="1.3"/><path d="M698.1 640.5 697.1 641.6 695.7 642.6 694.2 643.3 692.5 643.8 690.9 644 689.5 643.9 688.4 643.4" stroke="#1C2230" stroke-width="2.4"/><path d="M698.1 640.5 697.1 641.6 695.7 642.6 694.2 643.3 692.5 643.8 690.9 644 689.5 643.9 688.4 643.4" stroke="#7F8BA4" stroke-width="1.3"/><path d="M699 673.8 697.2 674.9 695.1 675.2 693.1 674.9 691.2 673.8 689.9 672.2 689.2 670.2 689.1 668" stroke="#1C2230" stroke-width="2.4"/><path d="M699 673.8 697.2 674.9 695.1 675.2 693.1 674.9 691.2 673.8 689.9 672.2 689.2 670.2 689.1 668" stroke="#7F8BA4" stroke-width="1.3"/><path d="M700.2 658.5 703.5 662.2 704.5 667 702.9 671.4 699.2 674.3 694.5 674.7 690.2 672.6 687.4 668.5" stroke="#1C2230" stroke-width="2.4"/><path d="M700.2 658.5 703.5 662.2 704.5 667 702.9 671.4 699.2 674.3 694.5 674.7 690.2 672.6 687.4 668.5" stroke="#7F8BA4" stroke-width="1.3"/><path d="M701.2 657.3 699.8 659 697.8 660.2 695.4 660.7 693 660.6 690.7 659.8 688.9 658.4 687.8 656.6" stroke="#1C2230" stroke-width="2.4"/><path d="M701.2 657.3 699.8 659 697.8 660.2 695.4 660.7 693 660.6 690.7 659.8 688.9 658.4 687.8 656.6" stroke="#7F8BA4" stroke-width="1.3"/><path d="M691.9 660.6 690.6 663.6 688.5 665.6 686.1 666.2 683.6 665.4 681.5 663.3 680.1 660.2 679.7 656.6" stroke="#1C2230" stroke-width="2.4"/><path d="M691.9 660.6 690.6 663.6 688.5 665.6 686.1 666.2 683.6 665.4 681.5 663.3 680.1 660.2 679.7 656.6" stroke="#7F8BA4" stroke-width="1.3"/><path d="M715.9 656.4 714 660.1 710.5 662.5 706.2 663.2 702 661.9 698.9 658.9 697.7 655 698.5 651" stroke="#1C2230" stroke-width="2.4"/><path d="M715.9 656.4 714 660.1 710.5 662.5 706.2 663.2 702 661.9 698.9 658.9 697.7 655 698.5 651" stroke="#7F8BA4" stroke-width="1.3"/><path d="M672.8 659.6 673.1 657.9 674.1 656.3 675.6 654.8 677.7 653.7 680.1 652.8 682.7 652.4 685.3 652.5" stroke="#1C2230" stroke-width="2.4"/><path d="M672.8 659.6 673.1 657.9 674.1 656.3 675.6 654.8 677.7 653.7 680.1 652.8 682.7 652.4 685.3 652.5" stroke="#7F8BA4" stroke-width="1.3"/><path d="M692.8 632.9 691.2 633.2 689.7 632.7 688.5 631.5 687.6 629.7 687.3 627.5 687.5 625.3 688.3 623.3" stroke="#1C2230" stroke-width="2.4"/><path d="M692.8 632.9 691.2 633.2 689.7 632.7 688.5 631.5 687.6 629.7 687.3 627.5 687.5 625.3 688.3 623.3" stroke="#7F8BA4" stroke-width="1.3"/><path d="M700.4 663.8 696 663.1 693.3 661.1 692.9 658.3 694.9 655.6 698.9 653.5 703.7 652.6 708.2 653.2" stroke="#1C2230" stroke-width="2.4"/><path d="M700.4 663.8 696 663.1 693.3 661.1 692.9 658.3 694.9 655.6 698.9 653.5 703.7 652.6 708.2 653.2" stroke="#7F8BA4" stroke-width="1.3"/><path d="M684.4 667.8 682.5 668.2 680.6 667.9 679 666.9 677.7 665.4 677.1 663.5 677.2 661.5 677.9 659.7" stroke="#1C2230" stroke-width="2.4"/><path d="M684.4 667.8 682.5 668.2 680.6 667.9 679 666.9 677.7 665.4 677.1 663.5 677.2 661.5 677.9 659.7" stroke="#7F8BA4" stroke-width="1.3"/><path d="M681.6 653.4 682.8 652 684.5 650.9 686.5 650.3 688.5 650.3 690.5 650.7 692.3 651.7 693.6 653.1" stroke="#1C2230" stroke-width="2.4"/><path d="M681.6 653.4 682.8 652 684.5 650.9 686.5 650.3 688.5 650.3 690.5 650.7 692.3 651.7 693.6 653.1" stroke="#7F8BA4" stroke-width="1.3"/><path d="M712.4 649.2 713.4 650.4 714 652.2 713.9 654.4 713.3 656.6 712.2 658.4 710.8 659.8 709.2 660.3" stroke="#1C2230" stroke-width="2.4"/><path d="M712.4 649.2 713.4 650.4 714 652.2 713.9 654.4 713.3 656.6 712.2 658.4 710.8 659.8 709.2 660.3" stroke="#7F8BA4" stroke-width="1.3"/><path d="M678.9 660.7 676.5 657.7 675.2 653 675.4 647.8 677.1 643.5 679.7 641.5 682.7 642.1 685.1 645.3" stroke="#1C2230" stroke-width="2.4"/><path d="M678.9 660.7 676.5 657.7 675.2 653 675.4 647.8 677.1 643.5 679.7 641.5 682.7 642.1 685.1 645.3" stroke="#7F8BA4" stroke-width="1.3"/><path d="M710.5 660 709.6 663.9 706.9 667 703 668.6 698.6 668.4 694.6 666.5 691.8 663.2 690.7 659.2" stroke="#1C2230" stroke-width="2.4"/><path d="M710.5 660 709.6 663.9 706.9 667 703 668.6 698.6 668.4 694.6 666.5 691.8 663.2 690.7 659.2" stroke="#7F8BA4" stroke-width="1.3"/><path d="M699.7 655.7 702.7 655.8 705.4 657 707.5 659.1 708.6 661.8 708.5 664.8 707.3 667.5 705.2 669.6" stroke="#1C2230" stroke-width="2.4"/><path d="M699.7 655.7 702.7 655.8 705.4 657 707.5 659.1 708.6 661.8 708.5 664.8 707.3 667.5 705.2 669.6" stroke="#7F8BA4" stroke-width="1.3"/><path d="M687 648.1 688.1 652.2 688 656.3 686.7 659.6 684.3 661.7 681.4 662.1 678.3 660.9 675.6 658.2" stroke="#1C2230" stroke-width="2.4"/><path d="M687 648.1 688.1 652.2 688 656.3 686.7 659.6 684.3 661.7 681.4 662.1 678.3 660.9 675.6 658.2" stroke="#7F8BA4" stroke-width="1.3"/><path d="M680.5 667.7 678.8 668.7 676.7 668.7 674.6 667.6 672.9 665.7 672 663.3 672 660.9 672.9 658.9" stroke="#1C2230" stroke-width="2.4"/><path d="M680.5 667.7 678.8 668.7 676.7 668.7 674.6 667.6 672.9 665.7 672 663.3 672 660.9 672.9 658.9" stroke="#7F8BA4" stroke-width="1.3"/><path d="M688.1 672.8 686.2 672.4 684.6 671.5 683.6 670 683.2 668.2 683.5 666.3 684.4 664.6 685.9 663.2" stroke="#1C2230" stroke-width="2.4"/><path d="M688.1 672.8 686.2 672.4 684.6 671.5 683.6 670 683.2 668.2 683.5 666.3 684.4 664.6 685.9 663.2" stroke="#7F8BA4" stroke-width="1.3"/><path d="M678.3 627.9 680.6 625.3 683.4 624.5 686.2 625.7 688.3 628.6 689.4 632.6 689.2 636.8 687.7 640.3" stroke="#1C2230" stroke-width="2.4"/><path d="M678.3 627.9 680.6 625.3 683.4 624.5 686.2 625.7 688.3 628.6 689.4 632.6 689.2 636.8 687.7 640.3" stroke="#7F8BA4" stroke-width="1.3"/></g>
<g opacity="0.75" stroke-linejoin="round"><path d="M706.8 656.3 707.1 659 705.9 661.5 703.5 663.2 700.4 664 697.2 663.6 694.5 662 692.9 659.7" stroke="#2A3040" stroke-width="4.2"/><path d="M706.8 656.3 707.1 659 705.9 661.5 703.5 663.2 700.4 664 697.2 663.6 694.5 662 692.9 659.7" stroke="#AEB6C8" stroke-width="2.9"/><path d="M705.4 661.3 707 663.6 707.1 666.5 705.7 669.4 703.1 671.4 700 672.2 697.2 671.5 695.2 669.5" stroke="#2A3040" stroke-width="4.2"/><path d="M705.4 661.3 707 663.6 707.1 666.5 705.7 669.4 703.1 671.4 700 672.2 697.2 671.5 695.2 669.5" stroke="#AEB6C8" stroke-width="2.9"/><path d="M696.7 662 694.6 661.6 692.9 660.4 691.8 658.7 691.4 656.7 691.7 654.7 692.8 652.9 694.5 651.5" stroke="#2A3040" stroke-width="4.2"/><path d="M696.7 662 694.6 661.6 692.9 660.4 691.8 658.7 691.4 656.7 691.7 654.7 692.8 652.9 694.5 651.5" stroke="#AEB6C8" stroke-width="2.9"/><path d="M713.2 657.1 713.2 659.1 712.2 661.2 710.2 663.2 707.7 664.6 705 665.3 702.6 665.1 700.9 664" stroke="#2A3040" stroke-width="4.2"/><path d="M713.2 657.1 713.2 659.1 712.2 661.2 710.2 663.2 707.7 664.6 705 665.3 702.6 665.1 700.9 664" stroke="#AEB6C8" stroke-width="2.9"/><path d="M700.8 664.4 697.9 666.7 694.7 667.8 691.9 667.6 690.2 666 689.9 663.5 691.1 660.5 693.5 657.8" stroke="#2A3040" stroke-width="4.2"/><path d="M700.8 664.4 697.9 666.7 694.7 667.8 691.9 667.6 690.2 666 689.9 663.5 691.1 660.5 693.5 657.8" stroke="#AEB6C8" stroke-width="2.9"/><path d="M705.1 656.3 704.4 659.4 702.4 662 699.6 663.5 696.7 663.7 694.3 662.4 693 659.9 693.1 656.9" stroke="#2A3040" stroke-width="4.2"/><path d="M705.1 656.3 704.4 659.4 702.4 662 699.6 663.5 696.7 663.7 694.3 662.4 693 659.9 693.1 656.9" stroke="#AEB6C8" stroke-width="2.9"/></g>
<g opacity="0.75" stroke-linejoin="round"><path d="M685.9 635 685.9 636.3 685.5 637.6 684.8 638.7 683.8 639.5 682.7 640 681.6 640.1 680.5 639.8" stroke="#2A3040" stroke-width="3.8"/><path d="M685.9 635 685.9 636.3 685.5 637.6 684.8 638.7 683.8 639.5 682.7 640 681.6 640.1 680.5 639.8" stroke="#A5AEC2" stroke-width="2.5"/><path d="M679.7 636.4 678.8 636.7 677.8 636.7 676.7 636.5 675.6 636 674.6 635.2 673.8 634.3 673.3 633.4" stroke="#2A3040" stroke-width="3.8"/><path d="M679.7 636.4 678.8 636.7 677.8 636.7 676.7 636.5 675.6 636 674.6 635.2 673.8 634.3 673.3 633.4" stroke="#A5AEC2" stroke-width="2.5"/><path d="M679.9 633.4 680.1 631.7 681.1 630.3 682.6 629.7 684.4 629.8 686.2 630.7 687.5 632.2 688.2 633.9" stroke="#2A3040" stroke-width="3.8"/><path d="M679.9 633.4 680.1 631.7 681.1 630.3 682.6 629.7 684.4 629.8 686.2 630.7 687.5 632.2 688.2 633.9" stroke="#A5AEC2" stroke-width="2.5"/><path d="M681.8 629 684.1 628.3 686.2 628.2 687.8 628.9 688.7 630.1 688.8 631.7 688 633.6 686.4 635.3" stroke="#2A3040" stroke-width="3.8"/><path d="M681.8 629 684.1 628.3 686.2 628.2 687.8 628.9 688.7 630.1 688.8 631.7 688 633.6 686.4 635.3" stroke="#A5AEC2" stroke-width="2.5"/><path d="M681.3 637.4 680.7 635.7 680.7 633.6 681.3 631.5 682.5 629.9 684 629 685.5 628.8 686.9 629.6" stroke="#2A3040" stroke-width="3.8"/><path d="M681.3 637.4 680.7 635.7 680.7 633.6 681.3 631.5 682.5 629.9 684 629 685.5 628.8 686.9 629.6" stroke="#A5AEC2" stroke-width="2.5"/></g>
<path d="M684 655C686 664 686 672 683 678M706 672C700 678 692 682 686 684" stroke="#99A4BC" stroke-width="2" opacity="0.9"/>
<path d="M679 680L684 676L688 683" stroke="#B9C0D0" stroke-width="3" opacity="0.9"/><path d="M679.5 683L685 685" stroke="#E9A21C" stroke-width="1.9"/>
</g></g>
<path d="M733 688H739" stroke="#ccc" stroke-width="0.6" stroke-dasharray="1.6 1"/>
<g clip-path="url(#ch5)">
<g filter="url(#b2)"><ellipse cx="798" cy="566" rx="33" ry="32" fill="#3F5860" opacity="0.7"/><ellipse cx="818" cy="578" rx="18" ry="20" fill="#98A69E" opacity="0.7"/></g>
<g filter="url(#b06)" fill="none" stroke-linecap="round">
<g opacity="1.0" stroke-linejoin="round"><path d="M793.4 534.6 794.8 536.9 795.4 539.6 795.1 542.4 793.9 545 791.9 547.2 789.3 548.7 786.4 549.5" stroke="#15242A" stroke-width="5.2"/><path d="M793.4 534.6 794.8 536.9 795.4 539.6 795.1 542.4 793.9 545 791.9 547.2 789.3 548.7 786.4 549.5" stroke="#789CA6" stroke-width="3.4"/><path d="M800.7 558.7 804.5 559 807 560.8 807.6 564 806.3 567.8 803.4 571.7 799.2 574.8 794.7 576.6" stroke="#15242A" stroke-width="5.2"/><path d="M800.7 558.7 804.5 559 807 560.8 807.6 564 806.3 567.8 803.4 571.7 799.2 574.8 794.7 576.6" stroke="#789CA6" stroke-width="3.4"/><path d="M831.5 566.7 836.4 568 839.9 571.1 841.2 575.2 839.8 579.2 836.3 582.1 831.4 583 826.5 581.8" stroke="#15242A" stroke-width="5.2"/><path d="M831.5 566.7 836.4 568 839.9 571.1 841.2 575.2 839.8 579.2 836.3 582.1 831.4 583 826.5 581.8" stroke="#789CA6" stroke-width="3.4"/><path d="M811 591 809.9 587.8 809.9 584.4 811 581.2 813 578.6 815.8 576.6 819.1 575.6 822.7 575.6" stroke="#15242A" stroke-width="5.2"/><path d="M811 591 809.9 587.8 809.9 584.4 811 581.2 813 578.6 815.8 576.6 819.1 575.6 822.7 575.6" stroke="#5E848E" stroke-width="3.4"/><path d="M788.4 554.7 789 556.6 788.6 558.9 787.1 561.3 784.8 563.6 781.8 565.5 778.5 566.8 775.1 567.5" stroke="#15242A" stroke-width="5.2"/><path d="M788.4 554.7 789 556.6 788.6 558.9 787.1 561.3 784.8 563.6 781.8 565.5 778.5 566.8 775.1 567.5" stroke="#789CA6" stroke-width="3.4"/><path d="M809.9 607.2 803.8 608.6 798 606.7 793.9 601.9 792.3 595.5 793.6 588.8 797.6 583.4 803.3 580.5" stroke="#15242A" stroke-width="5.2"/><path d="M809.9 607.2 803.8 608.6 798 606.7 793.9 601.9 792.3 595.5 793.6 588.8 797.6 583.4 803.3 580.5" stroke="#5E848E" stroke-width="3.4"/><path d="M757.3 575.5 755.8 571 756.6 566.4 759.6 563 763.9 561.7 768.4 562.9 771.6 566.2 772.9 570.8" stroke="#15242A" stroke-width="5.2"/><path d="M757.3 575.5 755.8 571 756.6 566.4 759.6 563 763.9 561.7 768.4 562.9 771.6 566.2 772.9 570.8" stroke="#789CA6" stroke-width="3.4"/><path d="M773.4 577.4 775.7 577.1 777.6 577.4 779.1 578.5 780.1 580.1 780.4 582.2 780.1 584.7 779.2 587.3" stroke="#15242A" stroke-width="5.2"/><path d="M773.4 577.4 775.7 577.1 777.6 577.4 779.1 578.5 780.1 580.1 780.4 582.2 780.1 584.7 779.2 587.3" stroke="#5E848E" stroke-width="3.4"/><path d="M781.7 568.9 780.5 572.5 778.5 575.7 775.8 577.9 772.7 579 769.5 579 766.5 577.7 764.2 575.3" stroke="#15242A" stroke-width="5.2"/><path d="M781.7 568.9 780.5 572.5 778.5 575.7 775.8 577.9 772.7 579 769.5 579 766.5 577.7 764.2 575.3" stroke="#5E848E" stroke-width="3.4"/><path d="M814.9 588.6 813.2 590.9 810.8 592.2 807.9 592.4 804.9 591.5 802.2 589.6 800.2 586.9 799.1 583.7" stroke="#15242A" stroke-width="5.2"/><path d="M814.9 588.6 813.2 590.9 810.8 592.2 807.9 592.4 804.9 591.5 802.2 589.6 800.2 586.9 799.1 583.7" stroke="#789CA6" stroke-width="3.4"/><path d="M813.7 531 816.6 533.1 818 536.1 817.6 539.5 815.6 542.5 812.3 544.6 808.4 545.2 804.8 544.3" stroke="#15242A" stroke-width="5.2"/><path d="M813.7 531 816.6 533.1 818 536.1 817.6 539.5 815.6 542.5 812.3 544.6 808.4 545.2 804.8 544.3" stroke="#5E848E" stroke-width="3.4"/><path d="M831.4 553.3 835.8 556.1 838.9 561 839.8 566.6 838.2 571.5 834.7 574.3 830.1 574.4 825.6 571.6" stroke="#15242A" stroke-width="5.2"/><path d="M831.4 553.3 835.8 556.1 838.9 561 839.8 566.6 838.2 571.5 834.7 574.3 830.1 574.4 825.6 571.6" stroke="#789CA6" stroke-width="3.4"/><path d="M802.2 584.5 795.4 584.7 790 582.1 787.2 577.3 787.8 571.3 791.5 565.6 797.6 561.6 804.5 560.1" stroke="#15242A" stroke-width="5.2"/><path d="M802.2 584.5 795.4 584.7 790 582.1 787.2 577.3 787.8 571.3 791.5 565.6 797.6 561.6 804.5 560.1" stroke="#789CA6" stroke-width="3.4"/><path d="M784.8 582.6 787.1 581.1 789.7 580.1 792.4 579.6 795 579.7 797.4 580.3 799.2 581.5 800.5 583" stroke="#15242A" stroke-width="5.2"/><path d="M784.8 582.6 787.1 581.1 789.7 580.1 792.4 579.6 795 579.7 797.4 580.3 799.2 581.5 800.5 583" stroke="#5E848E" stroke-width="3.4"/><path d="M794.7 566.1 794.6 571.1 792.1 575.6 787.8 578.9 782.3 580.2 776.6 579.5 771.6 576.9 768.3 572.7" stroke="#15242A" stroke-width="5.2"/><path d="M794.7 566.1 794.6 571.1 792.1 575.6 787.8 578.9 782.3 580.2 776.6 579.5 771.6 576.9 768.3 572.7" stroke="#789CA6" stroke-width="3.4"/><path d="M819 540.3 816.8 545 812.8 548.8 807.7 551.2 802.3 552 797.3 550.8 793.5 548 791.4 544" stroke="#15242A" stroke-width="5.2"/><path d="M819 540.3 816.8 545 812.8 548.8 807.7 551.2 802.3 552 797.3 550.8 793.5 548 791.4 544" stroke="#789CA6" stroke-width="3.4"/><path d="M804.4 595 802.4 600.1 798.2 603.8 792.8 605.3 787.3 604.3 782.8 600.9 780.3 596 780.3 590.5" stroke="#15242A" stroke-width="5.2"/><path d="M804.4 595 802.4 600.1 798.2 603.8 792.8 605.3 787.3 604.3 782.8 600.9 780.3 596 780.3 590.5" stroke="#789CA6" stroke-width="3.4"/><path d="M808.8 534.6 813.7 534.3 818.4 535.7 822.2 538.8 824.5 543.1 825.1 547.9 823.7 552.7 820.8 556.6" stroke="#15242A" stroke-width="5.2"/><path d="M808.8 534.6 813.7 534.3 818.4 535.7 822.2 538.8 824.5 543.1 825.1 547.9 823.7 552.7 820.8 556.6" stroke="#789CA6" stroke-width="3.4"/><path d="M803.3 560.5 805.7 561.2 807.7 562.6 809.2 564.6 810 567 810.1 569.5 809.5 572.1 808.2 574.3" stroke="#15242A" stroke-width="5.2"/><path d="M803.3 560.5 805.7 561.2 807.7 562.6 809.2 564.6 810 567 810.1 569.5 809.5 572.1 808.2 574.3" stroke="#789CA6" stroke-width="3.4"/><path d="M780.2 590.8 778.7 587.4 777.9 583.8 777.9 580.4 778.8 577.5 780.3 575.3 782.4 574.2 784.9 574.1" stroke="#15242A" stroke-width="5.2"/><path d="M780.2 590.8 778.7 587.4 777.9 583.8 777.9 580.4 778.8 577.5 780.3 575.3 782.4 574.2 784.9 574.1" stroke="#5E848E" stroke-width="3.4"/><path d="M832.9 565.8 835.9 570.5 836.2 576 833.5 580.9 828.7 584 822.7 584.8 817.1 582.9 813.1 578.8" stroke="#15242A" stroke-width="5.2"/><path d="M832.9 565.8 835.9 570.5 836.2 576 833.5 580.9 828.7 584 822.7 584.8 817.1 582.9 813.1 578.8" stroke="#789CA6" stroke-width="3.4"/><path d="M803.2 545.9 804.9 548.1 805.9 550.7 806 553.4 805.3 555.9 803.9 557.9 801.8 559.2 799.4 559.7" stroke="#15242A" stroke-width="5.2"/><path d="M803.2 545.9 804.9 548.1 805.9 550.7 806 553.4 805.3 555.9 803.9 557.9 801.8 559.2 799.4 559.7" stroke="#789CA6" stroke-width="3.4"/><path d="M786.7 585.9 790.9 586.9 794.2 589.2 795.9 592.4 795.8 596 794 599.4 790.7 602.1 786.5 603.5" stroke="#15242A" stroke-width="5.2"/><path d="M786.7 585.9 790.9 586.9 794.2 589.2 795.9 592.4 795.8 596 794 599.4 790.7 602.1 786.5 603.5" stroke="#789CA6" stroke-width="3.4"/><path d="M769.9 577.3 766.1 577.1 762.5 575.4 759.7 572.4 758 568.5 757.6 564.1 758.5 559.7 760.7 556" stroke="#15242A" stroke-width="5.2"/><path d="M769.9 577.3 766.1 577.1 762.5 575.4 759.7 572.4 758 568.5 757.6 564.1 758.5 559.7 760.7 556" stroke="#789CA6" stroke-width="3.4"/><path d="M804.2 539 803.1 536.3 802.9 533.3 803.8 530.5 805.7 528.1 808.2 526.6 811.1 526 814.1 526.4" stroke="#15242A" stroke-width="5.2"/><path d="M804.2 539 803.1 536.3 802.9 533.3 803.8 530.5 805.7 528.1 808.2 526.6 811.1 526 814.1 526.4" stroke="#789CA6" stroke-width="3.4"/><path d="M811.8 530.2 813.8 530.8 815.1 532.8 815.2 535.8 814.3 539.3 812.5 542.6 810.1 545 807.6 546.1" stroke="#15242A" stroke-width="5.2"/><path d="M811.8 530.2 813.8 530.8 815.1 532.8 815.2 535.8 814.3 539.3 812.5 542.6 810.1 545 807.6 546.1" stroke="#789CA6" stroke-width="3.4"/><path d="M775.7 586.5 773.3 584.3 771.5 581.6 770.3 578.7 769.9 575.9 770.2 573.2 771.4 571 773.2 569.3" stroke="#15242A" stroke-width="5.2"/><path d="M775.7 586.5 773.3 584.3 771.5 581.6 770.3 578.7 769.9 575.9 770.2 573.2 771.4 571 773.2 569.3" stroke="#5E848E" stroke-width="3.4"/><path d="M782.8 542.9 785.3 538.2 789 534.5 793.3 532.5 797.6 532.4 801.3 534.2 804 537.6 805.2 542.2" stroke="#15242A" stroke-width="5.2"/><path d="M782.8 542.9 785.3 538.2 789 534.5 793.3 532.5 797.6 532.4 801.3 534.2 804 537.6 805.2 542.2" stroke="#5E848E" stroke-width="3.4"/><path d="M779.3 570.4 777.3 574.5 773.8 577.1 769.7 577.5 766.1 575.7 763.9 572.1 763.8 567.7 765.8 563.7" stroke="#15242A" stroke-width="5.2"/><path d="M779.3 570.4 777.3 574.5 773.8 577.1 769.7 577.5 766.1 575.7 763.9 572.1 763.8 567.7 765.8 563.7" stroke="#5E848E" stroke-width="3.4"/><path d="M823.3 536.9 825.8 540.5 827.1 544.7 826.9 549.1 825.4 553.1 822.7 556.4 819 558.6 814.9 559.4" stroke="#15242A" stroke-width="5.2"/><path d="M823.3 536.9 825.8 540.5 827.1 544.7 826.9 549.1 825.4 553.1 822.7 556.4 819 558.6 814.9 559.4" stroke="#5E848E" stroke-width="3.4"/><path d="M832.1 573.2 828.5 573.3 824.8 571.8 821.4 568.7 818.8 564.4 817.3 559.6 817 554.7 818 550.4" stroke="#15242A" stroke-width="5.2"/><path d="M832.1 573.2 828.5 573.3 824.8 571.8 821.4 568.7 818.8 564.4 817.3 559.6 817 554.7 818 550.4" stroke="#789CA6" stroke-width="3.4"/><path d="M825.2 575.1 824.4 579.5 821 582.7 815.8 584.1 810.1 583.2 805 580.3 801.8 576 801.1 571.4" stroke="#15242A" stroke-width="5.2"/><path d="M825.2 575.1 824.4 579.5 821 582.7 815.8 584.1 810.1 583.2 805 580.3 801.8 576 801.1 571.4" stroke="#5E848E" stroke-width="3.4"/><path d="M811.7 588.6 806.4 591.3 800.3 592.2 794.5 591.1 790.3 588.4 788.6 584.5 789.8 580.3 793.5 576.6" stroke="#15242A" stroke-width="5.2"/><path d="M811.7 588.6 806.4 591.3 800.3 592.2 794.5 591.1 790.3 588.4 788.6 584.5 789.8 580.3 793.5 576.6" stroke="#789CA6" stroke-width="3.4"/><path d="M807.8 547.2 810.3 549 812.3 551.5 813.5 554.4 813.8 557.3 813.3 560 811.9 562.3 809.8 563.8" stroke="#15242A" stroke-width="5.2"/><path d="M807.8 547.2 810.3 549 812.3 551.5 813.5 554.4 813.8 557.3 813.3 560 811.9 562.3 809.8 563.8" stroke="#789CA6" stroke-width="3.4"/><path d="M779.1 556.8 782.5 560 785.3 564.3 787.1 569.3 787.7 574.3 787.2 578.8 785.4 582.3 782.7 584.4" stroke="#15242A" stroke-width="5.2"/><path d="M779.1 556.8 782.5 560 785.3 564.3 787.1 569.3 787.7 574.3 787.2 578.8 785.4 582.3 782.7 584.4" stroke="#789CA6" stroke-width="3.4"/><path d="M807.4 557 811.3 559.9 812.9 564.1 811.9 568.4 808.5 571.5 803.7 572.7 798.8 571.6 795.2 568.4" stroke="#15242A" stroke-width="5.2"/><path d="M807.4 557 811.3 559.9 812.9 564.1 811.9 568.4 808.5 571.5 803.7 572.7 798.8 571.6 795.2 568.4" stroke="#789CA6" stroke-width="3.4"/><path d="M771.5 554.1 769.5 553.4 767.7 552.3 766.2 550.8 765.3 549.2 764.8 547.4 764.8 545.7 765.5 544.1" stroke="#15242A" stroke-width="5.2"/><path d="M771.5 554.1 769.5 553.4 767.7 552.3 766.2 550.8 765.3 549.2 764.8 547.4 764.8 545.7 765.5 544.1" stroke="#789CA6" stroke-width="3.4"/><path d="M804.7 560.9 802.7 555.6 803.4 550 806.4 545.3 811.1 542.7 816.3 542.8 820.8 545.5 823.6 550.4" stroke="#15242A" stroke-width="5.2"/><path d="M804.7 560.9 802.7 555.6 803.4 550 806.4 545.3 811.1 542.7 816.3 542.8 820.8 545.5 823.6 550.4" stroke="#789CA6" stroke-width="3.4"/><path d="M771.6 572.3 776.3 571.6 780.6 573 783.6 576.3 784.6 580.5 783.2 584.8 779.9 587.9 775.4 589.3" stroke="#15242A" stroke-width="5.2"/><path d="M771.6 572.3 776.3 571.6 780.6 573 783.6 576.3 784.6 580.5 783.2 584.8 779.9 587.9 775.4 589.3" stroke="#5E848E" stroke-width="3.4"/><path d="M795.7 561.2 795.1 564.7 792.9 567.3 789.6 568.6 785.8 568.1 782.5 566.1 780.4 562.9 780 559.3" stroke="#15242A" stroke-width="5.2"/><path d="M795.7 561.2 795.1 564.7 792.9 567.3 789.6 568.6 785.8 568.1 782.5 566.1 780.4 562.9 780 559.3" stroke="#789CA6" stroke-width="3.4"/></g>
<g opacity="0.8" stroke-linejoin="round"><path d="M802.6 565.1 805.7 562.9 810 562.9 814.6 565.2 818.2 569.3 820.1 574.1 819.7 578.5 817.2 581.4" stroke="#4A5A58" stroke-width="4.4"/><path d="M802.6 565.1 805.7 562.9 810 562.9 814.6 565.2 818.2 569.3 820.1 574.1 819.7 578.5 817.2 581.4" stroke="#B9C6BE" stroke-width="3.0"/><path d="M817.8 597.6 816.6 598.9 815.2 599.5 813.8 599.4 812.4 598.7 811.3 597.3 810.4 595.5 809.9 593.3" stroke="#4A5A58" stroke-width="4.4"/><path d="M817.8 597.6 816.6 598.9 815.2 599.5 813.8 599.4 812.4 598.7 811.3 597.3 810.4 595.5 809.9 593.3" stroke="#B9C6BE" stroke-width="3.0"/><path d="M812.7 592.5 811.8 590.3 811.6 587.8 811.9 585.2 812.9 582.7 814.4 580.3 816.3 578.4 818.6 577" stroke="#4A5A58" stroke-width="4.4"/><path d="M812.7 592.5 811.8 590.3 811.6 587.8 811.9 585.2 812.9 582.7 814.4 580.3 816.3 578.4 818.6 577" stroke="#B9C6BE" stroke-width="3.0"/><path d="M817.5 592.3 814.5 591.4 812.4 589 811.7 585.5 812.4 581.6 814.5 577.9 817.5 575 821.1 573.5" stroke="#4A5A58" stroke-width="4.4"/><path d="M817.5 592.3 814.5 591.4 812.4 589 811.7 585.5 812.4 581.6 814.5 577.9 817.5 575 821.1 573.5" stroke="#B9C6BE" stroke-width="3.0"/><path d="M821.7 580.4 821.9 583.4 821.3 585.8 820.1 587.5 818.3 588.3 816.1 588 813.8 586.8 811.6 584.7" stroke="#4A5A58" stroke-width="4.4"/><path d="M821.7 580.4 821.9 583.4 821.3 585.8 820.1 587.5 818.3 588.3 816.1 588 813.8 586.8 811.6 584.7" stroke="#B9C6BE" stroke-width="3.0"/><path d="M819.1 578.7 815.7 580.5 812.1 581.4 808.8 581.2 806.4 579.9 805.3 577.7 805.7 575.1 807.4 572.3" stroke="#4A5A58" stroke-width="4.4"/><path d="M819.1 578.7 815.7 580.5 812.1 581.4 808.8 581.2 806.4 579.9 805.3 577.7 805.7 575.1 807.4 572.3" stroke="#B9C6BE" stroke-width="3.0"/><path d="M815.5 573.9 816.2 568.6 819.3 564.3 823.9 562 829 562.2 833.4 564.9 836.1 569.5 836.3 574.8" stroke="#4A5A58" stroke-width="4.4"/><path d="M815.5 573.9 816.2 568.6 819.3 564.3 823.9 562 829 562.2 833.4 564.9 836.1 569.5 836.3 574.8" stroke="#B9C6BE" stroke-width="3.0"/><path d="M835.8 574.1 836.2 579.7 833.4 584.6 828.2 587.5 822 587.6 816.7 584.8 813.7 579.9 813.8 574.4" stroke="#4A5A58" stroke-width="4.4"/><path d="M835.8 574.1 836.2 579.7 833.4 584.6 828.2 587.5 822 587.6 816.7 584.8 813.7 579.9 813.8 574.4" stroke="#B9C6BE" stroke-width="3.0"/><path d="M810.9 576.5 807.1 576.7 803.8 575.7 801.8 573.9 801.5 571.5 802.8 569 805.6 566.9 809.3 565.6" stroke="#4A5A58" stroke-width="4.4"/><path d="M810.9 576.5 807.1 576.7 803.8 575.7 801.8 573.9 801.5 571.5 802.8 569 805.6 566.9 809.3 565.6" stroke="#B9C6BE" stroke-width="3.0"/><path d="M815.7 581.6 813.7 578.5 813.1 574.8 814.2 571 816.7 567.7 820.2 565.7 824.1 565.3 827.6 566.4" stroke="#4A5A58" stroke-width="4.4"/><path d="M815.7 581.6 813.7 578.5 813.1 574.8 814.2 571 816.7 567.7 820.2 565.7 824.1 565.3 827.6 566.4" stroke="#B9C6BE" stroke-width="3.0"/><path d="M821 572.5 823.7 573.8 825.6 575.9 826.5 578.5 826.5 581.5 825.4 584.5 823.5 587.3 820.8 589.5" stroke="#4A5A58" stroke-width="4.4"/><path d="M821 572.5 823.7 573.8 825.6 575.9 826.5 578.5 826.5 581.5 825.4 584.5 823.5 587.3 820.8 589.5" stroke="#B9C6BE" stroke-width="3.0"/><path d="M821.4 573 823.7 573.1 825.2 574.7 825.6 577.4 825 580.7 823.3 584.1 821 586.9 818.4 588.6" stroke="#4A5A58" stroke-width="4.4"/><path d="M821.4 573 823.7 573.1 825.2 574.7 825.6 577.4 825 580.7 823.3 584.1 821 586.9 818.4 588.6" stroke="#B9C6BE" stroke-width="3.0"/><path d="M821.6 584.9 824.3 582.7 828.1 582.2 832.1 583.4 835.2 586 836.5 589.4 835.7 592.6 833 594.7" stroke="#4A5A58" stroke-width="4.4"/><path d="M821.6 584.9 824.3 582.7 828.1 582.2 832.1 583.4 835.2 586 836.5 589.4 835.7 592.6 833 594.7" stroke="#B9C6BE" stroke-width="3.0"/><path d="M813.7 580.8 815.4 584.3 815.4 587.9 813.7 590.8 810.8 592.3 807.2 592.2 803.8 590.4 801.3 587.3" stroke="#4A5A58" stroke-width="4.4"/><path d="M813.7 580.8 815.4 584.3 815.4 587.9 813.7 590.8 810.8 592.3 807.2 592.2 803.8 590.4 801.3 587.3" stroke="#B9C6BE" stroke-width="3.0"/><path d="M809.7 593.1 806.2 591.9 803.6 589.7 802.3 586.9 802.6 584 804.4 581.6 807.4 579.9 811.1 579.4" stroke="#4A5A58" stroke-width="4.4"/><path d="M809.7 593.1 806.2 591.9 803.6 589.7 802.3 586.9 802.6 584 804.4 581.6 807.4 579.9 811.1 579.4" stroke="#B9C6BE" stroke-width="3.0"/><path d="M819 567.7 820.2 572.8 819 577.9 815.5 581.8 810.7 583.7 805.5 583.2 801.1 580.3 798.5 575.8" stroke="#4A5A58" stroke-width="4.4"/><path d="M819 567.7 820.2 572.8 819 577.9 815.5 581.8 810.7 583.7 805.5 583.2 801.1 580.3 798.5 575.8" stroke="#B9C6BE" stroke-width="3.0"/></g>
<path d="M776 528L788 527" stroke="#93B0B6" stroke-width="3.8"/><path d="M803 606C806 610 810 611 812 608" stroke="#789CA6" stroke-width="3.4"/>
<path d="M771 565L771.6 571" stroke="#F6F8F4" stroke-width="3.2"/><path d="M785 581L789 579.6" stroke="#F6F8F4" stroke-width="3.2"/><path d="M759 576L762 574" stroke="#C6CCC8" stroke-width="3.4"/><path d="M820 550L822 560" stroke="#D3DBD3" stroke-width="3.4"/>
<path d="M772 572V582L776 586" stroke="#4D6C76" stroke-width="1.5"/><path d="M770 586.6L774.6 590.4" stroke="#E3B21E" stroke-width="2.4"/>
</g></g>
<path d="M826.6 610.6H838.8" stroke="#fff" stroke-width="0.8"/><path d="M829.7 609H835.7" stroke="#ddd" stroke-width="0.6" stroke-dasharray="1.2 0.8"/>
<g clip-path="url(#ch5)">
<g filter="url(#b2)"><ellipse cx="798" cy="657" rx="33" ry="29" fill="#4E626A" opacity="0.8"/><ellipse cx="802" cy="655" rx="26" ry="23" fill="#A4A998" opacity="0.85"/></g>
<g filter="url(#b06)" fill="none" stroke-linecap="round">
<g opacity="0.9" stroke-linejoin="round"><path d="M778.4 628 784.2 628.6 789.1 631.5 792.1 636.2 792.6 641.7 790.5 647 786.3 650.9 780.7 652.7" stroke="#1E2E34" stroke-width="4.6"/><path d="M778.4 628 784.2 628.6 789.1 631.5 792.1 636.2 792.6 641.7 790.5 647 786.3 650.9 780.7 652.7" stroke="#7F959A" stroke-width="2.9"/><path d="M781.7 629.4 786.2 630.2 789.7 633.8 791.5 639.1 790.8 644.5 788 648.4 783.8 649.8 779.5 648.2" stroke="#1E2E34" stroke-width="4.6"/><path d="M781.7 629.4 786.2 630.2 789.7 633.8 791.5 639.1 790.8 644.5 788 648.4 783.8 649.8 779.5 648.2" stroke="#7F959A" stroke-width="2.9"/><path d="M782 639.5 785.6 635.2 789.6 632.9 793.3 632.9 796.2 635.4 797.7 639.9 797.7 645.6 796 651.6" stroke="#1E2E34" stroke-width="4.6"/><path d="M782 639.5 785.6 635.2 789.6 632.9 793.3 632.9 796.2 635.4 797.7 639.9 797.7 645.6 796 651.6" stroke="#7F959A" stroke-width="2.9"/><path d="M787.9 666.5 787.5 671.6 784.7 675.9 780 678.6 774.3 679.2 768.6 677.6 763.8 674.2 760.9 669.4" stroke="#1E2E34" stroke-width="4.6"/><path d="M787.9 666.5 787.5 671.6 784.7 675.9 780 678.6 774.3 679.2 768.6 677.6 763.8 674.2 760.9 669.4" stroke="#7F959A" stroke-width="2.9"/><path d="M814.4 663.5 809.9 661.5 807 657.8 806.3 653.4 808.1 649.4 811.9 647 816.7 646.8 821.1 648.9" stroke="#1E2E34" stroke-width="4.6"/><path d="M814.4 663.5 809.9 661.5 807 657.8 806.3 653.4 808.1 649.4 811.9 647 816.7 646.8 821.1 648.9" stroke="#7F959A" stroke-width="2.9"/><path d="M802.1 681.5 798.8 681.5 795.5 679.6 792.8 676.2 791 671.9 790.6 667.5 791.5 663.6 793.7 660.9" stroke="#1E2E34" stroke-width="4.6"/><path d="M802.1 681.5 798.8 681.5 795.5 679.6 792.8 676.2 791 671.9 790.6 667.5 791.5 663.6 793.7 660.9" stroke="#7F959A" stroke-width="2.9"/><path d="M811.4 657.4 812.5 661.5 811.4 665.2 808.2 667.9 803.8 668.7 799 667.6 795.1 664.9 792.8 661" stroke="#1E2E34" stroke-width="4.6"/><path d="M811.4 657.4 812.5 661.5 811.4 665.2 808.2 667.9 803.8 668.7 799 667.6 795.1 664.9 792.8 661" stroke="#7F959A" stroke-width="2.9"/><path d="M817.8 674.8 815.3 675.3 812.3 675 809.3 673.8 806.5 671.9 804.2 669.5 802.8 666.9 802.3 664.4" stroke="#1E2E34" stroke-width="4.6"/><path d="M817.8 674.8 815.3 675.3 812.3 675 809.3 673.8 806.5 671.9 804.2 669.5 802.8 666.9 802.3 664.4" stroke="#7F959A" stroke-width="2.9"/><path d="M765.7 659.8 767 654.6 770.2 650.6 774.8 648.5 780.1 648.6 785.1 650.9 788.9 655 790.9 660.3" stroke="#1E2E34" stroke-width="4.6"/><path d="M765.7 659.8 767 654.6 770.2 650.6 774.8 648.5 780.1 648.6 785.1 650.9 788.9 655 790.9 660.3" stroke="#7F959A" stroke-width="2.9"/><path d="M780.1 650.3 782.6 651.3 784.8 652.9 786.4 655.1 787.2 657.5 787.3 660.1 786.6 662.6 785.1 664.8" stroke="#1E2E34" stroke-width="4.6"/><path d="M780.1 650.3 782.6 651.3 784.8 652.9 786.4 655.1 787.2 657.5 787.3 660.1 786.6 662.6 785.1 664.8" stroke="#7F959A" stroke-width="2.9"/><path d="M787.4 671.6 784.2 674.3 780.5 674.4 777.1 671.7 774.9 667 774.2 661.1 775.2 655.5 777.7 651.2" stroke="#1E2E34" stroke-width="4.6"/><path d="M787.4 671.6 784.2 674.3 780.5 674.4 777.1 671.7 774.9 667 774.2 661.1 775.2 655.5 777.7 651.2" stroke="#7F959A" stroke-width="2.9"/><path d="M809.8 646.7 814 650.7 816.4 656.3 816.7 662.5 814.8 667.8 811 671 806.2 671.5 801.6 669" stroke="#1E2E34" stroke-width="4.6"/><path d="M809.8 646.7 814 650.7 816.4 656.3 816.7 662.5 814.8 667.8 811 671 806.2 671.5 801.6 669" stroke="#7F959A" stroke-width="2.9"/><path d="M801.6 691.7 799 692.8 795.9 691.9 792.9 689.3 790.4 685.3 788.8 680.5 788.4 675.8 789.2 671.8" stroke="#1E2E34" stroke-width="4.6"/><path d="M801.6 691.7 799 692.8 795.9 691.9 792.9 689.3 790.4 685.3 788.8 680.5 788.4 675.8 789.2 671.8" stroke="#7F959A" stroke-width="2.9"/><path d="M788.7 675.3 783.7 670.6 781 664.5 781 658.2 783.8 653.1 788.8 650.4 794.9 650.6 800.7 653.6" stroke="#1E2E34" stroke-width="4.6"/><path d="M788.7 675.3 783.7 670.6 781 664.5 781 658.2 783.8 653.1 788.8 650.4 794.9 650.6 800.7 653.6" stroke="#7F959A" stroke-width="2.9"/><path d="M796.1 644.7 791.5 642.7 788.3 639.2 786.7 634.7 787.1 630 789.5 625.7 793.3 622.4 798.2 620.7" stroke="#1E2E34" stroke-width="4.6"/><path d="M796.1 644.7 791.5 642.7 788.3 639.2 786.7 634.7 787.1 630 789.5 625.7 793.3 622.4 798.2 620.7" stroke="#7F959A" stroke-width="2.9"/><path d="M808.4 628.3 811.4 634 811 641.1 807.3 647.7 801.2 652.1 794.3 653.3 788.4 650.8 784.9 645.4" stroke="#1E2E34" stroke-width="4.6"/><path d="M808.4 628.3 811.4 634 811 641.1 807.3 647.7 801.2 652.1 794.3 653.3 788.4 650.8 784.9 645.4" stroke="#7F959A" stroke-width="2.9"/><path d="M806.2 656.7 809.9 656.7 814 658.1 817.7 660.6 820.3 663.9 821.5 667.4 820.9 670.3 818.6 672.3" stroke="#1E2E34" stroke-width="4.6"/><path d="M806.2 656.7 809.9 656.7 814 658.1 817.7 660.6 820.3 663.9 821.5 667.4 820.9 670.3 818.6 672.3" stroke="#7F959A" stroke-width="2.9"/><path d="M833.9 676.6 828.6 680.6 822.1 682.1 815.6 680.8 810.3 676.8 807 671 806.5 664.4 808.8 658.1" stroke="#1E2E34" stroke-width="4.6"/><path d="M833.9 676.6 828.6 680.6 822.1 682.1 815.6 680.8 810.3 676.8 807 671 806.5 664.4 808.8 658.1" stroke="#7F959A" stroke-width="2.9"/><path d="M826 648.4 826.9 651.2 825.5 653.7 822.3 655.4 818 655.8 813.6 654.8 810.3 652.7 808.9 649.9" stroke="#1E2E34" stroke-width="4.6"/><path d="M826 648.4 826.9 651.2 825.5 653.7 822.3 655.4 818 655.8 813.6 654.8 810.3 652.7 808.9 649.9" stroke="#7F959A" stroke-width="2.9"/><path d="M798.8 627.9 801 626.3 803.3 625.3 805.7 624.8 808 625 809.8 625.8 811.2 627.2 811.9 628.9" stroke="#1E2E34" stroke-width="4.6"/><path d="M798.8 627.9 801 626.3 803.3 625.3 805.7 624.8 808 625 809.8 625.8 811.2 627.2 811.9 628.9" stroke="#7F959A" stroke-width="2.9"/><path d="M817.7 631.6 824.5 632.9 829.5 635.8 831.3 639.7 829.5 643.5 824.7 646.3 817.9 647.4 810.9 646.6" stroke="#1E2E34" stroke-width="4.6"/><path d="M817.7 631.6 824.5 632.9 829.5 635.8 831.3 639.7 829.5 643.5 824.7 646.3 817.9 647.4 810.9 646.6" stroke="#7F959A" stroke-width="2.9"/><path d="M778.7 658.5 776.5 654.1 775.6 648.9 776 643.6 777.7 638.9 780.4 635.3 783.9 633.3 787.7 633.1" stroke="#1E2E34" stroke-width="4.6"/><path d="M778.7 658.5 776.5 654.1 775.6 648.9 776 643.6 777.7 638.9 780.4 635.3 783.9 633.3 787.7 633.1" stroke="#7F959A" stroke-width="2.9"/><path d="M794.9 669.3 793.6 665.9 793 662.4 793 659.1 793.7 656.2 795 653.9 796.7 652.5 798.9 652.2" stroke="#1E2E34" stroke-width="4.6"/><path d="M794.9 669.3 793.6 665.9 793 662.4 793 659.1 793.7 656.2 795 653.9 796.7 652.5 798.9 652.2" stroke="#7F959A" stroke-width="2.9"/><path d="M795.7 638.5 795.8 635.7 797.8 633.2 801.3 631.5 805.7 631.1 809.9 632 813.3 634 815.1 636.7" stroke="#1E2E34" stroke-width="4.6"/><path d="M795.7 638.5 795.8 635.7 797.8 633.2 801.3 631.5 805.7 631.1 809.9 632 813.3 634 815.1 636.7" stroke="#7F959A" stroke-width="2.9"/><path d="M787.3 680.1 784.1 679.5 781.3 677.8 779.2 675.4 778.2 672.4 778.4 669.4 779.6 666.5 781.9 664.3" stroke="#1E2E34" stroke-width="4.6"/><path d="M787.3 680.1 784.1 679.5 781.3 677.8 779.2 675.4 778.2 672.4 778.4 669.4 779.6 666.5 781.9 664.3" stroke="#7F959A" stroke-width="2.9"/><path d="M787.5 659.2 791 661.1 793.9 663.6 795.9 666.2 797 668.9 796.9 671.3 795.6 673.2 793.3 674.3" stroke="#1E2E34" stroke-width="4.6"/><path d="M787.5 659.2 791 661.1 793.9 663.6 795.9 666.2 797 668.9 796.9 671.3 795.6 673.2 793.3 674.3" stroke="#7F959A" stroke-width="2.9"/><path d="M803 675.4 796.8 678.6 789.9 678.8 783.5 675.9 778.9 670.5 777.1 663.7 778.4 656.8 782.5 651.2" stroke="#1E2E34" stroke-width="4.6"/><path d="M803 675.4 796.8 678.6 789.9 678.8 783.5 675.9 778.9 670.5 777.1 663.7 778.4 656.8 782.5 651.2" stroke="#7F959A" stroke-width="2.9"/><path d="M824.8 659.3 824.3 665.1 821.6 670.1 817.3 673.4 811.9 674.4 806.5 673.1 801.9 669.5 798.9 664.3" stroke="#1E2E34" stroke-width="4.6"/><path d="M824.8 659.3 824.3 665.1 821.6 670.1 817.3 673.4 811.9 674.4 806.5 673.1 801.9 669.5 798.9 664.3" stroke="#7F959A" stroke-width="2.9"/><path d="M805.9 674 803.9 669.7 803.3 665 804 660.3 806.2 656.1 809.5 652.9 813.6 651 818.1 650.5" stroke="#1E2E34" stroke-width="4.6"/><path d="M805.9 674 803.9 669.7 803.3 665 804 660.3 806.2 656.1 809.5 652.9 813.6 651 818.1 650.5" stroke="#7F959A" stroke-width="2.9"/><path d="M791.2 689.9 786.6 689.9 783.3 687.2 781.7 682.6 782.4 676.7 785.1 670.9 789.3 666.1 794.2 663.5" stroke="#1E2E34" stroke-width="4.6"/><path d="M791.2 689.9 786.6 689.9 783.3 687.2 781.7 682.6 782.4 676.7 785.1 670.9 789.3 666.1 794.2 663.5" stroke="#7F959A" stroke-width="2.9"/><path d="M788.8 643.9 788.6 639.8 789.7 635.9 791.9 632.6 795.2 630.1 799.1 628.6 803.4 628.3 807.7 629.1" stroke="#1E2E34" stroke-width="4.6"/><path d="M788.8 643.9 788.6 639.8 789.7 635.9 791.9 632.6 795.2 630.1 799.1 628.6 803.4 628.3 807.7 629.1" stroke="#7F959A" stroke-width="2.9"/><path d="M804.6 652.7 806.3 650.1 808.7 648.9 811.4 649.4 814 651.5 816.1 654.7 817.3 658.7 817.5 662.8" stroke="#1E2E34" stroke-width="4.6"/><path d="M804.6 652.7 806.3 650.1 808.7 648.9 811.4 649.4 814 651.5 816.1 654.7 817.3 658.7 817.5 662.8" stroke="#7F959A" stroke-width="2.9"/><path d="M811.6 648.6 817.5 652.9 820.4 659.7 819.5 667.1 815.2 673.1 808.5 676.1 801.4 675.3 795.7 670.8" stroke="#1E2E34" stroke-width="4.6"/><path d="M811.6 648.6 817.5 652.9 820.4 659.7 819.5 667.1 815.2 673.1 808.5 676.1 801.4 675.3 795.7 670.8" stroke="#7F959A" stroke-width="2.9"/><path d="M822.8 645.9 819.8 646.7 817 646 814.9 643.7 813.8 640.4 814 636.5 815.3 632.8 817.5 629.8" stroke="#1E2E34" stroke-width="4.6"/><path d="M822.8 645.9 819.8 646.7 817 646 814.9 643.7 813.8 640.4 814 636.5 815.3 632.8 817.5 629.8" stroke="#7F959A" stroke-width="2.9"/></g>
<g opacity="0.85" stroke-linejoin="round"><path d="M818.1 644.8 820.7 645.9 822.7 648 824 651 824.3 654.4 823.7 657.8 822.3 660.8 820.1 663.1" stroke="#5A6054" stroke-width="4.2"/><path d="M818.1 644.8 820.7 645.9 822.7 648 824 651 824.3 654.4 823.7 657.8 822.3 660.8 820.1 663.1" stroke="#BDC1B0" stroke-width="3.0"/><path d="M804.8 654.7 803.6 652.1 803.3 649.3 803.9 646.6 805.5 644.3 807.7 642.8 810.4 642.2 813.1 642.6" stroke="#5A6054" stroke-width="4.2"/><path d="M804.8 654.7 803.6 652.1 803.3 649.3 803.9 646.6 805.5 644.3 807.7 642.8 810.4 642.2 813.1 642.6" stroke="#A9AE9E" stroke-width="3.0"/><path d="M810.9 653.4 807.5 651 805.3 647.5 804.5 643.6 805.2 639.7 807.4 636.6 810.7 634.6 814.6 634.1" stroke="#5A6054" stroke-width="4.2"/><path d="M810.9 653.4 807.5 651 805.3 647.5 804.5 643.6 805.2 639.7 807.4 636.6 810.7 634.6 814.6 634.1" stroke="#A9AE9E" stroke-width="3.0"/><path d="M807 657.6 806.1 655.4 805.7 652.8 805.8 650 806.4 647.4 807.5 644.9 808.9 642.9 810.7 641.5" stroke="#5A6054" stroke-width="4.2"/><path d="M807 657.6 806.1 655.4 805.7 652.8 805.8 650 806.4 647.4 807.5 644.9 808.9 642.9 810.7 641.5" stroke="#BDC1B0" stroke-width="3.0"/><path d="M801.4 644.7 801 648 799.6 650.9 797.3 652.8 794.4 653.7 791.2 653.3 788.3 651.8 785.8 649.2" stroke="#5A6054" stroke-width="4.2"/><path d="M801.4 644.7 801 648 799.6 650.9 797.3 652.8 794.4 653.7 791.2 653.3 788.3 651.8 785.8 649.2" stroke="#BDC1B0" stroke-width="3.0"/><path d="M808.3 642.6 806.4 641.8 804.7 639.7 803.6 636.9 803.3 633.9 803.9 631.4 805.3 630 807.1 629.9" stroke="#5A6054" stroke-width="4.2"/><path d="M808.3 642.6 806.4 641.8 804.7 639.7 803.6 636.9 803.3 633.9 803.9 631.4 805.3 630 807.1 629.9" stroke="#BDC1B0" stroke-width="3.0"/><path d="M781.5 664.1 779.5 661.9 778.6 659.6 778.8 657.3 780.1 655.3 782.4 653.8 785.4 653 788.8 653" stroke="#5A6054" stroke-width="4.2"/><path d="M781.5 664.1 779.5 661.9 778.6 659.6 778.8 657.3 780.1 655.3 782.4 653.8 785.4 653 788.8 653" stroke="#BDC1B0" stroke-width="3.0"/><path d="M795.6 640.4 795.5 635.8 797 632.4 799.6 631.2 802.5 632.6 804.9 636.2 806 640.8 805.6 645.2" stroke="#5A6054" stroke-width="4.2"/><path d="M795.6 640.4 795.5 635.8 797 632.4 799.6 631.2 802.5 632.6 804.9 636.2 806 640.8 805.6 645.2" stroke="#BDC1B0" stroke-width="3.0"/><path d="M818.5 657 816.8 655.8 815.6 654.1 814.8 652.1 814.6 650 815 648 816 646.2 817.5 644.9" stroke="#5A6054" stroke-width="4.2"/><path d="M818.5 657 816.8 655.8 815.6 654.1 814.8 652.1 814.6 650 815 648 816 646.2 817.5 644.9" stroke="#BDC1B0" stroke-width="3.0"/><path d="M790.4 665.2 791.8 662.6 793.5 661.2 795.4 661.1 797 662.3 798.1 664.7 798.5 667.8 798 671" stroke="#5A6054" stroke-width="4.2"/><path d="M790.4 665.2 791.8 662.6 793.5 661.2 795.4 661.1 797 662.3 798.1 664.7 798.5 667.8 798 671" stroke="#BDC1B0" stroke-width="3.0"/><path d="M821.9 638.7 821.5 641.5 820.4 644.1 818.8 646.3 816.9 647.8 814.9 648.3 813.2 647.8 811.9 646.3" stroke="#5A6054" stroke-width="4.2"/><path d="M821.9 638.7 821.5 641.5 820.4 644.1 818.8 646.3 816.9 647.8 814.9 648.3 813.2 647.8 811.9 646.3" stroke="#BDC1B0" stroke-width="3.0"/><path d="M796.3 650.4 795.8 653.4 794.4 656.3 792.4 658.6 790.3 659.6 788.6 659.1 787.5 657.2 787.5 654.5" stroke="#5A6054" stroke-width="4.2"/><path d="M796.3 650.4 795.8 653.4 794.4 656.3 792.4 658.6 790.3 659.6 788.6 659.1 787.5 657.2 787.5 654.5" stroke="#BDC1B0" stroke-width="3.0"/><path d="M800.3 630.7 803.5 631.7 805.5 633.7 805.8 636.3 804.4 638.8 801.6 640.7 798.1 641.6 794.6 641.3" stroke="#5A6054" stroke-width="4.2"/><path d="M800.3 630.7 803.5 631.7 805.5 633.7 805.8 636.3 804.4 638.8 801.6 640.7 798.1 641.6 794.6 641.3" stroke="#BDC1B0" stroke-width="3.0"/><path d="M824 662.6 822.3 667.2 818.8 670.3 814.4 671 810.4 669.1 807.8 665.3 807.4 660.4 809.3 655.9" stroke="#5A6054" stroke-width="4.2"/><path d="M824 662.6 822.3 667.2 818.8 670.3 814.4 671 810.4 669.1 807.8 665.3 807.4 660.4 809.3 655.9" stroke="#BDC1B0" stroke-width="3.0"/><path d="M800.9 644.9 799.2 648.9 796 651.7 791.8 652.7 787.7 651.6 784.6 648.7 783.2 644.6 783.8 640.3" stroke="#5A6054" stroke-width="4.2"/><path d="M800.9 644.9 799.2 648.9 796 651.7 791.8 652.7 787.7 651.6 784.6 648.7 783.2 644.6 783.8 640.3" stroke="#A9AE9E" stroke-width="3.0"/><path d="M792.3 657.3 796.1 660.1 798 664.3 797.5 668.9 794.7 672.7 790.3 674.9 785.5 674.8 781.4 672.4" stroke="#5A6054" stroke-width="4.2"/><path d="M792.3 657.3 796.1 660.1 798 664.3 797.5 668.9 794.7 672.7 790.3 674.9 785.5 674.8 781.4 672.4" stroke="#A9AE9E" stroke-width="3.0"/><path d="M789.1 647.3 793.5 648.9 797.2 652.1 799.1 656.2 798.8 660 796.3 662.4 792.3 662.9 787.9 661.3" stroke="#5A6054" stroke-width="4.2"/><path d="M789.1 647.3 793.5 648.9 797.2 652.1 799.1 656.2 798.8 660 796.3 662.4 792.3 662.9 787.9 661.3" stroke="#A9AE9E" stroke-width="3.0"/><path d="M805.3 671.3 801.1 670.6 797.3 668.2 794.8 664.6 793.9 660.4 794.7 656.3 797.2 653.1 800.9 651.2" stroke="#5A6054" stroke-width="4.2"/><path d="M805.3 671.3 801.1 670.6 797.3 668.2 794.8 664.6 793.9 660.4 794.7 656.3 797.2 653.1 800.9 651.2" stroke="#A9AE9E" stroke-width="3.0"/><path d="M811.4 667.8 812 670.2 811.6 672.6 810.4 674.5 808.6 675.6 806.4 675.8 804.2 675.1 802.4 673.4" stroke="#5A6054" stroke-width="4.2"/><path d="M811.4 667.8 812 670.2 811.6 672.6 810.4 674.5 808.6 675.6 806.4 675.8 804.2 675.1 802.4 673.4" stroke="#BDC1B0" stroke-width="3.0"/><path d="M805 654.8 804.4 651.7 805.4 649.3 807.6 648 810.7 648.3 814 649.9 816.8 652.5 818.5 655.7" stroke="#5A6054" stroke-width="4.2"/><path d="M805 654.8 804.4 651.7 805.4 649.3 807.6 648 810.7 648.3 814 649.9 816.8 652.5 818.5 655.7" stroke="#A9AE9E" stroke-width="3.0"/><path d="M793.6 664.2 791.9 668.4 788.8 671.5 785 672.6 781.5 671.4 779.1 668.3 778.5 664 779.8 659.6" stroke="#5A6054" stroke-width="4.2"/><path d="M793.6 664.2 791.9 668.4 788.8 671.5 785 672.6 781.5 671.4 779.1 668.3 778.5 664 779.8 659.6" stroke="#BDC1B0" stroke-width="3.0"/><path d="M786.9 662.9 785.5 659.9 786.2 657.3 788.8 655.6 792.6 655.4 796.6 656.7 799.7 659.2 801.1 662.1" stroke="#5A6054" stroke-width="4.2"/><path d="M786.9 662.9 785.5 659.9 786.2 657.3 788.8 655.6 792.6 655.4 796.6 656.7 799.7 659.2 801.1 662.1" stroke="#BDC1B0" stroke-width="3.0"/><path d="M819.2 653.1 820.5 652.3 822 652 823.7 652.1 825.4 652.6 827 653.4 828.4 654.6 829.5 655.9" stroke="#5A6054" stroke-width="4.2"/><path d="M819.2 653.1 820.5 652.3 822 652 823.7 652.1 825.4 652.6 827 653.4 828.4 654.6 829.5 655.9" stroke="#BDC1B0" stroke-width="3.0"/><path d="M820.9 653.7 821.2 657.8 820.4 661.2 818.6 663.3 816.1 663.9 813.4 662.8 810.8 660.2 808.8 656.5" stroke="#5A6054" stroke-width="4.2"/><path d="M820.9 653.7 821.2 657.8 820.4 661.2 818.6 663.3 816.1 663.9 813.4 662.8 810.8 660.2 808.8 656.5" stroke="#A9AE9E" stroke-width="3.0"/><path d="M804.1 630 807.2 633.1 808.4 637.1 807.5 641.3 804.7 644.7 800.5 646.6 796 646.7 792 644.8" stroke="#5A6054" stroke-width="4.2"/><path d="M804.1 630 807.2 633.1 808.4 637.1 807.5 641.3 804.7 644.7 800.5 646.6 796 646.7 792 644.8" stroke="#A9AE9E" stroke-width="3.0"/><path d="M796.8 655 798.9 656.7 800.7 658.9 802.1 661.6 802.9 664.5 803 667.3 802.5 669.9 801.4 671.9" stroke="#5A6054" stroke-width="4.2"/><path d="M796.8 655 798.9 656.7 800.7 658.9 802.1 661.6 802.9 664.5 803 667.3 802.5 669.9 801.4 671.9" stroke="#BDC1B0" stroke-width="3.0"/><path d="M798 651.8 794.8 652.7 791.5 651.8 789 649.6 787.8 646.4 788.3 643.1 790.3 640.4 793.3 639.1" stroke="#5A6054" stroke-width="4.2"/><path d="M798 651.8 794.8 652.7 791.5 651.8 789 649.6 787.8 646.4 788.3 643.1 790.3 640.4 793.3 639.1" stroke="#A9AE9E" stroke-width="3.0"/><path d="M809.7 661.9 809.5 664.5 808.3 666.9 806.3 668.7 803.8 669.5 801.3 669.1 799.3 667.7 798 665.5" stroke="#5A6054" stroke-width="4.2"/><path d="M809.7 661.9 809.5 664.5 808.3 666.9 806.3 668.7 803.8 669.5 801.3 669.1 799.3 667.7 798 665.5" stroke="#A9AE9E" stroke-width="3.0"/><path d="M784 652.2 785 647 788.2 642.9 792.9 640.8 797.7 641.4 801.6 644.4 803.3 649.1 802.6 654.3" stroke="#5A6054" stroke-width="4.2"/><path d="M784 652.2 785 647 788.2 642.9 792.9 640.8 797.7 641.4 801.6 644.4 803.3 649.1 802.6 654.3" stroke="#A9AE9E" stroke-width="3.0"/><path d="M785.7 663.4 784.8 658.4 786.6 653.7 790.7 650.6 795.9 649.8 800.8 651.7 804.1 655.7 804.7 660.7" stroke="#5A6054" stroke-width="4.2"/><path d="M785.7 663.4 784.8 658.4 786.6 653.7 790.7 650.6 795.9 649.8 800.8 651.7 804.1 655.7 804.7 660.7" stroke="#BDC1B0" stroke-width="3.0"/></g>
<path d="M777 657C776 664 776 668 777 672" stroke="#F4F6F0" stroke-width="2.8"/><path d="M793 682L800 680" stroke="#F4F6F0" stroke-width="3.2"/>
<path d="M777 673C778 680 780 686 784 690" stroke="#4D6C76" stroke-width="1.7"/><path d="M775 692L780 690" stroke="#7F959A" stroke-width="2.2"/><path d="M783 688L784.6 692" stroke="#E3B21E" stroke-width="2.2"/>
</g></g>
<path d="M824.2 694.2H836.9" stroke="#fff" stroke-width="0.8"/><path d="M827.5 692.6H833.5" stroke="#ddd" stroke-width="0.6" stroke-dasharray="1.2 0.8"/>
<text x="608.7" y="724.8" font-size="16.7" text-anchor="middle" fill="#000" >1d</text>
<text x="700" y="724.8" font-size="16.7" text-anchor="middle" fill="#000" >3d</text>
<text x="802" y="724.8" font-size="16.7" text-anchor="middle" fill="#000" >5d</text>
<text x="855.6" y="567.8" font-size="17.3" text-anchor="start" fill="#84CDB6" >Control</text>
<text x="854.6" y="671.8" font-size="17.3" text-anchor="start" fill="#8592BD" >Rotenone</text>
<text x="702.8" y="781.7" font-size="15.5" text-anchor="start" fill="#000" font-weight="bold">l</text>
<rect x="702" y="796" width="99.4" height="196.8" fill="#030304"/>
<g fill="#8a8a96" opacity="0.55"><circle cx="789.5" cy="918.7" r="0.4"/><circle cx="781.8" cy="824" r="0.3"/><circle cx="751.9" cy="959" r="0.4"/><circle cx="783.2" cy="910.3" r="0.4"/><circle cx="769.2" cy="931.5" r="0.3"/><circle cx="706" cy="822.8" r="0.3"/><circle cx="713.2" cy="959.1" r="0.3"/><circle cx="763.9" cy="918.5" r="0.4"/><circle cx="750.5" cy="797.6" r="0.4"/><circle cx="775.6" cy="894.6" r="0.3"/><circle cx="767" cy="809.8" r="0.4"/><circle cx="727.5" cy="811.4" r="0.3"/><circle cx="773.7" cy="836.8" r="0.4"/><circle cx="797.6" cy="892.8" r="0.3"/><circle cx="749.5" cy="929.6" r="0.4"/><circle cx="762.8" cy="921.7" r="0.2"/><circle cx="717.3" cy="846.3" r="0.4"/><circle cx="732.5" cy="907.1" r="0.2"/><circle cx="708.9" cy="849.1" r="0.4"/><circle cx="770.1" cy="928.1" r="0.3"/><circle cx="753.1" cy="887.1" r="0.3"/><circle cx="714.5" cy="970.4" r="0.2"/><circle cx="797.9" cy="978.6" r="0.2"/><circle cx="747.5" cy="956.1" r="0.4"/><circle cx="746.6" cy="849.1" r="0.3"/><circle cx="794.7" cy="837.9" r="0.3"/><circle cx="716.7" cy="898.7" r="0.4"/><circle cx="715.9" cy="956.1" r="0.3"/><circle cx="789" cy="933.4" r="0.3"/><circle cx="790.1" cy="891.3" r="0.2"/><circle cx="703.3" cy="892.4" r="0.3"/><circle cx="732.3" cy="824.3" r="0.3"/><circle cx="733.7" cy="960" r="0.2"/><circle cx="775.8" cy="959.8" r="0.2"/><circle cx="792.9" cy="935.3" r="0.4"/><circle cx="731.1" cy="869.2" r="0.3"/><circle cx="799.9" cy="911.3" r="0.3"/><circle cx="744.5" cy="850.4" r="0.2"/><circle cx="712.9" cy="958.9" r="0.3"/><circle cx="793.8" cy="845.4" r="0.3"/><circle cx="752.6" cy="833.8" r="0.3"/><circle cx="795.7" cy="968.5" r="0.4"/><circle cx="764.2" cy="974.2" r="0.4"/><circle cx="756.3" cy="936.6" r="0.2"/><circle cx="774" cy="884.5" r="0.4"/><circle cx="765.5" cy="852.5" r="0.2"/><circle cx="792.9" cy="821.7" r="0.3"/><circle cx="736.3" cy="854.8" r="0.4"/><circle cx="797.7" cy="847.5" r="0.4"/><circle cx="732.2" cy="905.1" r="0.3"/><circle cx="719.2" cy="828.4" r="0.3"/><circle cx="790.9" cy="893.4" r="0.3"/><circle cx="790.9" cy="990.3" r="0.3"/><circle cx="716.5" cy="834.3" r="0.2"/><circle cx="736.2" cy="814.7" r="0.3"/><circle cx="728.1" cy="907.5" r="0.4"/><circle cx="775.7" cy="877.1" r="0.3"/><circle cx="753.8" cy="870.1" r="0.3"/><circle cx="709" cy="850.8" r="0.4"/><circle cx="715.2" cy="894.7" r="0.4"/><circle cx="786.7" cy="838.9" r="0.3"/><circle cx="727.1" cy="874.6" r="0.3"/><circle cx="795.5" cy="961.6" r="0.4"/><circle cx="705.1" cy="803.3" r="0.4"/><circle cx="789.9" cy="888.8" r="0.3"/><circle cx="703" cy="873" r="0.4"/><circle cx="783.1" cy="963" r="0.4"/><circle cx="727.1" cy="818.2" r="0.2"/><circle cx="753.7" cy="929.3" r="0.4"/><circle cx="773" cy="922.6" r="0.4"/><circle cx="747.4" cy="904" r="0.2"/><circle cx="778.9" cy="842.1" r="0.4"/><circle cx="765.6" cy="855.9" r="0.2"/><circle cx="727.4" cy="920.4" r="0.4"/><circle cx="713.9" cy="810.6" r="0.3"/><circle cx="759.5" cy="872.3" r="0.3"/><circle cx="761.3" cy="799" r="0.3"/><circle cx="747.7" cy="983" r="0.4"/><circle cx="788.7" cy="889.2" r="0.3"/><circle cx="727" cy="983.4" r="0.4"/><circle cx="732.8" cy="801.2" r="0.3"/><circle cx="768.4" cy="878.5" r="0.3"/><circle cx="767.7" cy="976.5" r="0.3"/><circle cx="706.3" cy="862.6" r="0.3"/><circle cx="769.2" cy="835.4" r="0.4"/><circle cx="774.7" cy="894.9" r="0.3"/><circle cx="797.1" cy="857.5" r="0.4"/><circle cx="725.4" cy="840" r="0.4"/><circle cx="731.6" cy="981.7" r="0.3"/><circle cx="721.2" cy="840.3" r="0.3"/></g>
<path d="M703 812L712 797" stroke="#2E4A36" stroke-width="0.7"/><path d="M770 905L801 919" stroke="#4A3E36" stroke-width="1.6" opacity="0.7" stroke-dasharray="2 1.4"/>
<g clip-path="url(#chl)">
<g filter="url(#b2)"><ellipse cx="732" cy="839" rx="16" ry="18" fill="#A9A9C2" opacity="0.8"/><ellipse cx="772" cy="844" rx="16" ry="17" fill="#A9A9C2" opacity="0.8"/></g>
<g filter="url(#b06)" fill="none" stroke-linecap="round">
<g opacity="1.0" stroke-linejoin="round"><path d="M719.1 833.8 721.3 832.8 724.1 832.5 726.8 832.9 729.1 834 730.3 835.5 730.4 837.2 729.2 838.6" stroke="#55556E" stroke-width="4.4"/><path d="M719.1 833.8 721.3 832.8 724.1 832.5 726.8 832.9 729.1 834 730.3 835.5 730.4 837.2 729.2 838.6" stroke="#E6E6F6" stroke-width="3.1"/><path d="M732.7 855.5 729 855.1 725.8 853.2 723.5 850.1 722.4 846.3 722.9 842.3 724.7 838.9 727.6 836.5" stroke="#55556E" stroke-width="4.4"/><path d="M732.7 855.5 729 855.1 725.8 853.2 723.5 850.1 722.4 846.3 722.9 842.3 724.7 838.9 727.6 836.5" stroke="#E6E6F6" stroke-width="3.1"/><path d="M739.2 856.4 735.9 856.9 732.8 856 730.5 853.7 729.4 850.6 729.5 847 731.1 843.7 733.6 841.2" stroke="#55556E" stroke-width="4.4"/><path d="M739.2 856.4 735.9 856.9 732.8 856 730.5 853.7 729.4 850.6 729.5 847 731.1 843.7 733.6 841.2" stroke="#E6E6F6" stroke-width="3.1"/><path d="M727.6 824.3 728.1 823 728.9 821.9 730 821 731.2 820.4 732.5 820.2 733.9 820.4 735.1 821" stroke="#55556E" stroke-width="4.4"/><path d="M727.6 824.3 728.1 823 728.9 821.9 730 821 731.2 820.4 732.5 820.2 733.9 820.4 735.1 821" stroke="#E6E6F6" stroke-width="3.1"/><path d="M744.2 838.2 741.4 839.7 738.2 840 735.2 839.1 732.6 836.9 730.9 833.9 730.3 830.5 730.9 827.1" stroke="#55556E" stroke-width="4.4"/><path d="M744.2 838.2 741.4 839.7 738.2 840 735.2 839.1 732.6 836.9 730.9 833.9 730.3 830.5 730.9 827.1" stroke="#E6E6F6" stroke-width="3.1"/><path d="M727.9 844.6 725.6 842.1 724.2 839 723.8 835.6 724.5 832.3 726.2 829.4 728.7 827.2 731.8 825.9" stroke="#55556E" stroke-width="4.4"/><path d="M727.9 844.6 725.6 842.1 724.2 839 723.8 835.6 724.5 832.3 726.2 829.4 728.7 827.2 731.8 825.9" stroke="#E6E6F6" stroke-width="3.1"/><path d="M726.6 841.2 729.2 840.3 731.8 840.4 734 841.6 735.7 843.8 736.6 846.6 736.5 849.7 735.5 852.7" stroke="#55556E" stroke-width="4.4"/><path d="M726.6 841.2 729.2 840.3 731.8 840.4 734 841.6 735.7 843.8 736.6 846.6 736.5 849.7 735.5 852.7" stroke="#E6E6F6" stroke-width="3.1"/><path d="M737 824.6 738 829.6 735.9 834.1 731.5 836.5 726 836.3 721.1 833.4 718.2 828.7 718.3 823.7" stroke="#55556E" stroke-width="4.4"/><path d="M737 824.6 738 829.6 735.9 834.1 731.5 836.5 726 836.3 721.1 833.4 718.2 828.7 718.3 823.7" stroke="#E6E6F6" stroke-width="3.1"/><path d="M751 833.9 749.6 837.5 746.6 840.8 742.4 843 738.1 843.8 734.5 843 732.5 840.6 732.5 837.3" stroke="#55556E" stroke-width="4.4"/><path d="M751 833.9 749.6 837.5 746.6 840.8 742.4 843 738.1 843.8 734.5 843 732.5 840.6 732.5 837.3" stroke="#E6E6F6" stroke-width="3.1"/><path d="M729.5 848.9 726 848.7 724.1 846.7 724.3 843.6 726.7 840.1 730.4 837.4 734.5 836.3 737.6 837.1" stroke="#55556E" stroke-width="4.4"/><path d="M729.5 848.9 726 848.7 724.1 846.7 724.3 843.6 726.7 840.1 730.4 837.4 734.5 836.3 737.6 837.1" stroke="#E6E6F6" stroke-width="3.1"/><path d="M739.6 848.2 737.6 851.2 735.2 852.9 733 852.7 731.5 850.7 731.3 847.4 732.3 843.8 734.2 840.7" stroke="#55556E" stroke-width="4.4"/><path d="M739.6 848.2 737.6 851.2 735.2 852.9 733 852.7 731.5 850.7 731.3 847.4 732.3 843.8 734.2 840.7" stroke="#E6E6F6" stroke-width="3.1"/><path d="M726.5 831.9 725.2 829.9 725.4 827.7 727.1 825.9 729.7 825.1 732.6 825.4 734.7 826.8 735.6 829" stroke="#55556E" stroke-width="4.4"/><path d="M726.5 831.9 725.2 829.9 725.4 827.7 727.1 825.9 729.7 825.1 732.6 825.4 734.7 826.8 735.6 829" stroke="#E6E6F6" stroke-width="3.1"/><path d="M737.8 850.8 736.7 849.6 736 847.9 735.8 845.9 736.1 843.8 736.9 841.8 738.1 840.1 739.6 838.9" stroke="#55556E" stroke-width="4.4"/><path d="M737.8 850.8 736.7 849.6 736 847.9 735.8 845.9 736.1 843.8 736.9 841.8 738.1 840.1 739.6 838.9" stroke="#E6E6F6" stroke-width="3.1"/><path d="M738.8 843 739.7 839.9 741.9 837.8 744.9 837.3 747.8 838.4 749.7 840.9 750.2 844.1 749 847" stroke="#55556E" stroke-width="4.4"/><path d="M738.8 843 739.7 839.9 741.9 837.8 744.9 837.3 747.8 838.4 749.7 840.9 750.2 844.1 749 847" stroke="#E6E6F6" stroke-width="3.1"/><path d="M729.1 839.8 727.1 842.1 724.2 843.6 721 843.9 717.9 843.1 715.6 841.3 714.5 838.8 714.7 836.1" stroke="#55556E" stroke-width="4.4"/><path d="M729.1 839.8 727.1 842.1 724.2 843.6 721 843.9 717.9 843.1 715.6 841.3 714.5 838.8 714.7 836.1" stroke="#E6E6F6" stroke-width="3.1"/><path d="M714.7 844.5 715.1 841.7 716.5 839.3 718.5 837.5 721.1 836.5 723.9 836.4 726.5 837.3 728.6 839.1" stroke="#55556E" stroke-width="4.4"/><path d="M714.7 844.5 715.1 841.7 716.5 839.3 718.5 837.5 721.1 836.5 723.9 836.4 726.5 837.3 728.6 839.1" stroke="#E6E6F6" stroke-width="3.1"/><path d="M745.6 834.4 746.4 836.1 746.8 838.1 746.6 840.3 746 842.3 744.9 844.2 743.5 845.8 741.8 847" stroke="#55556E" stroke-width="4.4"/><path d="M745.6 834.4 746.4 836.1 746.8 838.1 746.6 840.3 746 842.3 744.9 844.2 743.5 845.8 741.8 847" stroke="#E6E6F6" stroke-width="3.1"/><path d="M729.8 831.6 728.8 833.3 727.4 834.6 725.7 835.3 723.9 835.5 722.2 834.9 721 833.8 720.3 832.3" stroke="#55556E" stroke-width="4.4"/><path d="M729.8 831.6 728.8 833.3 727.4 834.6 725.7 835.3 723.9 835.5 722.2 834.9 721 833.8 720.3 832.3" stroke="#E6E6F6" stroke-width="3.1"/><path d="M742.6 849.4 741.3 849.2 740.3 848.4 739.5 847.2 739.2 845.6 739.3 844 739.8 842.3 740.7 841" stroke="#55556E" stroke-width="4.4"/><path d="M742.6 849.4 741.3 849.2 740.3 848.4 739.5 847.2 739.2 845.6 739.3 844 739.8 842.3 740.7 841" stroke="#E6E6F6" stroke-width="3.1"/><path d="M722.2 842.7 723.1 840.5 724.8 839.3 726.9 839.3 729.1 840.5 730.9 842.7 732 845.5 732.3 848.3" stroke="#55556E" stroke-width="4.4"/><path d="M722.2 842.7 723.1 840.5 724.8 839.3 726.9 839.3 729.1 840.5 730.9 842.7 732 845.5 732.3 848.3" stroke="#E6E6F6" stroke-width="3.1"/><path d="M744.4 845.3 741.5 847.1 738.5 848.1 735.7 848.3 733.4 847.5 731.9 845.9 731.4 843.6 731.9 841.1" stroke="#55556E" stroke-width="4.4"/><path d="M744.4 845.3 741.5 847.1 738.5 848.1 735.7 848.3 733.4 847.5 731.9 845.9 731.4 843.6 731.9 841.1" stroke="#E6E6F6" stroke-width="3.1"/><path d="M738.1 845.2 739.2 846.6 740 848.3 740.4 850 740.4 851.7 740 853.1 739.2 854.2 738.2 854.9" stroke="#55556E" stroke-width="4.4"/><path d="M738.1 845.2 739.2 846.6 740 848.3 740.4 850 740.4 851.7 740 853.1 739.2 854.2 738.2 854.9" stroke="#E6E6F6" stroke-width="3.1"/><path d="M715.9 838.5 718.7 836.4 722 835.3 725.5 835.2 728.7 836.1 731.1 838.1 732.5 840.7 732.8 843.8" stroke="#55556E" stroke-width="4.4"/><path d="M715.9 838.5 718.7 836.4 722 835.3 725.5 835.2 728.7 836.1 731.1 838.1 732.5 840.7 732.8 843.8" stroke="#E6E6F6" stroke-width="3.1"/><path d="M739.9 841.8 740.2 844 739.8 846.2 738.6 848.3 736.9 849.9 734.8 851 732.4 851.5 730.1 851.2" stroke="#55556E" stroke-width="4.4"/><path d="M739.9 841.8 740.2 844 739.8 846.2 738.6 848.3 736.9 849.9 734.8 851 732.4 851.5 730.1 851.2" stroke="#E6E6F6" stroke-width="3.1"/><path d="M727.6 849.3 730.5 849.5 733.2 850.9 735 852.9 735.6 855.2 734.8 857.2 732.7 858.3 730 858.4" stroke="#55556E" stroke-width="4.4"/><path d="M727.6 849.3 730.5 849.5 733.2 850.9 735 852.9 735.6 855.2 734.8 857.2 732.7 858.3 730 858.4" stroke="#E6E6F6" stroke-width="3.1"/><path d="M728.9 828.3 729.7 826.2 731.1 824.8 732.9 824.2 734.8 824.6 736.7 825.9 738.1 827.9 738.9 830.4" stroke="#55556E" stroke-width="4.4"/><path d="M728.9 828.3 729.7 826.2 731.1 824.8 732.9 824.2 734.8 824.6 736.7 825.9 738.1 827.9 738.9 830.4" stroke="#E6E6F6" stroke-width="3.1"/></g>
<g opacity="1.0" stroke-linejoin="round"><path d="M778 853.5 772.8 855.1 767.6 854 763.6 850.3 761.9 845.1 763.1 839.8 766.7 835.8 771.8 834.1" stroke="#55556E" stroke-width="4.4"/><path d="M778 853.5 772.8 855.1 767.6 854 763.6 850.3 761.9 845.1 763.1 839.8 766.7 835.8 771.8 834.1" stroke="#E6E6F6" stroke-width="3.1"/><path d="M785.3 842 783.9 847.1 780.6 851 776.2 852.4 771.8 851.2 768.5 847.6 767.1 842.5 768 837.2" stroke="#55556E" stroke-width="4.4"/><path d="M785.3 842 783.9 847.1 780.6 851 776.2 852.4 771.8 851.2 768.5 847.6 767.1 842.5 768 837.2" stroke="#E6E6F6" stroke-width="3.1"/><path d="M762.4 851.6 763 849.3 764.6 847.1 766.9 845.4 769.5 844.5 772 844.5 773.8 845.5 774.7 847.3" stroke="#55556E" stroke-width="4.4"/><path d="M762.4 851.6 763 849.3 764.6 847.1 766.9 845.4 769.5 844.5 772 844.5 773.8 845.5 774.7 847.3" stroke="#E6E6F6" stroke-width="3.1"/><path d="M783.1 841.7 780.4 841.7 778.2 840.3 777 837.9 777.1 835.2 778.6 832.8 780.9 831.5 783.5 831.6" stroke="#55556E" stroke-width="4.4"/><path d="M783.1 841.7 780.4 841.7 778.2 840.3 777 837.9 777.1 835.2 778.6 832.8 780.9 831.5 783.5 831.6" stroke="#E6E6F6" stroke-width="3.1"/><path d="M767.7 837 768.1 834.9 769.2 833.3 770.9 832.5 772.7 832.8 774.4 834 775.5 836 775.9 838.2" stroke="#55556E" stroke-width="4.4"/><path d="M767.7 837 768.1 834.9 769.2 833.3 770.9 832.5 772.7 832.8 774.4 834 775.5 836 775.9 838.2" stroke="#E6E6F6" stroke-width="3.1"/><path d="M762.6 833.4 767.3 831 772.1 830.9 775.8 833.1 777.3 837 776.2 841.7 773 845.9 768.3 848.6" stroke="#55556E" stroke-width="4.4"/><path d="M762.6 833.4 767.3 831 772.1 830.9 775.8 833.1 777.3 837 776.2 841.7 773 845.9 768.3 848.6" stroke="#E6E6F6" stroke-width="3.1"/><path d="M773.7 860.1 771.7 859.5 769.9 858.3 768.7 856.7 768.1 854.9 768.1 852.9 768.8 850.9 770.1 849.3" stroke="#55556E" stroke-width="4.4"/><path d="M773.7 860.1 771.7 859.5 769.9 858.3 768.7 856.7 768.1 854.9 768.1 852.9 768.8 850.9 770.1 849.3" stroke="#E6E6F6" stroke-width="3.1"/><path d="M771 835.3 774.9 837.7 778.2 841.5 780 845.7 779.8 849.2 777.7 851.2 774.2 851 770.2 848.8" stroke="#55556E" stroke-width="4.4"/><path d="M771 835.3 774.9 837.7 778.2 841.5 780 845.7 779.8 849.2 777.7 851.2 774.2 851 770.2 848.8" stroke="#E6E6F6" stroke-width="3.1"/><path d="M756.9 841.9 757.4 840.2 759.4 839 762.3 838.6 765.5 839.2 768.1 840.4 769.7 842.2 769.8 844" stroke="#55556E" stroke-width="4.4"/><path d="M756.9 841.9 757.4 840.2 759.4 839 762.3 838.6 765.5 839.2 768.1 840.4 769.7 842.2 769.8 844" stroke="#E6E6F6" stroke-width="3.1"/><path d="M775.1 852.5 773.4 852.2 772 850.5 771.3 847.8 771.4 844.9 772.4 842.5 773.9 841.2 775.6 841.3" stroke="#55556E" stroke-width="4.4"/><path d="M775.1 852.5 773.4 852.2 772 850.5 771.3 847.8 771.4 844.9 772.4 842.5 773.9 841.2 775.6 841.3" stroke="#E6E6F6" stroke-width="3.1"/><path d="M767.7 846.1 770.4 846.9 772.9 848.6 774.6 850.8 775.3 853.3 774.8 855.4 773.2 856.8 770.8 857.3" stroke="#55556E" stroke-width="4.4"/><path d="M767.7 846.1 770.4 846.9 772.9 848.6 774.6 850.8 775.3 853.3 774.8 855.4 773.2 856.8 770.8 857.3" stroke="#E6E6F6" stroke-width="3.1"/><path d="M779.8 847.2 782 848.5 783.8 850.2 784.9 852.1 785.2 853.9 784.7 855.3 783.3 856.2 781.4 856.4" stroke="#55556E" stroke-width="4.4"/><path d="M779.8 847.2 782 848.5 783.8 850.2 784.9 852.1 785.2 853.9 784.7 855.3 783.3 856.2 781.4 856.4" stroke="#E6E6F6" stroke-width="3.1"/><path d="M757.9 832.2 760 830 762.9 829.4 765.8 830.4 768 833 769 836.4 768.6 839.9 766.8 842.5" stroke="#55556E" stroke-width="4.4"/><path d="M757.9 832.2 760 830 762.9 829.4 765.8 830.4 768 833 769 836.4 768.6 839.9 766.8 842.5" stroke="#E6E6F6" stroke-width="3.1"/><path d="M754.8 841.7 755.9 839.4 758.1 838.1 761 838.1 763.9 839.4 766.2 841.8 767.5 844.7 767.5 847.5" stroke="#55556E" stroke-width="4.4"/><path d="M754.8 841.7 755.9 839.4 758.1 838.1 761 838.1 763.9 839.4 766.2 841.8 767.5 844.7 767.5 847.5" stroke="#E6E6F6" stroke-width="3.1"/><path d="M777.4 835.8 778.8 838.4 779.1 841.4 778.1 844.3 776.1 846.6 773.4 848.1 770.3 848.5 767.3 847.8" stroke="#55556E" stroke-width="4.4"/><path d="M777.4 835.8 778.8 838.4 779.1 841.4 778.1 844.3 776.1 846.6 773.4 848.1 770.3 848.5 767.3 847.8" stroke="#E6E6F6" stroke-width="3.1"/><path d="M779.2 832.7 781.7 831.6 784.2 831.2 786.2 831.7 787.4 833 787.6 834.8 786.9 836.9 785.2 839" stroke="#55556E" stroke-width="4.4"/><path d="M779.2 832.7 781.7 831.6 784.2 831.2 786.2 831.7 787.4 833 787.6 834.8 786.9 836.9 785.2 839" stroke="#E6E6F6" stroke-width="3.1"/><path d="M777.5 829.5 781.6 829.9 785.4 831.9 787.8 834.9 788.5 838.4 787.2 841.6 784.2 843.7 780.2 844.2" stroke="#55556E" stroke-width="4.4"/><path d="M777.5 829.5 781.6 829.9 785.4 831.9 787.8 834.9 788.5 838.4 787.2 841.6 784.2 843.7 780.2 844.2" stroke="#E6E6F6" stroke-width="3.1"/><path d="M779.2 839.8 781.2 840.8 782.8 842.1 784 843.6 784.6 845 784.6 846.4 784.1 847.7 783 848.7" stroke="#55556E" stroke-width="4.4"/><path d="M779.2 839.8 781.2 840.8 782.8 842.1 784 843.6 784.6 845 784.6 846.4 784.1 847.7 783 848.7" stroke="#E6E6F6" stroke-width="3.1"/><path d="M776.6 854.5 773.9 855.5 771 855.6 768.3 854.9 766 853.3 764.2 851.1 763.2 848.5 762.9 845.5" stroke="#55556E" stroke-width="4.4"/><path d="M776.6 854.5 773.9 855.5 771 855.6 768.3 854.9 766 853.3 764.2 851.1 763.2 848.5 762.9 845.5" stroke="#E6E6F6" stroke-width="3.1"/><path d="M788.1 844.7 787 847.1 785.3 849.1 783.3 850.5 781 851.3 778.6 851.4 776.3 850.7 774.2 849.4" stroke="#55556E" stroke-width="4.4"/><path d="M788.1 844.7 787 847.1 785.3 849.1 783.3 850.5 781 851.3 778.6 851.4 776.3 850.7 774.2 849.4" stroke="#E6E6F6" stroke-width="3.1"/><path d="M780.4 859.4 778.5 859.7 776.8 859.3 775.3 858.3 774.1 856.7 773.3 854.6 772.9 852.2 773.1 849.7" stroke="#55556E" stroke-width="4.4"/><path d="M780.4 859.4 778.5 859.7 776.8 859.3 775.3 858.3 774.1 856.7 773.3 854.6 772.9 852.2 773.1 849.7" stroke="#E6E6F6" stroke-width="3.1"/><path d="M763.8 851.8 763.3 847.5 764.4 843.4 767 840.5 770.7 839.1 774.6 839.6 778.1 841.9 780.4 845.5" stroke="#55556E" stroke-width="4.4"/><path d="M763.8 851.8 763.3 847.5 764.4 843.4 767 840.5 770.7 839.1 774.6 839.6 778.1 841.9 780.4 845.5" stroke="#E6E6F6" stroke-width="3.1"/><path d="M772 845.7 772.8 847.1 773.1 848.6 772.9 850.2 772.1 851.7 770.8 852.9 769.1 853.9 767.2 854.4" stroke="#55556E" stroke-width="4.4"/><path d="M772 845.7 772.8 847.1 773.1 848.6 772.9 850.2 772.1 851.7 770.8 852.9 769.1 853.9 767.2 854.4" stroke="#E6E6F6" stroke-width="3.1"/><path d="M778 836.1 778.2 839.7 777 843 774.6 845.3 771.6 846 768.6 845 766.5 842.5 765.5 839.1" stroke="#55556E" stroke-width="4.4"/><path d="M778 836.1 778.2 839.7 777 843 774.6 845.3 771.6 846 768.6 845 766.5 842.5 765.5 839.1" stroke="#E6E6F6" stroke-width="3.1"/></g>
<path d="M742 824C744 816 752 816 754 822C756 828 752 836 748 838" stroke="#E6E6F6" stroke-width="2.7"/><path d="M750 858C756 866 768 864 778 860" stroke="#E6E6F6" stroke-width="2.7"/>
<path d="M714 830C718 822 724 818 730 818M790 838C792 846 790 854 786 860" stroke="#8A8AA2" stroke-width="1" opacity="0.8"/>
<path d="M742 862L745 868" stroke="#CFCFE2" stroke-width="2.4"/><ellipse cx="745.6" cy="873" rx="4.6" ry="4.4" fill="#7F8398" stroke="#D9DBEA" stroke-width="1"/><path d="M751 873L758 874L764 868L761 877L754 877" stroke="#C9CBDD" stroke-width="1.5"/>
<path d="M742.6 877.4L747.4 877.8" stroke="#E9E23A" stroke-width="1.7"/>
</g></g>
<path d="M771 884.2H784" stroke="#fff" stroke-width="0.8"/><path d="M774.5 882.6H780.5" stroke="#ddd" stroke-width="0.6" stroke-dasharray="1.2 0.8"/>
<g filter="url(#b2)"><ellipse cx="742" cy="939" rx="10" ry="14" fill="#74748A" opacity="0.7"/><ellipse cx="765" cy="938" rx="10" ry="14" fill="#74748A" opacity="0.7"/></g>
<g filter="url(#b06)" fill="none" stroke-linecap="round">
<path d="M731 918C730 912 733 909 736 912M737 916C737 909 741 908 743 913M752 914C752 908 756 908 757 913M762 916C763 909 767 908 768 914M766 912C768 907 771 908 771 913M724 942C720 936 722 928 728 926M727 948C722 940 726 930 732 928M776 930C782 931 786 928 788 926M777 936C784 938 790 932 792 928" stroke="#6F7896" stroke-width="1.5" opacity="0.85"/>
<g fill="#EDEDF8" stroke="none" opacity="0.9"><circle cx="736.4" cy="941" r="0.4"/><circle cx="742.5" cy="938.2" r="0.7"/><circle cx="744.2" cy="936.6" r="0.7"/><circle cx="740.6" cy="937.1" r="0.6"/><circle cx="740.2" cy="930" r="0.8"/><circle cx="744.6" cy="944.7" r="0.4"/><circle cx="732.9" cy="938.5" r="0.7"/><circle cx="742.9" cy="930.4" r="0.8"/><circle cx="746.1" cy="943.5" r="0.8"/><circle cx="741.1" cy="930" r="0.4"/><circle cx="741.5" cy="945.4" r="0.5"/><circle cx="743.5" cy="933.2" r="0.9"/><circle cx="743.6" cy="936.7" r="0.6"/><circle cx="740.5" cy="939.1" r="0.6"/><circle cx="744.6" cy="936.4" r="0.7"/><circle cx="747.2" cy="946.4" r="0.9"/><circle cx="742.3" cy="940.2" r="0.4"/><circle cx="740.8" cy="938.5" r="0.4"/><circle cx="732.9" cy="939.3" r="0.6"/><circle cx="735.9" cy="945.7" r="0.4"/><circle cx="738.5" cy="936.2" r="0.7"/><circle cx="744.1" cy="938.2" r="0.7"/><circle cx="739.1" cy="935.6" r="0.5"/><circle cx="751.5" cy="938.6" r="0.4"/><circle cx="739.4" cy="925.9" r="0.5"/><circle cx="740.5" cy="937.1" r="0.6"/><circle cx="738.7" cy="929.4" r="0.8"/><circle cx="746.8" cy="943.3" r="0.9"/><circle cx="736.5" cy="934.3" r="0.6"/><circle cx="749.2" cy="938.1" r="0.4"/><circle cx="743.7" cy="931.4" r="0.6"/><circle cx="743.4" cy="948.1" r="0.5"/><circle cx="748.4" cy="944.9" r="0.4"/><circle cx="742.3" cy="936.8" r="0.8"/><circle cx="744.4" cy="929.8" r="0.8"/><circle cx="742.1" cy="951" r="0.6"/><circle cx="743.1" cy="952.6" r="0.6"/><circle cx="735.9" cy="948.3" r="0.6"/><circle cx="740.1" cy="934" r="0.9"/><circle cx="741.9" cy="942.1" r="0.9"/><circle cx="746.3" cy="951" r="0.9"/><circle cx="741.2" cy="938.1" r="0.4"/><circle cx="743.5" cy="947.4" r="0.7"/><circle cx="747.5" cy="937.3" r="0.4"/><circle cx="738.7" cy="937" r="0.4"/><circle cx="734.6" cy="935" r="0.4"/><circle cx="734.4" cy="942.5" r="0.8"/><circle cx="735.4" cy="947.8" r="0.5"/><circle cx="740.2" cy="927" r="0.9"/><circle cx="739" cy="939.2" r="0.4"/><circle cx="738.1" cy="937.9" r="0.7"/><circle cx="749.2" cy="945.2" r="0.5"/><circle cx="746" cy="939.5" r="0.6"/><circle cx="736.5" cy="935.8" r="0.5"/><circle cx="732.8" cy="940.5" r="0.7"/><circle cx="743.5" cy="938.1" r="0.9"/><circle cx="747.4" cy="932.4" r="0.7"/><circle cx="733.2" cy="935.9" r="0.4"/><circle cx="737.6" cy="930.9" r="0.5"/><circle cx="740.7" cy="927.3" r="0.4"/><circle cx="740" cy="930" r="0.6"/><circle cx="740.6" cy="936.6" r="0.7"/><circle cx="735.8" cy="948.4" r="0.5"/><circle cx="745.6" cy="928.3" r="0.7"/><circle cx="743.3" cy="937.1" r="0.7"/><circle cx="736.1" cy="931.5" r="0.6"/><circle cx="745.7" cy="941.6" r="0.7"/><circle cx="743" cy="942.2" r="0.6"/><circle cx="735.2" cy="940.9" r="0.4"/><circle cx="742.9" cy="931" r="0.8"/><circle cx="751.3" cy="939.7" r="0.7"/><circle cx="751.3" cy="936.9" r="0.8"/><circle cx="746.4" cy="944.1" r="0.5"/><circle cx="742.8" cy="933" r="0.5"/><circle cx="744.5" cy="942.1" r="0.9"/><circle cx="747.7" cy="937.7" r="0.8"/><circle cx="735.3" cy="941.1" r="0.6"/><circle cx="738.9" cy="933.9" r="0.5"/><circle cx="737.8" cy="938.3" r="0.6"/><circle cx="743.3" cy="938.3" r="0.4"/><circle cx="742.7" cy="935.8" r="0.5"/><circle cx="746.4" cy="930.3" r="0.5"/><circle cx="746.6" cy="941.6" r="0.5"/><circle cx="744.9" cy="925.9" r="0.8"/><circle cx="749.5" cy="931.2" r="0.9"/><circle cx="750.2" cy="932.4" r="0.4"/><circle cx="740.1" cy="945.3" r="0.7"/><circle cx="736.4" cy="939.4" r="0.9"/><circle cx="738.5" cy="942.8" r="0.5"/><circle cx="734.8" cy="941.6" r="0.7"/><circle cx="738.2" cy="941.2" r="0.6"/><circle cx="740.2" cy="944.2" r="0.7"/><circle cx="745" cy="949.9" r="0.7"/><circle cx="746.9" cy="947.4" r="0.6"/><circle cx="735" cy="942.6" r="0.8"/><circle cx="748.1" cy="931" r="0.5"/><circle cx="736.7" cy="936.9" r="0.4"/><circle cx="735.8" cy="935.9" r="0.9"/><circle cx="738.1" cy="950.4" r="0.7"/><circle cx="748.5" cy="945.9" r="0.5"/><circle cx="739.5" cy="938.2" r="0.4"/><circle cx="743.7" cy="937.6" r="0.4"/><circle cx="743.5" cy="942.7" r="0.8"/><circle cx="749.7" cy="938.7" r="0.6"/><circle cx="747.2" cy="932.6" r="0.4"/><circle cx="739.9" cy="931.2" r="0.5"/><circle cx="739.5" cy="946.9" r="0.5"/><circle cx="735.3" cy="930.5" r="0.7"/><circle cx="749.8" cy="939.7" r="0.4"/><circle cx="733.2" cy="940.7" r="0.8"/><circle cx="748.9" cy="932.4" r="0.5"/><circle cx="746" cy="946.4" r="0.8"/><circle cx="742.6" cy="947" r="0.8"/><circle cx="737.8" cy="947.9" r="0.7"/><circle cx="743.4" cy="938" r="0.5"/><circle cx="743.4" cy="927.7" r="0.4"/><circle cx="744.9" cy="943.8" r="0.7"/><circle cx="745.6" cy="935.2" r="0.5"/><circle cx="739.6" cy="930.6" r="0.9"/><circle cx="751.2" cy="938.9" r="0.8"/><circle cx="739.7" cy="939.1" r="0.8"/><circle cx="736.8" cy="944.7" r="0.7"/><circle cx="748.9" cy="936.7" r="0.9"/><circle cx="744.7" cy="938.1" r="0.6"/><circle cx="748.4" cy="931.1" r="0.9"/><circle cx="744.7" cy="948.4" r="0.9"/><circle cx="734.5" cy="936.2" r="0.9"/><circle cx="743" cy="941.9" r="0.9"/><circle cx="738.3" cy="935.9" r="0.8"/><circle cx="741.3" cy="943.9" r="0.5"/><circle cx="770.9" cy="940" r="0.8"/><circle cx="756.1" cy="941.9" r="0.4"/><circle cx="766.7" cy="942.7" r="0.7"/><circle cx="767.4" cy="948.9" r="0.7"/><circle cx="757.4" cy="931.7" r="0.8"/><circle cx="768.3" cy="935.4" r="0.6"/><circle cx="770.8" cy="935.8" r="0.5"/><circle cx="761" cy="938.7" r="0.9"/><circle cx="763.1" cy="934.8" r="0.9"/><circle cx="760.3" cy="937.1" r="0.7"/><circle cx="770.3" cy="935.4" r="0.4"/><circle cx="765.7" cy="941.2" r="0.7"/><circle cx="761.7" cy="950" r="0.5"/><circle cx="771.4" cy="938.9" r="0.4"/><circle cx="763.3" cy="944.2" r="0.5"/><circle cx="759" cy="927.8" r="0.6"/><circle cx="761.5" cy="931.9" r="0.9"/><circle cx="763.5" cy="937.2" r="0.8"/><circle cx="765.5" cy="940.9" r="0.4"/><circle cx="769.3" cy="928.1" r="0.6"/><circle cx="757.5" cy="933.8" r="0.4"/><circle cx="762.8" cy="926.7" r="0.9"/><circle cx="771.7" cy="941.8" r="0.7"/><circle cx="768.3" cy="931" r="0.7"/><circle cx="769.5" cy="933" r="0.7"/><circle cx="766.4" cy="936.4" r="0.9"/><circle cx="762.5" cy="946.7" r="0.5"/><circle cx="767" cy="928.2" r="0.8"/><circle cx="772.1" cy="946" r="0.8"/><circle cx="763.1" cy="932" r="0.5"/><circle cx="762.7" cy="939.1" r="0.9"/><circle cx="757.2" cy="945.5" r="0.5"/><circle cx="759.9" cy="928" r="0.7"/><circle cx="763.8" cy="938.9" r="0.6"/><circle cx="757.9" cy="946.7" r="0.9"/><circle cx="774.1" cy="934.3" r="0.5"/><circle cx="770" cy="939.4" r="0.4"/><circle cx="770.3" cy="945.2" r="0.5"/><circle cx="760.5" cy="932.5" r="0.5"/><circle cx="769" cy="936.8" r="0.9"/><circle cx="757.4" cy="936.1" r="0.4"/><circle cx="764.7" cy="924.8" r="0.5"/><circle cx="757.4" cy="939.9" r="0.6"/><circle cx="765.1" cy="926.8" r="0.5"/><circle cx="761.5" cy="926.8" r="0.6"/><circle cx="758.6" cy="932" r="0.6"/><circle cx="770.1" cy="942.7" r="0.8"/><circle cx="764.6" cy="934.2" r="0.6"/><circle cx="759.1" cy="932.6" r="0.4"/><circle cx="760.2" cy="928.7" r="0.7"/><circle cx="771.7" cy="934.1" r="0.4"/><circle cx="763.3" cy="949.4" r="0.4"/><circle cx="772.8" cy="935.4" r="0.8"/><circle cx="765.4" cy="939" r="0.9"/><circle cx="758.7" cy="937.4" r="0.7"/><circle cx="765.7" cy="929.5" r="0.8"/><circle cx="769.9" cy="949.8" r="0.8"/><circle cx="762.3" cy="946.8" r="0.9"/><circle cx="761.4" cy="948.4" r="0.9"/><circle cx="769.7" cy="936.3" r="0.8"/><circle cx="758.4" cy="930.1" r="0.4"/><circle cx="759.5" cy="942.9" r="0.8"/><circle cx="763.1" cy="938.9" r="0.5"/><circle cx="769.4" cy="926.5" r="0.7"/><circle cx="772.3" cy="943.9" r="0.9"/><circle cx="763.5" cy="947.5" r="0.5"/><circle cx="772.7" cy="942" r="0.4"/><circle cx="772.7" cy="944.9" r="0.4"/><circle cx="765.5" cy="925.4" r="0.5"/><circle cx="761.9" cy="942.8" r="0.8"/><circle cx="773.1" cy="936" r="0.6"/><circle cx="759.1" cy="935.9" r="0.8"/><circle cx="764.4" cy="944.9" r="0.8"/><circle cx="764.7" cy="951.9" r="0.8"/><circle cx="765.6" cy="939.9" r="0.7"/><circle cx="769.5" cy="945.4" r="0.7"/><circle cx="767.1" cy="929.9" r="0.7"/><circle cx="766.4" cy="933.3" r="0.6"/><circle cx="767" cy="930.2" r="0.9"/><circle cx="767.4" cy="940.1" r="0.6"/><circle cx="759.4" cy="939.9" r="0.5"/><circle cx="756.5" cy="942.3" r="0.9"/><circle cx="761.6" cy="933" r="0.7"/><circle cx="766.3" cy="940.9" r="0.8"/><circle cx="764.6" cy="943.6" r="0.8"/><circle cx="768.3" cy="942.7" r="0.4"/><circle cx="771.1" cy="930.8" r="0.5"/><circle cx="773.1" cy="943.8" r="0.4"/><circle cx="763.3" cy="926.7" r="0.7"/><circle cx="758.9" cy="939.2" r="0.5"/><circle cx="762.8" cy="933.7" r="0.6"/><circle cx="764.6" cy="946.5" r="0.9"/><circle cx="758" cy="933.4" r="0.7"/><circle cx="773.4" cy="938.1" r="0.9"/><circle cx="764.8" cy="927.9" r="0.9"/><circle cx="769.7" cy="935.5" r="0.4"/><circle cx="764.3" cy="939.6" r="0.5"/><circle cx="765.8" cy="938.6" r="0.6"/><circle cx="771.6" cy="938.4" r="0.9"/><circle cx="764.5" cy="934.9" r="0.8"/><circle cx="768.1" cy="949.7" r="0.7"/><circle cx="759" cy="935.5" r="0.9"/><circle cx="767.2" cy="950.9" r="0.5"/><circle cx="768.7" cy="941.6" r="0.4"/><circle cx="767" cy="932.7" r="0.7"/><circle cx="764.1" cy="946.3" r="0.8"/><circle cx="760.3" cy="935.8" r="0.8"/><circle cx="766.2" cy="940.2" r="0.8"/><circle cx="770" cy="928.2" r="0.8"/><circle cx="773.3" cy="932.3" r="0.7"/><circle cx="768.2" cy="947.6" r="0.6"/><circle cx="763.5" cy="930" r="0.4"/><circle cx="766.2" cy="943" r="0.8"/><circle cx="762.4" cy="928.5" r="0.5"/><circle cx="764.2" cy="928.7" r="0.6"/><circle cx="768.1" cy="951.2" r="0.6"/><circle cx="760.7" cy="939.1" r="0.6"/><circle cx="758.9" cy="939.7" r="0.8"/><circle cx="761.2" cy="947.5" r="0.8"/><circle cx="770.7" cy="947.5" r="0.4"/><circle cx="764.6" cy="950.7" r="0.4"/><circle cx="764" cy="946.9" r="0.9"/><circle cx="769.3" cy="936.7" r="0.7"/><circle cx="768.3" cy="929.2" r="0.5"/><circle cx="766.4" cy="941" r="0.4"/><circle cx="772.7" cy="941.5" r="0.7"/><circle cx="773.4" cy="943.6" r="0.9"/><circle cx="760.1" cy="942.3" r="0.9"/><circle cx="760.8" cy="927.6" r="0.5"/><circle cx="764.2" cy="928.8" r="0.4"/></g>
<path d="M738 950C740 958 744 962 748 966M768 950C766 956 762 958 758 960" stroke="#A5A8BC" stroke-width="1.7"/>
<path d="M744 958L746.4 962.6" stroke="#F2F2FC" stroke-width="2.6"/><path d="M757 957L755.6 960.4" stroke="#F2F2FC" stroke-width="2.6"/>
<ellipse cx="753.4" cy="968" rx="5" ry="4.2" fill="#70748A" stroke="#D9DBEA" stroke-width="1"/><path d="M760 967L764 969" stroke="#C9CBDD" stroke-width="1.5"/>
<path d="M750.4 971.8L756.4 971.6" stroke="#F0EC5A" stroke-width="1.9"/>
</g>
<path d="M774.2 979.4H787.2" stroke="#fff" stroke-width="0.8"/><path d="M777.7 977.8H783.7" stroke="#ddd" stroke-width="0.6" stroke-dasharray="1.2 0.8"/>
<text x="820.4" y="852.9" font-size="17.3" text-anchor="start" fill="#4A8CE8" letter-spacing="0.2">ds<tspan font-style="italic">RFP</tspan></text>
<text x="820.4" y="955.3" font-size="17.3" text-anchor="start" fill="#F5A050" letter-spacing="0.2">ds<tspan font-style="italic">ATPeF1B</tspan></text>
</svg>
</body></html>
